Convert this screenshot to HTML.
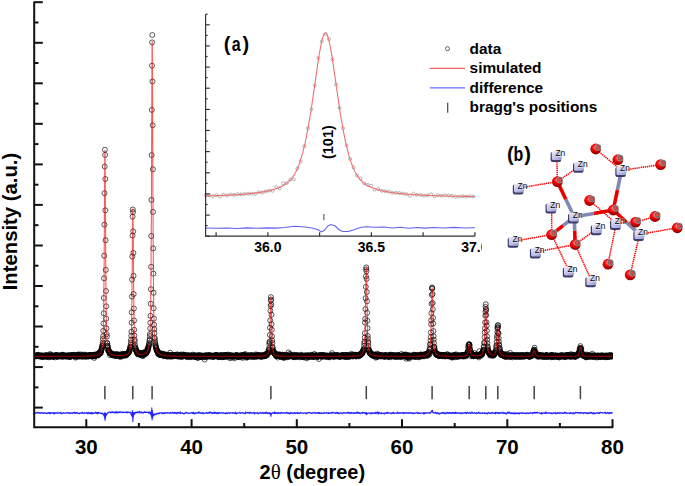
<!DOCTYPE html>
<html><head><meta charset="utf-8"><style>
html,body{margin:0;padding:0;background:#fff;width:685px;height:486px;overflow:hidden}
svg{display:block}
text{font-family:"Liberation Sans",sans-serif;font-weight:bold;fill:#000}
</style></head><body>
<svg width="685" height="486" viewBox="0 0 685 486">
<defs><clipPath id="pc"><rect x="34" y="0" width="578.6" height="430"/></clipPath></defs>
<g clip-path="url(#pc)"><g fill="none" stroke="#000" stroke-width="0.65"><circle cx="35.7" cy="356.2" r="2.5"/><circle cx="35.8" cy="356.1" r="2.5"/><circle cx="36" cy="355.6" r="2.5"/><circle cx="36.2" cy="356.1" r="2.5"/><circle cx="36.4" cy="356.4" r="2.5"/><circle cx="36.6" cy="355.4" r="2.5"/><circle cx="36.7" cy="355.9" r="2.5"/><circle cx="36.9" cy="355.2" r="2.5"/><circle cx="37.1" cy="355.5" r="2.5"/><circle cx="37.3" cy="355.2" r="2.5"/><circle cx="37.5" cy="356" r="2.5"/><circle cx="37.6" cy="355.5" r="2.5"/><circle cx="37.8" cy="356.2" r="2.5"/><circle cx="38" cy="356.1" r="2.5"/><circle cx="38.2" cy="356" r="2.5"/><circle cx="38.4" cy="354.9" r="2.5"/><circle cx="38.5" cy="355.8" r="2.5"/><circle cx="38.7" cy="356" r="2.5"/><circle cx="38.9" cy="356.1" r="2.5"/><circle cx="39.1" cy="355.4" r="2.5"/><circle cx="39.2" cy="355.8" r="2.5"/><circle cx="39.4" cy="355.6" r="2.5"/><circle cx="39.6" cy="355.7" r="2.5"/><circle cx="39.8" cy="356.6" r="2.5"/><circle cx="40" cy="355.7" r="2.5"/><circle cx="40.1" cy="356" r="2.5"/><circle cx="40.3" cy="356.5" r="2.5"/><circle cx="40.5" cy="355.8" r="2.5"/><circle cx="40.7" cy="356" r="2.5"/><circle cx="40.9" cy="356.1" r="2.5"/><circle cx="41" cy="356.1" r="2.5"/><circle cx="41.2" cy="355.5" r="2.5"/><circle cx="41.4" cy="356.1" r="2.5"/><circle cx="41.6" cy="356.7" r="2.5"/><circle cx="41.8" cy="355.3" r="2.5"/><circle cx="41.9" cy="356.5" r="2.5"/><circle cx="42.1" cy="356.5" r="2.5"/><circle cx="42.3" cy="355.8" r="2.5"/><circle cx="42.5" cy="357" r="2.5"/><circle cx="42.6" cy="356.4" r="2.5"/><circle cx="42.8" cy="355.5" r="2.5"/><circle cx="43" cy="356.1" r="2.5"/><circle cx="43.2" cy="356.3" r="2.5"/><circle cx="43.4" cy="356" r="2.5"/><circle cx="43.5" cy="356.4" r="2.5"/><circle cx="43.7" cy="356" r="2.5"/><circle cx="43.9" cy="356.4" r="2.5"/><circle cx="44.1" cy="356.7" r="2.5"/><circle cx="44.3" cy="355.7" r="2.5"/><circle cx="44.4" cy="356.2" r="2.5"/><circle cx="44.6" cy="355.8" r="2.5"/><circle cx="44.8" cy="356.1" r="2.5"/><circle cx="45" cy="355.5" r="2.5"/><circle cx="45.2" cy="355.8" r="2.5"/><circle cx="45.3" cy="356" r="2.5"/><circle cx="45.5" cy="356.5" r="2.5"/><circle cx="45.7" cy="356.6" r="2.5"/><circle cx="45.9" cy="355.4" r="2.5"/><circle cx="46" cy="355.7" r="2.5"/><circle cx="46.2" cy="356.4" r="2.5"/><circle cx="46.4" cy="355.1" r="2.5"/><circle cx="46.6" cy="355.8" r="2.5"/><circle cx="46.8" cy="356" r="2.5"/><circle cx="46.9" cy="356.6" r="2.5"/><circle cx="47.1" cy="356.4" r="2.5"/><circle cx="47.3" cy="355.9" r="2.5"/><circle cx="47.5" cy="355.9" r="2.5"/><circle cx="47.7" cy="355.9" r="2.5"/><circle cx="47.8" cy="356.8" r="2.5"/><circle cx="48" cy="355.9" r="2.5"/><circle cx="48.2" cy="355.9" r="2.5"/><circle cx="48.4" cy="356.2" r="2.5"/><circle cx="48.5" cy="357.3" r="2.5"/><circle cx="48.7" cy="354.9" r="2.5"/><circle cx="48.9" cy="355.5" r="2.5"/><circle cx="49.1" cy="356" r="2.5"/><circle cx="49.3" cy="355.8" r="2.5"/><circle cx="49.4" cy="356.6" r="2.5"/><circle cx="49.6" cy="356.4" r="2.5"/><circle cx="49.8" cy="356" r="2.5"/><circle cx="50" cy="356.4" r="2.5"/><circle cx="50.2" cy="354" r="2.5"/><circle cx="50.3" cy="356.5" r="2.5"/><circle cx="50.5" cy="356.1" r="2.5"/><circle cx="50.7" cy="356.3" r="2.5"/><circle cx="50.9" cy="355.5" r="2.5"/><circle cx="51.1" cy="356.2" r="2.5"/><circle cx="51.2" cy="355.3" r="2.5"/><circle cx="51.4" cy="355.1" r="2.5"/><circle cx="51.6" cy="355.9" r="2.5"/><circle cx="51.8" cy="355.6" r="2.5"/><circle cx="51.9" cy="356.1" r="2.5"/><circle cx="52.1" cy="357.1" r="2.5"/><circle cx="52.3" cy="355.7" r="2.5"/><circle cx="52.5" cy="356.4" r="2.5"/><circle cx="52.7" cy="356.1" r="2.5"/><circle cx="52.8" cy="356.3" r="2.5"/><circle cx="53" cy="356" r="2.5"/><circle cx="53.2" cy="356" r="2.5"/><circle cx="53.4" cy="356.4" r="2.5"/><circle cx="53.6" cy="356.3" r="2.5"/><circle cx="53.7" cy="355.6" r="2.5"/><circle cx="53.9" cy="356.4" r="2.5"/><circle cx="54.1" cy="356.1" r="2.5"/><circle cx="54.3" cy="355.6" r="2.5"/><circle cx="54.5" cy="356.2" r="2.5"/><circle cx="54.6" cy="355.6" r="2.5"/><circle cx="54.8" cy="356.5" r="2.5"/><circle cx="55" cy="357.4" r="2.5"/><circle cx="55.2" cy="356.1" r="2.5"/><circle cx="55.3" cy="355.8" r="2.5"/><circle cx="55.5" cy="356" r="2.5"/><circle cx="55.7" cy="355.1" r="2.5"/><circle cx="55.9" cy="355.5" r="2.5"/><circle cx="56.1" cy="356.2" r="2.5"/><circle cx="56.2" cy="355.1" r="2.5"/><circle cx="56.4" cy="356.4" r="2.5"/><circle cx="56.6" cy="355.2" r="2.5"/><circle cx="56.8" cy="356.4" r="2.5"/><circle cx="57" cy="355.6" r="2.5"/><circle cx="57.1" cy="356.4" r="2.5"/><circle cx="57.3" cy="356.1" r="2.5"/><circle cx="57.5" cy="355.3" r="2.5"/><circle cx="57.7" cy="356.6" r="2.5"/><circle cx="57.9" cy="356.7" r="2.5"/><circle cx="58" cy="356" r="2.5"/><circle cx="58.2" cy="355.9" r="2.5"/><circle cx="58.4" cy="356" r="2.5"/><circle cx="58.6" cy="355.6" r="2.5"/><circle cx="58.7" cy="356.6" r="2.5"/><circle cx="58.9" cy="355.8" r="2.5"/><circle cx="59.1" cy="356" r="2.5"/><circle cx="59.3" cy="355.7" r="2.5"/><circle cx="59.5" cy="355.7" r="2.5"/><circle cx="59.6" cy="355.4" r="2.5"/><circle cx="59.8" cy="355.7" r="2.5"/><circle cx="60" cy="356" r="2.5"/><circle cx="60.2" cy="356.5" r="2.5"/><circle cx="60.4" cy="356" r="2.5"/><circle cx="60.5" cy="355.7" r="2.5"/><circle cx="60.7" cy="355.9" r="2.5"/><circle cx="60.9" cy="355.8" r="2.5"/><circle cx="61.1" cy="356" r="2.5"/><circle cx="61.3" cy="355.9" r="2.5"/><circle cx="61.4" cy="355.9" r="2.5"/><circle cx="61.6" cy="355.4" r="2.5"/><circle cx="61.8" cy="355.7" r="2.5"/><circle cx="62" cy="356.8" r="2.5"/><circle cx="62.1" cy="355.7" r="2.5"/><circle cx="62.3" cy="354.9" r="2.5"/><circle cx="62.5" cy="354.7" r="2.5"/><circle cx="62.7" cy="356.7" r="2.5"/><circle cx="62.9" cy="355.3" r="2.5"/><circle cx="63" cy="355.9" r="2.5"/><circle cx="63.2" cy="355.7" r="2.5"/><circle cx="63.4" cy="355.2" r="2.5"/><circle cx="63.6" cy="356.4" r="2.5"/><circle cx="63.8" cy="356" r="2.5"/><circle cx="63.9" cy="356.1" r="2.5"/><circle cx="64.1" cy="355.7" r="2.5"/><circle cx="64.3" cy="356.2" r="2.5"/><circle cx="64.5" cy="355.8" r="2.5"/><circle cx="64.7" cy="356" r="2.5"/><circle cx="64.8" cy="355.5" r="2.5"/><circle cx="65" cy="355.5" r="2.5"/><circle cx="65.2" cy="356.6" r="2.5"/><circle cx="65.4" cy="355.8" r="2.5"/><circle cx="65.5" cy="356.2" r="2.5"/><circle cx="65.7" cy="356" r="2.5"/><circle cx="65.9" cy="355.8" r="2.5"/><circle cx="66.1" cy="355.8" r="2.5"/><circle cx="66.3" cy="356.3" r="2.5"/><circle cx="66.4" cy="355.9" r="2.5"/><circle cx="66.6" cy="355.9" r="2.5"/><circle cx="66.8" cy="356" r="2.5"/><circle cx="67" cy="356.6" r="2.5"/><circle cx="67.2" cy="356.3" r="2.5"/><circle cx="67.3" cy="356.2" r="2.5"/><circle cx="67.5" cy="355.7" r="2.5"/><circle cx="67.7" cy="355.4" r="2.5"/><circle cx="67.9" cy="356.5" r="2.5"/><circle cx="68.1" cy="355.1" r="2.5"/><circle cx="68.2" cy="355.9" r="2.5"/><circle cx="68.4" cy="356.3" r="2.5"/><circle cx="68.6" cy="356.4" r="2.5"/><circle cx="68.8" cy="356.4" r="2.5"/><circle cx="68.9" cy="356.4" r="2.5"/><circle cx="69.1" cy="355.8" r="2.5"/><circle cx="69.3" cy="356.7" r="2.5"/><circle cx="69.5" cy="355.4" r="2.5"/><circle cx="69.7" cy="356.4" r="2.5"/><circle cx="69.8" cy="356.2" r="2.5"/><circle cx="70" cy="356.4" r="2.5"/><circle cx="70.2" cy="356.9" r="2.5"/><circle cx="70.4" cy="356.7" r="2.5"/><circle cx="70.6" cy="355.5" r="2.5"/><circle cx="70.7" cy="355.2" r="2.5"/><circle cx="70.9" cy="356.4" r="2.5"/><circle cx="71.1" cy="355.5" r="2.5"/><circle cx="71.3" cy="356" r="2.5"/><circle cx="71.4" cy="356.4" r="2.5"/><circle cx="71.6" cy="355.2" r="2.5"/><circle cx="71.8" cy="355" r="2.5"/><circle cx="72" cy="356.1" r="2.5"/><circle cx="72.2" cy="356" r="2.5"/><circle cx="72.3" cy="355.9" r="2.5"/><circle cx="72.5" cy="356" r="2.5"/><circle cx="72.7" cy="355.6" r="2.5"/><circle cx="72.9" cy="355.3" r="2.5"/><circle cx="73.1" cy="355.9" r="2.5"/><circle cx="73.2" cy="355.5" r="2.5"/><circle cx="73.4" cy="355.2" r="2.5"/><circle cx="73.6" cy="356.2" r="2.5"/><circle cx="73.8" cy="356" r="2.5"/><circle cx="74" cy="355.3" r="2.5"/><circle cx="74.1" cy="355.5" r="2.5"/><circle cx="74.3" cy="355.7" r="2.5"/><circle cx="74.5" cy="355.5" r="2.5"/><circle cx="74.7" cy="354.8" r="2.5"/><circle cx="74.8" cy="356.1" r="2.5"/><circle cx="75" cy="355.6" r="2.5"/><circle cx="75.2" cy="356.1" r="2.5"/><circle cx="75.4" cy="357.6" r="2.5"/><circle cx="75.6" cy="356.9" r="2.5"/><circle cx="75.7" cy="355.3" r="2.5"/><circle cx="75.9" cy="356.4" r="2.5"/><circle cx="76.1" cy="355.9" r="2.5"/><circle cx="76.3" cy="356" r="2.5"/><circle cx="76.5" cy="355.3" r="2.5"/><circle cx="76.6" cy="355.7" r="2.5"/><circle cx="76.8" cy="356.3" r="2.5"/><circle cx="77" cy="355.9" r="2.5"/><circle cx="77.2" cy="356" r="2.5"/><circle cx="77.4" cy="355.8" r="2.5"/><circle cx="77.5" cy="356.5" r="2.5"/><circle cx="77.7" cy="355.9" r="2.5"/><circle cx="77.9" cy="354.9" r="2.5"/><circle cx="78.1" cy="355.6" r="2.5"/><circle cx="78.2" cy="355" r="2.5"/><circle cx="78.4" cy="354.4" r="2.5"/><circle cx="78.6" cy="355.7" r="2.5"/><circle cx="78.8" cy="356.6" r="2.5"/><circle cx="79" cy="356" r="2.5"/><circle cx="79.1" cy="355.4" r="2.5"/><circle cx="79.3" cy="355.5" r="2.5"/><circle cx="79.5" cy="356.5" r="2.5"/><circle cx="79.7" cy="356" r="2.5"/><circle cx="79.9" cy="356" r="2.5"/><circle cx="80" cy="355.9" r="2.5"/><circle cx="80.2" cy="356" r="2.5"/><circle cx="80.4" cy="356.3" r="2.5"/><circle cx="80.6" cy="354.4" r="2.5"/><circle cx="80.8" cy="356" r="2.5"/><circle cx="80.9" cy="355.4" r="2.5"/><circle cx="81.1" cy="356.2" r="2.5"/><circle cx="81.3" cy="355.6" r="2.5"/><circle cx="81.5" cy="356.4" r="2.5"/><circle cx="81.6" cy="355.3" r="2.5"/><circle cx="81.8" cy="355.8" r="2.5"/><circle cx="82" cy="355.9" r="2.5"/><circle cx="82.2" cy="355.3" r="2.5"/><circle cx="82.4" cy="356.7" r="2.5"/><circle cx="82.5" cy="356.6" r="2.5"/><circle cx="82.7" cy="355.7" r="2.5"/><circle cx="82.9" cy="356.3" r="2.5"/><circle cx="83.1" cy="355.9" r="2.5"/><circle cx="83.3" cy="354.6" r="2.5"/><circle cx="83.4" cy="356" r="2.5"/><circle cx="83.6" cy="355.9" r="2.5"/><circle cx="83.8" cy="355.9" r="2.5"/><circle cx="84" cy="355.4" r="2.5"/><circle cx="84.2" cy="355.7" r="2.5"/><circle cx="84.3" cy="355.8" r="2.5"/><circle cx="84.5" cy="356.4" r="2.5"/><circle cx="84.7" cy="356" r="2.5"/><circle cx="84.9" cy="355.9" r="2.5"/><circle cx="85" cy="356.6" r="2.5"/><circle cx="85.2" cy="354.7" r="2.5"/><circle cx="85.4" cy="355.7" r="2.5"/><circle cx="85.6" cy="355" r="2.5"/><circle cx="85.8" cy="356.6" r="2.5"/><circle cx="85.9" cy="356.3" r="2.5"/><circle cx="86.1" cy="356.3" r="2.5"/><circle cx="86.3" cy="356.2" r="2.5"/><circle cx="86.5" cy="355.9" r="2.5"/><circle cx="86.7" cy="355.9" r="2.5"/><circle cx="86.8" cy="355.7" r="2.5"/><circle cx="87" cy="355.7" r="2.5"/><circle cx="87.2" cy="355.8" r="2.5"/><circle cx="87.4" cy="356.5" r="2.5"/><circle cx="87.6" cy="356.1" r="2.5"/><circle cx="87.7" cy="355.8" r="2.5"/><circle cx="87.9" cy="355.5" r="2.5"/><circle cx="88.1" cy="355.5" r="2.5"/><circle cx="88.3" cy="356.6" r="2.5"/><circle cx="88.4" cy="356" r="2.5"/><circle cx="88.6" cy="355.8" r="2.5"/><circle cx="88.8" cy="355.6" r="2.5"/><circle cx="89" cy="355.2" r="2.5"/><circle cx="89.2" cy="355.7" r="2.5"/><circle cx="89.3" cy="356.2" r="2.5"/><circle cx="89.5" cy="355.5" r="2.5"/><circle cx="89.7" cy="355.6" r="2.5"/><circle cx="89.9" cy="355.6" r="2.5"/><circle cx="90.1" cy="355.8" r="2.5"/><circle cx="90.2" cy="354.9" r="2.5"/><circle cx="90.4" cy="355.6" r="2.5"/><circle cx="90.6" cy="355.3" r="2.5"/><circle cx="90.8" cy="356.1" r="2.5"/><circle cx="91" cy="355.3" r="2.5"/><circle cx="91.1" cy="355.9" r="2.5"/><circle cx="91.3" cy="356.4" r="2.5"/><circle cx="91.5" cy="355.5" r="2.5"/><circle cx="91.7" cy="355.3" r="2.5"/><circle cx="91.8" cy="355.7" r="2.5"/><circle cx="92" cy="355.6" r="2.5"/><circle cx="92.2" cy="355.1" r="2.5"/><circle cx="92.4" cy="355.8" r="2.5"/><circle cx="92.6" cy="356.6" r="2.5"/><circle cx="92.7" cy="355.4" r="2.5"/><circle cx="92.9" cy="355.4" r="2.5"/><circle cx="93.1" cy="355" r="2.5"/><circle cx="93.3" cy="355.6" r="2.5"/><circle cx="93.5" cy="354.8" r="2.5"/><circle cx="93.6" cy="354.9" r="2.5"/><circle cx="93.8" cy="356.1" r="2.5"/><circle cx="94" cy="354.9" r="2.5"/><circle cx="94.2" cy="357.9" r="2.5"/><circle cx="94.3" cy="356.1" r="2.5"/><circle cx="94.5" cy="355.5" r="2.5"/><circle cx="94.7" cy="355.6" r="2.5"/><circle cx="94.9" cy="356.3" r="2.5"/><circle cx="95.1" cy="355.2" r="2.5"/><circle cx="95.2" cy="354.9" r="2.5"/><circle cx="95.4" cy="354.5" r="2.5"/><circle cx="95.6" cy="355.2" r="2.5"/><circle cx="95.8" cy="355.9" r="2.5"/><circle cx="96" cy="355.6" r="2.5"/><circle cx="96.1" cy="354.6" r="2.5"/><circle cx="96.3" cy="354.6" r="2.5"/><circle cx="96.5" cy="354.7" r="2.5"/><circle cx="96.7" cy="355.1" r="2.5"/><circle cx="96.9" cy="354.8" r="2.5"/><circle cx="97" cy="354.9" r="2.5"/><circle cx="97.2" cy="354.9" r="2.5"/><circle cx="97.4" cy="354.9" r="2.5"/><circle cx="97.6" cy="354.6" r="2.5"/><circle cx="97.7" cy="354.7" r="2.5"/><circle cx="97.9" cy="354.5" r="2.5"/><circle cx="98.1" cy="354.7" r="2.5"/><circle cx="98.3" cy="355.4" r="2.5"/><circle cx="98.5" cy="354.6" r="2.5"/><circle cx="98.6" cy="354.2" r="2.5"/><circle cx="98.8" cy="353.1" r="2.5"/><circle cx="99" cy="354.1" r="2.5"/><circle cx="99.2" cy="352.7" r="2.5"/><circle cx="99.4" cy="352.9" r="2.5"/><circle cx="99.5" cy="354" r="2.5"/><circle cx="99.7" cy="353.7" r="2.5"/><circle cx="99.9" cy="353.1" r="2.5"/><circle cx="100.1" cy="352" r="2.5"/><circle cx="100.3" cy="352.5" r="2.5"/><circle cx="100.4" cy="352" r="2.5"/><circle cx="100.6" cy="352.5" r="2.5"/><circle cx="100.8" cy="353.2" r="2.5"/><circle cx="101" cy="351.6" r="2.5"/><circle cx="101.1" cy="350.6" r="2.5"/><circle cx="101.3" cy="349.8" r="2.5"/><circle cx="101.5" cy="349.9" r="2.5"/><circle cx="101.7" cy="349.2" r="2.5"/><circle cx="101.9" cy="347.8" r="2.5"/><circle cx="102" cy="347.8" r="2.5"/><circle cx="102.2" cy="345.9" r="2.5"/><circle cx="102.4" cy="346.1" r="2.5"/><circle cx="102.6" cy="344.6" r="2.5"/><circle cx="102.8" cy="342.6" r="2.5"/><circle cx="102.9" cy="339" r="2.5"/><circle cx="103.1" cy="336.2" r="2.5"/><circle cx="103.3" cy="330.8" r="2.5"/><circle cx="103.5" cy="323.5" r="2.5"/><circle cx="103.7" cy="313.3" r="2.5"/><circle cx="103.8" cy="298" r="2.5"/><circle cx="104" cy="278.3" r="2.5"/><circle cx="104.2" cy="255.7" r="2.5"/><circle cx="104.4" cy="224.7" r="2.5"/><circle cx="104.5" cy="193.2" r="2.5"/><circle cx="104.7" cy="166.5" r="2.5"/><circle cx="104.9" cy="149.7" r="2.5"/><circle cx="105.1" cy="154.9" r="2.5"/><circle cx="105.3" cy="179" r="2.5"/><circle cx="105.4" cy="210.3" r="2.5"/><circle cx="105.6" cy="240.2" r="2.5"/><circle cx="105.8" cy="269.9" r="2.5"/><circle cx="106" cy="291" r="2.5"/><circle cx="106.2" cy="306.3" r="2.5"/><circle cx="106.3" cy="318.7" r="2.5"/><circle cx="106.5" cy="328.5" r="2.5"/><circle cx="106.7" cy="334.1" r="2.5"/><circle cx="106.9" cy="336.4" r="2.5"/><circle cx="107.1" cy="342.8" r="2.5"/><circle cx="107.2" cy="343.4" r="2.5"/><circle cx="107.4" cy="345.6" r="2.5"/><circle cx="107.6" cy="345.8" r="2.5"/><circle cx="107.8" cy="347" r="2.5"/><circle cx="107.9" cy="347.4" r="2.5"/><circle cx="108.1" cy="350.6" r="2.5"/><circle cx="108.3" cy="349.5" r="2.5"/><circle cx="108.5" cy="351.2" r="2.5"/><circle cx="108.7" cy="350.4" r="2.5"/><circle cx="108.8" cy="351.3" r="2.5"/><circle cx="109" cy="350.6" r="2.5"/><circle cx="109.2" cy="351.7" r="2.5"/><circle cx="109.4" cy="352.8" r="2.5"/><circle cx="109.6" cy="351.8" r="2.5"/><circle cx="109.7" cy="352.6" r="2.5"/><circle cx="109.9" cy="355.2" r="2.5"/><circle cx="110.1" cy="352.6" r="2.5"/><circle cx="110.3" cy="353.1" r="2.5"/><circle cx="110.5" cy="353.2" r="2.5"/><circle cx="110.6" cy="353.6" r="2.5"/><circle cx="110.8" cy="353.5" r="2.5"/><circle cx="111" cy="353.4" r="2.5"/><circle cx="111.2" cy="353.8" r="2.5"/><circle cx="111.3" cy="353.5" r="2.5"/><circle cx="111.5" cy="353.5" r="2.5"/><circle cx="111.7" cy="354.3" r="2.5"/><circle cx="111.9" cy="354.8" r="2.5"/><circle cx="112.1" cy="353.6" r="2.5"/><circle cx="112.2" cy="354.5" r="2.5"/><circle cx="112.4" cy="354.2" r="2.5"/><circle cx="112.6" cy="354.1" r="2.5"/><circle cx="112.8" cy="355.1" r="2.5"/><circle cx="113" cy="354.5" r="2.5"/><circle cx="113.1" cy="355.6" r="2.5"/><circle cx="113.3" cy="354.4" r="2.5"/><circle cx="113.5" cy="355.1" r="2.5"/><circle cx="113.7" cy="354.8" r="2.5"/><circle cx="113.9" cy="354.5" r="2.5"/><circle cx="114" cy="355.3" r="2.5"/><circle cx="114.2" cy="354.9" r="2.5"/><circle cx="114.4" cy="355.3" r="2.5"/><circle cx="114.6" cy="355" r="2.5"/><circle cx="114.7" cy="354.5" r="2.5"/><circle cx="114.9" cy="355" r="2.5"/><circle cx="115.1" cy="356.1" r="2.5"/><circle cx="115.3" cy="355.6" r="2.5"/><circle cx="115.5" cy="354.7" r="2.5"/><circle cx="115.6" cy="355.1" r="2.5"/><circle cx="115.8" cy="354.3" r="2.5"/><circle cx="116" cy="355.5" r="2.5"/><circle cx="116.2" cy="354.7" r="2.5"/><circle cx="116.4" cy="354.3" r="2.5"/><circle cx="116.5" cy="355.2" r="2.5"/><circle cx="116.7" cy="355.8" r="2.5"/><circle cx="116.9" cy="354.5" r="2.5"/><circle cx="117.1" cy="354.7" r="2.5"/><circle cx="117.3" cy="354.9" r="2.5"/><circle cx="117.4" cy="354.7" r="2.5"/><circle cx="117.6" cy="355.5" r="2.5"/><circle cx="117.8" cy="354.9" r="2.5"/><circle cx="118" cy="354.9" r="2.5"/><circle cx="118.1" cy="355.6" r="2.5"/><circle cx="118.3" cy="354.9" r="2.5"/><circle cx="118.5" cy="355.5" r="2.5"/><circle cx="118.7" cy="354.8" r="2.5"/><circle cx="118.9" cy="354.7" r="2.5"/><circle cx="119" cy="354.4" r="2.5"/><circle cx="119.2" cy="356.3" r="2.5"/><circle cx="119.4" cy="355.2" r="2.5"/><circle cx="119.6" cy="355.4" r="2.5"/><circle cx="119.8" cy="355.3" r="2.5"/><circle cx="119.9" cy="355.4" r="2.5"/><circle cx="120.1" cy="355.3" r="2.5"/><circle cx="120.3" cy="356.3" r="2.5"/><circle cx="120.5" cy="357.1" r="2.5"/><circle cx="120.6" cy="356" r="2.5"/><circle cx="120.8" cy="354.8" r="2.5"/><circle cx="121" cy="354.6" r="2.5"/><circle cx="121.2" cy="355.7" r="2.5"/><circle cx="121.4" cy="355.7" r="2.5"/><circle cx="121.5" cy="354.8" r="2.5"/><circle cx="121.7" cy="354.5" r="2.5"/><circle cx="121.9" cy="355.1" r="2.5"/><circle cx="122.1" cy="355.9" r="2.5"/><circle cx="122.3" cy="353.8" r="2.5"/><circle cx="122.4" cy="355.5" r="2.5"/><circle cx="122.6" cy="354.6" r="2.5"/><circle cx="122.8" cy="355.7" r="2.5"/><circle cx="123" cy="354.6" r="2.5"/><circle cx="123.2" cy="355" r="2.5"/><circle cx="123.3" cy="354.3" r="2.5"/><circle cx="123.5" cy="354.6" r="2.5"/><circle cx="123.7" cy="355.8" r="2.5"/><circle cx="123.9" cy="355.5" r="2.5"/><circle cx="124" cy="354.8" r="2.5"/><circle cx="124.2" cy="354.5" r="2.5"/><circle cx="124.4" cy="354" r="2.5"/><circle cx="124.6" cy="354.7" r="2.5"/><circle cx="124.8" cy="354.9" r="2.5"/><circle cx="124.9" cy="354.8" r="2.5"/><circle cx="125.1" cy="354.8" r="2.5"/><circle cx="125.3" cy="354.2" r="2.5"/><circle cx="125.5" cy="354.7" r="2.5"/><circle cx="125.7" cy="354.7" r="2.5"/><circle cx="125.8" cy="355.3" r="2.5"/><circle cx="126" cy="355.6" r="2.5"/><circle cx="126.2" cy="354.4" r="2.5"/><circle cx="126.4" cy="354" r="2.5"/><circle cx="126.6" cy="354.3" r="2.5"/><circle cx="126.7" cy="354" r="2.5"/><circle cx="126.9" cy="353.8" r="2.5"/><circle cx="127.1" cy="354.1" r="2.5"/><circle cx="127.3" cy="353.4" r="2.5"/><circle cx="127.4" cy="354.2" r="2.5"/><circle cx="127.6" cy="353.7" r="2.5"/><circle cx="127.8" cy="353.7" r="2.5"/><circle cx="128" cy="353.3" r="2.5"/><circle cx="128.2" cy="352.9" r="2.5"/><circle cx="128.3" cy="352.5" r="2.5"/><circle cx="128.5" cy="352.7" r="2.5"/><circle cx="128.7" cy="352.3" r="2.5"/><circle cx="128.9" cy="352.5" r="2.5"/><circle cx="129.1" cy="352" r="2.5"/><circle cx="129.2" cy="350.8" r="2.5"/><circle cx="129.4" cy="351.3" r="2.5"/><circle cx="129.6" cy="349.9" r="2.5"/><circle cx="129.8" cy="349.8" r="2.5"/><circle cx="130" cy="349.3" r="2.5"/><circle cx="130.1" cy="347.4" r="2.5"/><circle cx="130.3" cy="347.8" r="2.5"/><circle cx="130.5" cy="346.6" r="2.5"/><circle cx="130.7" cy="344.9" r="2.5"/><circle cx="130.8" cy="342.7" r="2.5"/><circle cx="131" cy="340" r="2.5"/><circle cx="131.2" cy="335.7" r="2.5"/><circle cx="131.4" cy="331.7" r="2.5"/><circle cx="131.6" cy="322.6" r="2.5"/><circle cx="131.7" cy="312.3" r="2.5"/><circle cx="131.9" cy="296.6" r="2.5"/><circle cx="132.1" cy="279.6" r="2.5"/><circle cx="132.3" cy="256.6" r="2.5"/><circle cx="132.5" cy="235.6" r="2.5"/><circle cx="132.6" cy="216.7" r="2.5"/><circle cx="132.8" cy="209.5" r="2.5"/><circle cx="133" cy="212" r="2.5"/><circle cx="133.2" cy="231.4" r="2.5"/><circle cx="133.4" cy="252.9" r="2.5"/><circle cx="133.5" cy="275.8" r="2.5"/><circle cx="133.7" cy="294" r="2.5"/><circle cx="133.9" cy="308.5" r="2.5"/><circle cx="134.1" cy="320.5" r="2.5"/><circle cx="134.2" cy="329.8" r="2.5"/><circle cx="134.4" cy="335.6" r="2.5"/><circle cx="134.6" cy="339.6" r="2.5"/><circle cx="134.8" cy="341.3" r="2.5"/><circle cx="135" cy="344.9" r="2.5"/><circle cx="135.1" cy="346.9" r="2.5"/><circle cx="135.3" cy="348" r="2.5"/><circle cx="135.5" cy="348.5" r="2.5"/><circle cx="135.7" cy="348.2" r="2.5"/><circle cx="135.9" cy="350.5" r="2.5"/><circle cx="136" cy="350.3" r="2.5"/><circle cx="136.2" cy="350.2" r="2.5"/><circle cx="136.4" cy="351.6" r="2.5"/><circle cx="136.6" cy="350.7" r="2.5"/><circle cx="136.8" cy="351.3" r="2.5"/><circle cx="136.9" cy="351.9" r="2.5"/><circle cx="137.1" cy="353.3" r="2.5"/><circle cx="137.3" cy="352.5" r="2.5"/><circle cx="137.5" cy="353.1" r="2.5"/><circle cx="137.6" cy="354.1" r="2.5"/><circle cx="137.8" cy="354.2" r="2.5"/><circle cx="138" cy="353.3" r="2.5"/><circle cx="138.2" cy="353.4" r="2.5"/><circle cx="138.4" cy="352.9" r="2.5"/><circle cx="138.5" cy="353.3" r="2.5"/><circle cx="138.7" cy="353" r="2.5"/><circle cx="138.9" cy="354.1" r="2.5"/><circle cx="139.1" cy="352.5" r="2.5"/><circle cx="139.3" cy="354.5" r="2.5"/><circle cx="139.4" cy="353.6" r="2.5"/><circle cx="139.6" cy="354" r="2.5"/><circle cx="139.8" cy="354.5" r="2.5"/><circle cx="140" cy="354.5" r="2.5"/><circle cx="140.2" cy="354.8" r="2.5"/><circle cx="140.3" cy="354.4" r="2.5"/><circle cx="140.5" cy="354" r="2.5"/><circle cx="140.7" cy="354.4" r="2.5"/><circle cx="140.9" cy="353.7" r="2.5"/><circle cx="141" cy="353.4" r="2.5"/><circle cx="141.2" cy="354.6" r="2.5"/><circle cx="141.4" cy="354.2" r="2.5"/><circle cx="141.6" cy="354.4" r="2.5"/><circle cx="141.8" cy="353.3" r="2.5"/><circle cx="141.9" cy="354.9" r="2.5"/><circle cx="142.1" cy="355.6" r="2.5"/><circle cx="142.3" cy="353.7" r="2.5"/><circle cx="142.5" cy="352.9" r="2.5"/><circle cx="142.7" cy="353.5" r="2.5"/><circle cx="142.8" cy="355.2" r="2.5"/><circle cx="143" cy="356.1" r="2.5"/><circle cx="143.2" cy="353.7" r="2.5"/><circle cx="143.4" cy="354" r="2.5"/><circle cx="143.5" cy="354.4" r="2.5"/><circle cx="143.7" cy="352.4" r="2.5"/><circle cx="143.9" cy="352.5" r="2.5"/><circle cx="144.1" cy="354.1" r="2.5"/><circle cx="144.3" cy="354.1" r="2.5"/><circle cx="144.4" cy="354.6" r="2.5"/><circle cx="144.6" cy="354.2" r="2.5"/><circle cx="144.8" cy="353.6" r="2.5"/><circle cx="145" cy="353.5" r="2.5"/><circle cx="145.2" cy="353.2" r="2.5"/><circle cx="145.3" cy="352.8" r="2.5"/><circle cx="145.5" cy="353" r="2.5"/><circle cx="145.7" cy="353.4" r="2.5"/><circle cx="145.9" cy="353.8" r="2.5"/><circle cx="146.1" cy="352.5" r="2.5"/><circle cx="146.2" cy="352.3" r="2.5"/><circle cx="146.4" cy="352.3" r="2.5"/><circle cx="146.6" cy="352.7" r="2.5"/><circle cx="146.8" cy="351.7" r="2.5"/><circle cx="146.9" cy="352.3" r="2.5"/><circle cx="147.1" cy="350.6" r="2.5"/><circle cx="147.3" cy="349.1" r="2.5"/><circle cx="147.5" cy="350.3" r="2.5"/><circle cx="147.7" cy="350.5" r="2.5"/><circle cx="147.8" cy="350.2" r="2.5"/><circle cx="148" cy="348.1" r="2.5"/><circle cx="148.2" cy="347.9" r="2.5"/><circle cx="148.4" cy="348" r="2.5"/><circle cx="148.6" cy="346.6" r="2.5"/><circle cx="148.7" cy="345.1" r="2.5"/><circle cx="148.9" cy="345.8" r="2.5"/><circle cx="149.1" cy="344.2" r="2.5"/><circle cx="149.3" cy="342.8" r="2.5"/><circle cx="149.5" cy="340.5" r="2.5"/><circle cx="149.6" cy="339.6" r="2.5"/><circle cx="149.8" cy="336.1" r="2.5"/><circle cx="150" cy="334" r="2.5"/><circle cx="150.2" cy="328.3" r="2.5"/><circle cx="150.3" cy="322.7" r="2.5"/><circle cx="150.5" cy="315.8" r="2.5"/><circle cx="150.7" cy="303.7" r="2.5"/><circle cx="150.9" cy="289.2" r="2.5"/><circle cx="151.1" cy="266.8" r="2.5"/><circle cx="151.2" cy="236" r="2.5"/><circle cx="151.4" cy="199.9" r="2.5"/><circle cx="151.6" cy="155.1" r="2.5"/><circle cx="151.8" cy="109.9" r="2.5"/><circle cx="152" cy="65.7" r="2.5"/><circle cx="152.1" cy="42.4" r="2.5"/><circle cx="152.3" cy="35" r="2.5"/><circle cx="152.5" cy="81.4" r="2.5"/><circle cx="152.7" cy="125.3" r="2.5"/><circle cx="152.9" cy="169.3" r="2.5"/><circle cx="153" cy="211.9" r="2.5"/><circle cx="153.2" cy="248.4" r="2.5"/><circle cx="153.4" cy="273.6" r="2.5"/><circle cx="153.6" cy="292.8" r="2.5"/><circle cx="153.7" cy="308.3" r="2.5"/><circle cx="153.9" cy="318.6" r="2.5"/><circle cx="154.1" cy="324.7" r="2.5"/><circle cx="154.3" cy="329.1" r="2.5"/><circle cx="154.5" cy="333.1" r="2.5"/><circle cx="154.6" cy="337.7" r="2.5"/><circle cx="154.8" cy="339" r="2.5"/><circle cx="155" cy="341.3" r="2.5"/><circle cx="155.2" cy="343.2" r="2.5"/><circle cx="155.4" cy="344.8" r="2.5"/><circle cx="155.5" cy="345.3" r="2.5"/><circle cx="155.7" cy="346.8" r="2.5"/><circle cx="155.9" cy="346.8" r="2.5"/><circle cx="156.1" cy="347.9" r="2.5"/><circle cx="156.3" cy="348.1" r="2.5"/><circle cx="156.4" cy="350.1" r="2.5"/><circle cx="156.6" cy="349.8" r="2.5"/><circle cx="156.8" cy="349.9" r="2.5"/><circle cx="157" cy="350.5" r="2.5"/><circle cx="157.1" cy="351" r="2.5"/><circle cx="157.3" cy="351.8" r="2.5"/><circle cx="157.5" cy="350.8" r="2.5"/><circle cx="157.7" cy="351.4" r="2.5"/><circle cx="157.9" cy="352" r="2.5"/><circle cx="158" cy="353.9" r="2.5"/><circle cx="158.2" cy="353.2" r="2.5"/><circle cx="158.4" cy="352.8" r="2.5"/><circle cx="158.6" cy="353.4" r="2.5"/><circle cx="158.8" cy="354.4" r="2.5"/><circle cx="158.9" cy="353.2" r="2.5"/><circle cx="159.1" cy="353.3" r="2.5"/><circle cx="159.3" cy="354.3" r="2.5"/><circle cx="159.5" cy="354" r="2.5"/><circle cx="159.7" cy="354.2" r="2.5"/><circle cx="159.8" cy="353.6" r="2.5"/><circle cx="160" cy="355.1" r="2.5"/><circle cx="160.2" cy="355" r="2.5"/><circle cx="160.4" cy="354.5" r="2.5"/><circle cx="160.5" cy="354.6" r="2.5"/><circle cx="160.7" cy="353.2" r="2.5"/><circle cx="160.9" cy="354.7" r="2.5"/><circle cx="161.1" cy="354.4" r="2.5"/><circle cx="161.3" cy="354.8" r="2.5"/><circle cx="161.4" cy="354.9" r="2.5"/><circle cx="161.6" cy="354.5" r="2.5"/><circle cx="161.8" cy="353.8" r="2.5"/><circle cx="162" cy="354.9" r="2.5"/><circle cx="162.2" cy="354.4" r="2.5"/><circle cx="162.3" cy="354.6" r="2.5"/><circle cx="162.5" cy="354.5" r="2.5"/><circle cx="162.7" cy="354.7" r="2.5"/><circle cx="162.9" cy="353.7" r="2.5"/><circle cx="163.1" cy="355.6" r="2.5"/><circle cx="163.2" cy="355.1" r="2.5"/><circle cx="163.4" cy="355.6" r="2.5"/><circle cx="163.6" cy="356.1" r="2.5"/><circle cx="163.8" cy="355.1" r="2.5"/><circle cx="163.9" cy="354.2" r="2.5"/><circle cx="164.1" cy="354.7" r="2.5"/><circle cx="164.3" cy="354.6" r="2.5"/><circle cx="164.5" cy="355" r="2.5"/><circle cx="164.7" cy="355.3" r="2.5"/><circle cx="164.8" cy="355.8" r="2.5"/><circle cx="165" cy="355.5" r="2.5"/><circle cx="165.2" cy="354.5" r="2.5"/><circle cx="165.4" cy="355.5" r="2.5"/><circle cx="165.6" cy="355.3" r="2.5"/><circle cx="165.7" cy="355.2" r="2.5"/><circle cx="165.9" cy="355.3" r="2.5"/><circle cx="166.1" cy="355.1" r="2.5"/><circle cx="166.3" cy="355.1" r="2.5"/><circle cx="166.4" cy="354.6" r="2.5"/><circle cx="166.6" cy="355.4" r="2.5"/><circle cx="166.8" cy="356.4" r="2.5"/><circle cx="167" cy="356.5" r="2.5"/><circle cx="167.2" cy="356.2" r="2.5"/><circle cx="167.3" cy="356.2" r="2.5"/><circle cx="167.5" cy="355.2" r="2.5"/><circle cx="167.7" cy="355.5" r="2.5"/><circle cx="167.9" cy="355.5" r="2.5"/><circle cx="168.1" cy="355.5" r="2.5"/><circle cx="168.2" cy="355.4" r="2.5"/><circle cx="168.4" cy="355.6" r="2.5"/><circle cx="168.6" cy="355.4" r="2.5"/><circle cx="168.8" cy="355.5" r="2.5"/><circle cx="169" cy="355.1" r="2.5"/><circle cx="169.1" cy="355.4" r="2.5"/><circle cx="169.3" cy="356.8" r="2.5"/><circle cx="169.5" cy="355.6" r="2.5"/><circle cx="169.7" cy="355.5" r="2.5"/><circle cx="169.8" cy="355.9" r="2.5"/><circle cx="170" cy="356" r="2.5"/><circle cx="170.2" cy="352.7" r="2.5"/><circle cx="170.4" cy="355.6" r="2.5"/><circle cx="170.6" cy="356.1" r="2.5"/><circle cx="170.7" cy="355.8" r="2.5"/><circle cx="170.9" cy="355.8" r="2.5"/><circle cx="171.1" cy="356.5" r="2.5"/><circle cx="171.3" cy="355.4" r="2.5"/><circle cx="171.5" cy="355.8" r="2.5"/><circle cx="171.6" cy="355.5" r="2.5"/><circle cx="171.8" cy="356.5" r="2.5"/><circle cx="172" cy="354.8" r="2.5"/><circle cx="172.2" cy="355.4" r="2.5"/><circle cx="172.4" cy="355.2" r="2.5"/><circle cx="172.5" cy="356.1" r="2.5"/><circle cx="172.7" cy="356.1" r="2.5"/><circle cx="172.9" cy="356.4" r="2.5"/><circle cx="173.1" cy="355" r="2.5"/><circle cx="173.2" cy="356.1" r="2.5"/><circle cx="173.4" cy="355.6" r="2.5"/><circle cx="173.6" cy="355.5" r="2.5"/><circle cx="173.8" cy="356" r="2.5"/><circle cx="174" cy="355.3" r="2.5"/><circle cx="174.1" cy="356.1" r="2.5"/><circle cx="174.3" cy="355.6" r="2.5"/><circle cx="174.5" cy="355.1" r="2.5"/><circle cx="174.7" cy="355.5" r="2.5"/><circle cx="174.9" cy="356" r="2.5"/><circle cx="175" cy="355.5" r="2.5"/><circle cx="175.2" cy="355.9" r="2.5"/><circle cx="175.4" cy="355.7" r="2.5"/><circle cx="175.6" cy="355.1" r="2.5"/><circle cx="175.8" cy="355.5" r="2.5"/><circle cx="175.9" cy="356.2" r="2.5"/><circle cx="176.1" cy="355.2" r="2.5"/><circle cx="176.3" cy="356.1" r="2.5"/><circle cx="176.5" cy="355.5" r="2.5"/><circle cx="176.6" cy="354.9" r="2.5"/><circle cx="176.8" cy="356.2" r="2.5"/><circle cx="177" cy="355.8" r="2.5"/><circle cx="177.2" cy="354.3" r="2.5"/><circle cx="177.4" cy="355.9" r="2.5"/><circle cx="177.5" cy="356.2" r="2.5"/><circle cx="177.7" cy="355.9" r="2.5"/><circle cx="177.9" cy="356.5" r="2.5"/><circle cx="178.1" cy="356.1" r="2.5"/><circle cx="178.3" cy="356.1" r="2.5"/><circle cx="178.4" cy="356.1" r="2.5"/><circle cx="178.6" cy="355.2" r="2.5"/><circle cx="178.8" cy="355.8" r="2.5"/><circle cx="179" cy="355.8" r="2.5"/><circle cx="179.2" cy="356" r="2.5"/><circle cx="179.3" cy="355.2" r="2.5"/><circle cx="179.5" cy="356.7" r="2.5"/><circle cx="179.7" cy="355.9" r="2.5"/><circle cx="179.9" cy="355.3" r="2.5"/><circle cx="180" cy="355.1" r="2.5"/><circle cx="180.2" cy="355.8" r="2.5"/><circle cx="180.4" cy="355.9" r="2.5"/><circle cx="180.6" cy="355.6" r="2.5"/><circle cx="180.8" cy="356.7" r="2.5"/><circle cx="180.9" cy="355.6" r="2.5"/><circle cx="181.1" cy="356.2" r="2.5"/><circle cx="181.3" cy="354.4" r="2.5"/><circle cx="181.5" cy="355.9" r="2.5"/><circle cx="181.7" cy="356.4" r="2.5"/><circle cx="181.8" cy="357.2" r="2.5"/><circle cx="182" cy="355.4" r="2.5"/><circle cx="182.2" cy="355.7" r="2.5"/><circle cx="182.4" cy="355.5" r="2.5"/><circle cx="182.6" cy="356.3" r="2.5"/><circle cx="182.7" cy="355.4" r="2.5"/><circle cx="182.9" cy="355.7" r="2.5"/><circle cx="183.1" cy="355.9" r="2.5"/><circle cx="183.3" cy="355.5" r="2.5"/><circle cx="183.4" cy="355.5" r="2.5"/><circle cx="183.6" cy="354.5" r="2.5"/><circle cx="183.8" cy="354.9" r="2.5"/><circle cx="184" cy="355.2" r="2.5"/><circle cx="184.2" cy="355.7" r="2.5"/><circle cx="184.3" cy="356" r="2.5"/><circle cx="184.5" cy="355.9" r="2.5"/><circle cx="184.7" cy="355.1" r="2.5"/><circle cx="184.9" cy="355.7" r="2.5"/><circle cx="185.1" cy="356.3" r="2.5"/><circle cx="185.2" cy="356.2" r="2.5"/><circle cx="185.4" cy="356.2" r="2.5"/><circle cx="185.6" cy="355.5" r="2.5"/><circle cx="185.8" cy="356.3" r="2.5"/><circle cx="186" cy="355.7" r="2.5"/><circle cx="186.1" cy="355.4" r="2.5"/><circle cx="186.3" cy="355.6" r="2.5"/><circle cx="186.5" cy="356.6" r="2.5"/><circle cx="186.7" cy="355.9" r="2.5"/><circle cx="186.8" cy="356.5" r="2.5"/><circle cx="187" cy="355.7" r="2.5"/><circle cx="187.2" cy="356.4" r="2.5"/><circle cx="187.4" cy="355.3" r="2.5"/><circle cx="187.6" cy="355.9" r="2.5"/><circle cx="187.7" cy="357.1" r="2.5"/><circle cx="187.9" cy="356.3" r="2.5"/><circle cx="188.1" cy="355.7" r="2.5"/><circle cx="188.3" cy="355.9" r="2.5"/><circle cx="188.5" cy="356.1" r="2.5"/><circle cx="188.6" cy="356.5" r="2.5"/><circle cx="188.8" cy="355.7" r="2.5"/><circle cx="189" cy="355.1" r="2.5"/><circle cx="189.2" cy="355.8" r="2.5"/><circle cx="189.3" cy="356" r="2.5"/><circle cx="189.5" cy="356" r="2.5"/><circle cx="189.7" cy="356.6" r="2.5"/><circle cx="189.9" cy="356.1" r="2.5"/><circle cx="190.1" cy="356.4" r="2.5"/><circle cx="190.2" cy="355.5" r="2.5"/><circle cx="190.4" cy="356.4" r="2.5"/><circle cx="190.6" cy="357.2" r="2.5"/><circle cx="190.8" cy="356.4" r="2.5"/><circle cx="191" cy="356.1" r="2.5"/><circle cx="191.1" cy="356.1" r="2.5"/><circle cx="191.3" cy="356.8" r="2.5"/><circle cx="191.5" cy="355.5" r="2.5"/><circle cx="191.7" cy="355.9" r="2.5"/><circle cx="191.9" cy="356.2" r="2.5"/><circle cx="192" cy="356.3" r="2.5"/><circle cx="192.2" cy="355.8" r="2.5"/><circle cx="192.4" cy="356.1" r="2.5"/><circle cx="192.6" cy="355.9" r="2.5"/><circle cx="192.7" cy="356.3" r="2.5"/><circle cx="192.9" cy="354.6" r="2.5"/><circle cx="193.1" cy="355.5" r="2.5"/><circle cx="193.3" cy="356" r="2.5"/><circle cx="193.5" cy="356.4" r="2.5"/><circle cx="193.6" cy="355.5" r="2.5"/><circle cx="193.8" cy="355.9" r="2.5"/><circle cx="194" cy="356.3" r="2.5"/><circle cx="194.2" cy="355.5" r="2.5"/><circle cx="194.4" cy="356.1" r="2.5"/><circle cx="194.5" cy="355.5" r="2.5"/><circle cx="194.7" cy="355.6" r="2.5"/><circle cx="194.9" cy="357.1" r="2.5"/><circle cx="195.1" cy="357" r="2.5"/><circle cx="195.3" cy="355.9" r="2.5"/><circle cx="195.4" cy="356.4" r="2.5"/><circle cx="195.6" cy="356.1" r="2.5"/><circle cx="195.8" cy="356.1" r="2.5"/><circle cx="196" cy="356.7" r="2.5"/><circle cx="196.1" cy="355.4" r="2.5"/><circle cx="196.3" cy="356.5" r="2.5"/><circle cx="196.5" cy="356" r="2.5"/><circle cx="196.7" cy="356.7" r="2.5"/><circle cx="196.9" cy="356.1" r="2.5"/><circle cx="197" cy="355.7" r="2.5"/><circle cx="197.2" cy="356.7" r="2.5"/><circle cx="197.4" cy="356.4" r="2.5"/><circle cx="197.6" cy="357.5" r="2.5"/><circle cx="197.8" cy="358.1" r="2.5"/><circle cx="197.9" cy="355.8" r="2.5"/><circle cx="198.1" cy="355" r="2.5"/><circle cx="198.3" cy="356.4" r="2.5"/><circle cx="198.5" cy="356.3" r="2.5"/><circle cx="198.7" cy="356.1" r="2.5"/><circle cx="198.8" cy="356" r="2.5"/><circle cx="199" cy="355.3" r="2.5"/><circle cx="199.2" cy="355.8" r="2.5"/><circle cx="199.4" cy="355.7" r="2.5"/><circle cx="199.5" cy="355.9" r="2.5"/><circle cx="199.7" cy="356.6" r="2.5"/><circle cx="199.9" cy="356.8" r="2.5"/><circle cx="200.1" cy="356.6" r="2.5"/><circle cx="200.3" cy="355.7" r="2.5"/><circle cx="200.4" cy="355.5" r="2.5"/><circle cx="200.6" cy="356.6" r="2.5"/><circle cx="200.8" cy="357" r="2.5"/><circle cx="201" cy="355.4" r="2.5"/><circle cx="201.2" cy="355.9" r="2.5"/><circle cx="201.3" cy="356.5" r="2.5"/><circle cx="201.5" cy="356.5" r="2.5"/><circle cx="201.7" cy="355.8" r="2.5"/><circle cx="201.9" cy="356.2" r="2.5"/><circle cx="202.1" cy="357" r="2.5"/><circle cx="202.2" cy="355.7" r="2.5"/><circle cx="202.4" cy="356.2" r="2.5"/><circle cx="202.6" cy="357.1" r="2.5"/><circle cx="202.8" cy="355.8" r="2.5"/><circle cx="202.9" cy="355.8" r="2.5"/><circle cx="203.1" cy="356.1" r="2.5"/><circle cx="203.3" cy="356" r="2.5"/><circle cx="203.5" cy="355.8" r="2.5"/><circle cx="203.7" cy="355.8" r="2.5"/><circle cx="203.8" cy="356.5" r="2.5"/><circle cx="204" cy="356.1" r="2.5"/><circle cx="204.2" cy="356.4" r="2.5"/><circle cx="204.4" cy="356.6" r="2.5"/><circle cx="204.6" cy="356.3" r="2.5"/><circle cx="204.7" cy="359.5" r="2.5"/><circle cx="204.9" cy="355.6" r="2.5"/><circle cx="205.1" cy="356.4" r="2.5"/><circle cx="205.3" cy="355.9" r="2.5"/><circle cx="205.5" cy="356.9" r="2.5"/><circle cx="205.6" cy="356.8" r="2.5"/><circle cx="205.8" cy="355.1" r="2.5"/><circle cx="206" cy="355.6" r="2.5"/><circle cx="206.2" cy="356.3" r="2.5"/><circle cx="206.3" cy="356.4" r="2.5"/><circle cx="206.5" cy="356.4" r="2.5"/><circle cx="206.7" cy="356" r="2.5"/><circle cx="206.9" cy="356.2" r="2.5"/><circle cx="207.1" cy="356.3" r="2.5"/><circle cx="207.2" cy="356" r="2.5"/><circle cx="207.4" cy="356.5" r="2.5"/><circle cx="207.6" cy="355" r="2.5"/><circle cx="207.8" cy="356.3" r="2.5"/><circle cx="208" cy="355.5" r="2.5"/><circle cx="208.1" cy="356.5" r="2.5"/><circle cx="208.3" cy="355.9" r="2.5"/><circle cx="208.5" cy="355.6" r="2.5"/><circle cx="208.7" cy="356.2" r="2.5"/><circle cx="208.9" cy="355.6" r="2.5"/><circle cx="209" cy="355.6" r="2.5"/><circle cx="209.2" cy="355.3" r="2.5"/><circle cx="209.4" cy="356" r="2.5"/><circle cx="209.6" cy="356.3" r="2.5"/><circle cx="209.7" cy="356.5" r="2.5"/><circle cx="209.9" cy="356" r="2.5"/><circle cx="210.1" cy="355" r="2.5"/><circle cx="210.3" cy="356" r="2.5"/><circle cx="210.5" cy="356" r="2.5"/><circle cx="210.6" cy="356.3" r="2.5"/><circle cx="210.8" cy="356.5" r="2.5"/><circle cx="211" cy="355.9" r="2.5"/><circle cx="211.2" cy="355.9" r="2.5"/><circle cx="211.4" cy="356" r="2.5"/><circle cx="211.5" cy="356.1" r="2.5"/><circle cx="211.7" cy="355.6" r="2.5"/><circle cx="211.9" cy="356.5" r="2.5"/><circle cx="212.1" cy="355.9" r="2.5"/><circle cx="212.3" cy="356.3" r="2.5"/><circle cx="212.4" cy="355.7" r="2.5"/><circle cx="212.6" cy="356.2" r="2.5"/><circle cx="212.8" cy="356.2" r="2.5"/><circle cx="213" cy="355.8" r="2.5"/><circle cx="213.1" cy="357" r="2.5"/><circle cx="213.3" cy="356.2" r="2.5"/><circle cx="213.5" cy="356.9" r="2.5"/><circle cx="213.7" cy="356.5" r="2.5"/><circle cx="213.9" cy="355.7" r="2.5"/><circle cx="214" cy="355.9" r="2.5"/><circle cx="214.2" cy="356.2" r="2.5"/><circle cx="214.4" cy="356.1" r="2.5"/><circle cx="214.6" cy="356.1" r="2.5"/><circle cx="214.8" cy="355.9" r="2.5"/><circle cx="214.9" cy="355.2" r="2.5"/><circle cx="215.1" cy="355.9" r="2.5"/><circle cx="215.3" cy="355" r="2.5"/><circle cx="215.5" cy="356.2" r="2.5"/><circle cx="215.6" cy="355.7" r="2.5"/><circle cx="215.8" cy="355.7" r="2.5"/><circle cx="216" cy="355.9" r="2.5"/><circle cx="216.2" cy="356.2" r="2.5"/><circle cx="216.4" cy="355.4" r="2.5"/><circle cx="216.5" cy="355.2" r="2.5"/><circle cx="216.7" cy="355.5" r="2.5"/><circle cx="216.9" cy="355.1" r="2.5"/><circle cx="217.1" cy="355.6" r="2.5"/><circle cx="217.3" cy="356.8" r="2.5"/><circle cx="217.4" cy="355.6" r="2.5"/><circle cx="217.6" cy="356.3" r="2.5"/><circle cx="217.8" cy="355.4" r="2.5"/><circle cx="218" cy="356.2" r="2.5"/><circle cx="218.2" cy="355.9" r="2.5"/><circle cx="218.3" cy="356" r="2.5"/><circle cx="218.5" cy="357.1" r="2.5"/><circle cx="218.7" cy="356.9" r="2.5"/><circle cx="218.9" cy="356.1" r="2.5"/><circle cx="219" cy="356.1" r="2.5"/><circle cx="219.2" cy="355.6" r="2.5"/><circle cx="219.4" cy="356.3" r="2.5"/><circle cx="219.6" cy="355.9" r="2.5"/><circle cx="219.8" cy="356.4" r="2.5"/><circle cx="219.9" cy="356" r="2.5"/><circle cx="220.1" cy="356.9" r="2.5"/><circle cx="220.3" cy="355.1" r="2.5"/><circle cx="220.5" cy="355.9" r="2.5"/><circle cx="220.7" cy="356.5" r="2.5"/><circle cx="220.8" cy="355.9" r="2.5"/><circle cx="221" cy="355.4" r="2.5"/><circle cx="221.2" cy="355.9" r="2.5"/><circle cx="221.4" cy="355.1" r="2.5"/><circle cx="221.6" cy="356.1" r="2.5"/><circle cx="221.7" cy="357.2" r="2.5"/><circle cx="221.9" cy="356.6" r="2.5"/><circle cx="222.1" cy="355.5" r="2.5"/><circle cx="222.3" cy="357.2" r="2.5"/><circle cx="222.4" cy="355.9" r="2.5"/><circle cx="222.6" cy="356.5" r="2.5"/><circle cx="222.8" cy="355.7" r="2.5"/><circle cx="223" cy="356.8" r="2.5"/><circle cx="223.2" cy="356.5" r="2.5"/><circle cx="223.3" cy="356.5" r="2.5"/><circle cx="223.5" cy="355.9" r="2.5"/><circle cx="223.7" cy="355.5" r="2.5"/><circle cx="223.9" cy="355.3" r="2.5"/><circle cx="224.1" cy="355.7" r="2.5"/><circle cx="224.2" cy="355" r="2.5"/><circle cx="224.4" cy="356.4" r="2.5"/><circle cx="224.6" cy="355.8" r="2.5"/><circle cx="224.8" cy="356.3" r="2.5"/><circle cx="225" cy="356.9" r="2.5"/><circle cx="225.1" cy="355.1" r="2.5"/><circle cx="225.3" cy="355.5" r="2.5"/><circle cx="225.5" cy="356.5" r="2.5"/><circle cx="225.7" cy="356.6" r="2.5"/><circle cx="225.8" cy="355.7" r="2.5"/><circle cx="226" cy="355.6" r="2.5"/><circle cx="226.2" cy="356" r="2.5"/><circle cx="226.4" cy="355.3" r="2.5"/><circle cx="226.6" cy="356.7" r="2.5"/><circle cx="226.7" cy="354.9" r="2.5"/><circle cx="226.9" cy="355.5" r="2.5"/><circle cx="227.1" cy="355.9" r="2.5"/><circle cx="227.3" cy="355.9" r="2.5"/><circle cx="227.5" cy="356.1" r="2.5"/><circle cx="227.6" cy="356.2" r="2.5"/><circle cx="227.8" cy="355.9" r="2.5"/><circle cx="228" cy="356.6" r="2.5"/><circle cx="228.2" cy="354.6" r="2.5"/><circle cx="228.4" cy="356" r="2.5"/><circle cx="228.5" cy="355.7" r="2.5"/><circle cx="228.7" cy="356.1" r="2.5"/><circle cx="228.9" cy="356.2" r="2.5"/><circle cx="229.1" cy="355.6" r="2.5"/><circle cx="229.2" cy="356" r="2.5"/><circle cx="229.4" cy="356.4" r="2.5"/><circle cx="229.6" cy="356.2" r="2.5"/><circle cx="229.8" cy="355.7" r="2.5"/><circle cx="230" cy="355" r="2.5"/><circle cx="230.1" cy="358.3" r="2.5"/><circle cx="230.3" cy="355.4" r="2.5"/><circle cx="230.5" cy="356.2" r="2.5"/><circle cx="230.7" cy="357.2" r="2.5"/><circle cx="230.9" cy="356.4" r="2.5"/><circle cx="231" cy="356.2" r="2.5"/><circle cx="231.2" cy="356" r="2.5"/><circle cx="231.4" cy="355.6" r="2.5"/><circle cx="231.6" cy="355.9" r="2.5"/><circle cx="231.8" cy="355.8" r="2.5"/><circle cx="231.9" cy="356.4" r="2.5"/><circle cx="232.1" cy="355.9" r="2.5"/><circle cx="232.3" cy="355.8" r="2.5"/><circle cx="232.5" cy="355.5" r="2.5"/><circle cx="232.6" cy="356" r="2.5"/><circle cx="232.8" cy="355.6" r="2.5"/><circle cx="233" cy="356" r="2.5"/><circle cx="233.2" cy="356.7" r="2.5"/><circle cx="233.4" cy="356.2" r="2.5"/><circle cx="233.5" cy="356.3" r="2.5"/><circle cx="233.7" cy="356.2" r="2.5"/><circle cx="233.9" cy="356.5" r="2.5"/><circle cx="234.1" cy="356" r="2.5"/><circle cx="234.3" cy="358.4" r="2.5"/><circle cx="234.4" cy="356.4" r="2.5"/><circle cx="234.6" cy="355.5" r="2.5"/><circle cx="234.8" cy="356.7" r="2.5"/><circle cx="235" cy="356.1" r="2.5"/><circle cx="235.2" cy="355.7" r="2.5"/><circle cx="235.3" cy="355.8" r="2.5"/><circle cx="235.5" cy="355.7" r="2.5"/><circle cx="235.7" cy="356.1" r="2.5"/><circle cx="235.9" cy="355.7" r="2.5"/><circle cx="236" cy="356.6" r="2.5"/><circle cx="236.2" cy="355.7" r="2.5"/><circle cx="236.4" cy="355" r="2.5"/><circle cx="236.6" cy="355.7" r="2.5"/><circle cx="236.8" cy="355.1" r="2.5"/><circle cx="236.9" cy="356" r="2.5"/><circle cx="237.1" cy="356.5" r="2.5"/><circle cx="237.3" cy="356.3" r="2.5"/><circle cx="237.5" cy="355.4" r="2.5"/><circle cx="237.7" cy="355.7" r="2.5"/><circle cx="237.8" cy="356.9" r="2.5"/><circle cx="238" cy="356.2" r="2.5"/><circle cx="238.2" cy="356" r="2.5"/><circle cx="238.4" cy="356.5" r="2.5"/><circle cx="238.5" cy="357.2" r="2.5"/><circle cx="238.7" cy="356.6" r="2.5"/><circle cx="238.9" cy="356.1" r="2.5"/><circle cx="239.1" cy="356.2" r="2.5"/><circle cx="239.3" cy="356.3" r="2.5"/><circle cx="239.4" cy="355.8" r="2.5"/><circle cx="239.6" cy="355.5" r="2.5"/><circle cx="239.8" cy="356.1" r="2.5"/><circle cx="240" cy="355.6" r="2.5"/><circle cx="240.2" cy="356" r="2.5"/><circle cx="240.3" cy="356.1" r="2.5"/><circle cx="240.5" cy="357.1" r="2.5"/><circle cx="240.7" cy="355.6" r="2.5"/><circle cx="240.9" cy="356" r="2.5"/><circle cx="241.1" cy="356" r="2.5"/><circle cx="241.2" cy="356.2" r="2.5"/><circle cx="241.4" cy="356.5" r="2.5"/><circle cx="241.6" cy="355.8" r="2.5"/><circle cx="241.8" cy="355.7" r="2.5"/><circle cx="241.9" cy="355.3" r="2.5"/><circle cx="242.1" cy="355.1" r="2.5"/><circle cx="242.3" cy="356.3" r="2.5"/><circle cx="242.5" cy="356.1" r="2.5"/><circle cx="242.7" cy="357.9" r="2.5"/><circle cx="242.8" cy="355.1" r="2.5"/><circle cx="243" cy="356.1" r="2.5"/><circle cx="243.2" cy="356.3" r="2.5"/><circle cx="243.4" cy="355.8" r="2.5"/><circle cx="243.6" cy="355.9" r="2.5"/><circle cx="243.7" cy="355.2" r="2.5"/><circle cx="243.9" cy="355.5" r="2.5"/><circle cx="244.1" cy="356.8" r="2.5"/><circle cx="244.3" cy="355" r="2.5"/><circle cx="244.5" cy="355.9" r="2.5"/><circle cx="244.6" cy="355.4" r="2.5"/><circle cx="244.8" cy="355.9" r="2.5"/><circle cx="245" cy="355.7" r="2.5"/><circle cx="245.2" cy="354" r="2.5"/><circle cx="245.3" cy="356" r="2.5"/><circle cx="245.5" cy="356" r="2.5"/><circle cx="245.7" cy="355.1" r="2.5"/><circle cx="245.9" cy="356" r="2.5"/><circle cx="246.1" cy="355.6" r="2.5"/><circle cx="246.2" cy="355.8" r="2.5"/><circle cx="246.4" cy="356.1" r="2.5"/><circle cx="246.6" cy="357.8" r="2.5"/><circle cx="246.8" cy="356.8" r="2.5"/><circle cx="247" cy="355.8" r="2.5"/><circle cx="247.1" cy="357.1" r="2.5"/><circle cx="247.3" cy="356.6" r="2.5"/><circle cx="247.5" cy="356.6" r="2.5"/><circle cx="247.7" cy="356.7" r="2.5"/><circle cx="247.9" cy="356" r="2.5"/><circle cx="248" cy="355.9" r="2.5"/><circle cx="248.2" cy="356.4" r="2.5"/><circle cx="248.4" cy="355.4" r="2.5"/><circle cx="248.6" cy="356.1" r="2.5"/><circle cx="248.7" cy="355.8" r="2.5"/><circle cx="248.9" cy="355.8" r="2.5"/><circle cx="249.1" cy="355.2" r="2.5"/><circle cx="249.3" cy="355.6" r="2.5"/><circle cx="249.5" cy="356" r="2.5"/><circle cx="249.6" cy="356.4" r="2.5"/><circle cx="249.8" cy="356.5" r="2.5"/><circle cx="250" cy="356" r="2.5"/><circle cx="250.2" cy="356.1" r="2.5"/><circle cx="250.4" cy="355.6" r="2.5"/><circle cx="250.5" cy="356.2" r="2.5"/><circle cx="250.7" cy="355.7" r="2.5"/><circle cx="250.9" cy="356.3" r="2.5"/><circle cx="251.1" cy="356.8" r="2.5"/><circle cx="251.3" cy="356" r="2.5"/><circle cx="251.4" cy="355.3" r="2.5"/><circle cx="251.6" cy="355.6" r="2.5"/><circle cx="251.8" cy="355.3" r="2.5"/><circle cx="252" cy="355.4" r="2.5"/><circle cx="252.1" cy="356.6" r="2.5"/><circle cx="252.3" cy="356.1" r="2.5"/><circle cx="252.5" cy="355.3" r="2.5"/><circle cx="252.7" cy="356.3" r="2.5"/><circle cx="252.9" cy="356.6" r="2.5"/><circle cx="253" cy="355.8" r="2.5"/><circle cx="253.2" cy="355.7" r="2.5"/><circle cx="253.4" cy="355.8" r="2.5"/><circle cx="253.6" cy="356.1" r="2.5"/><circle cx="253.8" cy="356.3" r="2.5"/><circle cx="253.9" cy="356.5" r="2.5"/><circle cx="254.1" cy="356.6" r="2.5"/><circle cx="254.3" cy="356.5" r="2.5"/><circle cx="254.5" cy="356.6" r="2.5"/><circle cx="254.7" cy="356.3" r="2.5"/><circle cx="254.8" cy="355.2" r="2.5"/><circle cx="255" cy="355.9" r="2.5"/><circle cx="255.2" cy="356.1" r="2.5"/><circle cx="255.4" cy="355.8" r="2.5"/><circle cx="255.5" cy="356.4" r="2.5"/><circle cx="255.7" cy="355.8" r="2.5"/><circle cx="255.9" cy="354.4" r="2.5"/><circle cx="256.1" cy="356.6" r="2.5"/><circle cx="256.3" cy="356.3" r="2.5"/><circle cx="256.4" cy="356" r="2.5"/><circle cx="256.6" cy="356.4" r="2.5"/><circle cx="256.8" cy="356.4" r="2.5"/><circle cx="257" cy="356.1" r="2.5"/><circle cx="257.2" cy="354.8" r="2.5"/><circle cx="257.3" cy="355.6" r="2.5"/><circle cx="257.5" cy="355.7" r="2.5"/><circle cx="257.7" cy="355.4" r="2.5"/><circle cx="257.9" cy="356" r="2.5"/><circle cx="258.1" cy="356.5" r="2.5"/><circle cx="258.2" cy="355.7" r="2.5"/><circle cx="258.4" cy="355.4" r="2.5"/><circle cx="258.6" cy="355.7" r="2.5"/><circle cx="258.8" cy="355.7" r="2.5"/><circle cx="258.9" cy="355.3" r="2.5"/><circle cx="259.1" cy="356" r="2.5"/><circle cx="259.3" cy="356.1" r="2.5"/><circle cx="259.5" cy="355.5" r="2.5"/><circle cx="259.7" cy="356.2" r="2.5"/><circle cx="259.8" cy="355.6" r="2.5"/><circle cx="260" cy="355.4" r="2.5"/><circle cx="260.2" cy="355.9" r="2.5"/><circle cx="260.4" cy="356.2" r="2.5"/><circle cx="260.6" cy="355.5" r="2.5"/><circle cx="260.7" cy="356" r="2.5"/><circle cx="260.9" cy="355.8" r="2.5"/><circle cx="261.1" cy="357.2" r="2.5"/><circle cx="261.3" cy="355.4" r="2.5"/><circle cx="261.4" cy="356.4" r="2.5"/><circle cx="261.6" cy="355.7" r="2.5"/><circle cx="261.8" cy="355.7" r="2.5"/><circle cx="262" cy="356.1" r="2.5"/><circle cx="262.2" cy="356.2" r="2.5"/><circle cx="262.3" cy="356.3" r="2.5"/><circle cx="262.5" cy="355.8" r="2.5"/><circle cx="262.7" cy="355.4" r="2.5"/><circle cx="262.9" cy="355.9" r="2.5"/><circle cx="263.1" cy="356" r="2.5"/><circle cx="263.2" cy="355.9" r="2.5"/><circle cx="263.4" cy="356.3" r="2.5"/><circle cx="263.6" cy="355.8" r="2.5"/><circle cx="263.8" cy="356.1" r="2.5"/><circle cx="264" cy="356.3" r="2.5"/><circle cx="264.1" cy="355.6" r="2.5"/><circle cx="264.3" cy="354.7" r="2.5"/><circle cx="264.5" cy="354.8" r="2.5"/><circle cx="264.7" cy="354.6" r="2.5"/><circle cx="264.8" cy="356.2" r="2.5"/><circle cx="265" cy="354.9" r="2.5"/><circle cx="265.2" cy="355.9" r="2.5"/><circle cx="265.4" cy="355.5" r="2.5"/><circle cx="265.6" cy="356" r="2.5"/><circle cx="265.7" cy="355.6" r="2.5"/><circle cx="265.9" cy="354.9" r="2.5"/><circle cx="266.1" cy="354.8" r="2.5"/><circle cx="266.3" cy="354.9" r="2.5"/><circle cx="266.5" cy="354.8" r="2.5"/><circle cx="266.6" cy="354.3" r="2.5"/><circle cx="266.8" cy="354.5" r="2.5"/><circle cx="267" cy="355.2" r="2.5"/><circle cx="267.2" cy="353.3" r="2.5"/><circle cx="267.4" cy="354.1" r="2.5"/><circle cx="267.5" cy="353.3" r="2.5"/><circle cx="267.7" cy="353.7" r="2.5"/><circle cx="267.9" cy="353.7" r="2.5"/><circle cx="268.1" cy="352.9" r="2.5"/><circle cx="268.2" cy="353" r="2.5"/><circle cx="268.4" cy="351.1" r="2.5"/><circle cx="268.6" cy="352" r="2.5"/><circle cx="268.8" cy="350.1" r="2.5"/><circle cx="269" cy="349.8" r="2.5"/><circle cx="269.1" cy="348" r="2.5"/><circle cx="269.3" cy="344" r="2.5"/><circle cx="269.5" cy="342.3" r="2.5"/><circle cx="269.7" cy="341.3" r="2.5"/><circle cx="269.9" cy="335" r="2.5"/><circle cx="270" cy="327.7" r="2.5"/><circle cx="270.2" cy="320.3" r="2.5"/><circle cx="270.4" cy="310.7" r="2.5"/><circle cx="270.6" cy="305.8" r="2.5"/><circle cx="270.8" cy="300.6" r="2.5"/><circle cx="270.9" cy="297.1" r="2.5"/><circle cx="271.1" cy="299.6" r="2.5"/><circle cx="271.3" cy="304.6" r="2.5"/><circle cx="271.5" cy="314.7" r="2.5"/><circle cx="271.6" cy="324.2" r="2.5"/><circle cx="271.8" cy="329.7" r="2.5"/><circle cx="272" cy="336.1" r="2.5"/><circle cx="272.2" cy="340.3" r="2.5"/><circle cx="272.4" cy="342.9" r="2.5"/><circle cx="272.5" cy="347.2" r="2.5"/><circle cx="272.7" cy="347.5" r="2.5"/><circle cx="272.9" cy="349.6" r="2.5"/><circle cx="273.1" cy="350.9" r="2.5"/><circle cx="273.3" cy="352.1" r="2.5"/><circle cx="273.4" cy="351.3" r="2.5"/><circle cx="273.6" cy="352.1" r="2.5"/><circle cx="273.8" cy="352.6" r="2.5"/><circle cx="274" cy="352.6" r="2.5"/><circle cx="274.2" cy="353.6" r="2.5"/><circle cx="274.3" cy="352" r="2.5"/><circle cx="274.5" cy="353.3" r="2.5"/><circle cx="274.7" cy="353.5" r="2.5"/><circle cx="274.9" cy="354.1" r="2.5"/><circle cx="275" cy="353.5" r="2.5"/><circle cx="275.2" cy="353.9" r="2.5"/><circle cx="275.4" cy="353.9" r="2.5"/><circle cx="275.6" cy="354.9" r="2.5"/><circle cx="275.8" cy="355.1" r="2.5"/><circle cx="275.9" cy="356.1" r="2.5"/><circle cx="276.1" cy="354.3" r="2.5"/><circle cx="276.3" cy="354.8" r="2.5"/><circle cx="276.5" cy="355.7" r="2.5"/><circle cx="276.7" cy="355.1" r="2.5"/><circle cx="276.8" cy="355.1" r="2.5"/><circle cx="277" cy="356.2" r="2.5"/><circle cx="277.2" cy="355.2" r="2.5"/><circle cx="277.4" cy="354.8" r="2.5"/><circle cx="277.6" cy="354.8" r="2.5"/><circle cx="277.7" cy="357.5" r="2.5"/><circle cx="277.9" cy="355.7" r="2.5"/><circle cx="278.1" cy="354.9" r="2.5"/><circle cx="278.3" cy="355.1" r="2.5"/><circle cx="278.4" cy="354.1" r="2.5"/><circle cx="278.6" cy="355.9" r="2.5"/><circle cx="278.8" cy="355.3" r="2.5"/><circle cx="279" cy="356" r="2.5"/><circle cx="279.2" cy="356" r="2.5"/><circle cx="279.3" cy="354.8" r="2.5"/><circle cx="279.5" cy="355.6" r="2.5"/><circle cx="279.7" cy="355.9" r="2.5"/><circle cx="279.9" cy="355.5" r="2.5"/><circle cx="280.1" cy="354.7" r="2.5"/><circle cx="280.2" cy="355.6" r="2.5"/><circle cx="280.4" cy="356.1" r="2.5"/><circle cx="280.6" cy="356.6" r="2.5"/><circle cx="280.8" cy="354.7" r="2.5"/><circle cx="281" cy="357.1" r="2.5"/><circle cx="281.1" cy="355.3" r="2.5"/><circle cx="281.3" cy="356.3" r="2.5"/><circle cx="281.5" cy="356.4" r="2.5"/><circle cx="281.7" cy="356.3" r="2.5"/><circle cx="281.8" cy="355.9" r="2.5"/><circle cx="282" cy="355.3" r="2.5"/><circle cx="282.2" cy="356.2" r="2.5"/><circle cx="282.4" cy="355.5" r="2.5"/><circle cx="282.6" cy="354.7" r="2.5"/><circle cx="282.7" cy="357.2" r="2.5"/><circle cx="282.9" cy="356.2" r="2.5"/><circle cx="283.1" cy="356.8" r="2.5"/><circle cx="283.3" cy="355.5" r="2.5"/><circle cx="283.5" cy="357.6" r="2.5"/><circle cx="283.6" cy="356.7" r="2.5"/><circle cx="283.8" cy="356.7" r="2.5"/><circle cx="284" cy="357.9" r="2.5"/><circle cx="284.2" cy="355.3" r="2.5"/><circle cx="284.4" cy="355.8" r="2.5"/><circle cx="284.5" cy="354.9" r="2.5"/><circle cx="284.7" cy="355.1" r="2.5"/><circle cx="284.9" cy="356" r="2.5"/><circle cx="285.1" cy="355.5" r="2.5"/><circle cx="285.2" cy="355.9" r="2.5"/><circle cx="285.4" cy="355.9" r="2.5"/><circle cx="285.6" cy="356.9" r="2.5"/><circle cx="285.8" cy="356.6" r="2.5"/><circle cx="286" cy="355.9" r="2.5"/><circle cx="286.1" cy="356.5" r="2.5"/><circle cx="286.3" cy="355.6" r="2.5"/><circle cx="286.5" cy="355.6" r="2.5"/><circle cx="286.7" cy="357.4" r="2.5"/><circle cx="286.9" cy="355.4" r="2.5"/><circle cx="287" cy="355.8" r="2.5"/><circle cx="287.2" cy="355.3" r="2.5"/><circle cx="287.4" cy="356" r="2.5"/><circle cx="287.6" cy="356.8" r="2.5"/><circle cx="287.7" cy="355.6" r="2.5"/><circle cx="287.9" cy="356.1" r="2.5"/><circle cx="288.1" cy="355.6" r="2.5"/><circle cx="288.3" cy="355.4" r="2.5"/><circle cx="288.5" cy="352.4" r="2.5"/><circle cx="288.6" cy="356.7" r="2.5"/><circle cx="288.8" cy="356.5" r="2.5"/><circle cx="289" cy="356.2" r="2.5"/><circle cx="289.2" cy="355.7" r="2.5"/><circle cx="289.4" cy="356.3" r="2.5"/><circle cx="289.5" cy="355.8" r="2.5"/><circle cx="289.7" cy="356.4" r="2.5"/><circle cx="289.9" cy="353.8" r="2.5"/><circle cx="290.1" cy="356.1" r="2.5"/><circle cx="290.3" cy="356.3" r="2.5"/><circle cx="290.4" cy="355.7" r="2.5"/><circle cx="290.6" cy="355.8" r="2.5"/><circle cx="290.8" cy="355.2" r="2.5"/><circle cx="291" cy="355.8" r="2.5"/><circle cx="291.1" cy="355.3" r="2.5"/><circle cx="291.3" cy="355.9" r="2.5"/><circle cx="291.5" cy="355.6" r="2.5"/><circle cx="291.7" cy="356.1" r="2.5"/><circle cx="291.9" cy="356.2" r="2.5"/><circle cx="292" cy="355.3" r="2.5"/><circle cx="292.2" cy="355.6" r="2.5"/><circle cx="292.4" cy="355.6" r="2.5"/><circle cx="292.6" cy="356.4" r="2.5"/><circle cx="292.8" cy="356.8" r="2.5"/><circle cx="292.9" cy="356.4" r="2.5"/><circle cx="293.1" cy="355.9" r="2.5"/><circle cx="293.3" cy="356.7" r="2.5"/><circle cx="293.5" cy="355.5" r="2.5"/><circle cx="293.7" cy="356.7" r="2.5"/><circle cx="293.8" cy="355.7" r="2.5"/><circle cx="294" cy="354.7" r="2.5"/><circle cx="294.2" cy="357.3" r="2.5"/><circle cx="294.4" cy="356.8" r="2.5"/><circle cx="294.5" cy="355.5" r="2.5"/><circle cx="294.7" cy="356.1" r="2.5"/><circle cx="294.9" cy="355.9" r="2.5"/><circle cx="295.1" cy="356.1" r="2.5"/><circle cx="295.3" cy="355.3" r="2.5"/><circle cx="295.4" cy="355.7" r="2.5"/><circle cx="295.6" cy="356.2" r="2.5"/><circle cx="295.8" cy="356.1" r="2.5"/><circle cx="296" cy="356.6" r="2.5"/><circle cx="296.2" cy="356.1" r="2.5"/><circle cx="296.3" cy="357.1" r="2.5"/><circle cx="296.5" cy="355.7" r="2.5"/><circle cx="296.7" cy="356.2" r="2.5"/><circle cx="296.9" cy="355.1" r="2.5"/><circle cx="297.1" cy="355.4" r="2.5"/><circle cx="297.2" cy="356.7" r="2.5"/><circle cx="297.4" cy="355.6" r="2.5"/><circle cx="297.6" cy="356.3" r="2.5"/><circle cx="297.8" cy="356" r="2.5"/><circle cx="297.9" cy="355.5" r="2.5"/><circle cx="298.1" cy="355.9" r="2.5"/><circle cx="298.3" cy="355.8" r="2.5"/><circle cx="298.5" cy="355.8" r="2.5"/><circle cx="298.7" cy="356.4" r="2.5"/><circle cx="298.8" cy="356.3" r="2.5"/><circle cx="299" cy="355.8" r="2.5"/><circle cx="299.2" cy="355.6" r="2.5"/><circle cx="299.4" cy="356.2" r="2.5"/><circle cx="299.6" cy="356" r="2.5"/><circle cx="299.7" cy="356.5" r="2.5"/><circle cx="299.9" cy="357.3" r="2.5"/><circle cx="300.1" cy="356.4" r="2.5"/><circle cx="300.3" cy="356" r="2.5"/><circle cx="300.5" cy="356" r="2.5"/><circle cx="300.6" cy="355.6" r="2.5"/><circle cx="300.8" cy="355.6" r="2.5"/><circle cx="301" cy="355.6" r="2.5"/><circle cx="301.2" cy="355.9" r="2.5"/><circle cx="301.3" cy="354.7" r="2.5"/><circle cx="301.5" cy="356.4" r="2.5"/><circle cx="301.7" cy="355.9" r="2.5"/><circle cx="301.9" cy="356" r="2.5"/><circle cx="302.1" cy="355.5" r="2.5"/><circle cx="302.2" cy="356.8" r="2.5"/><circle cx="302.4" cy="356.3" r="2.5"/><circle cx="302.6" cy="356.9" r="2.5"/><circle cx="302.8" cy="356.4" r="2.5"/><circle cx="303" cy="356.7" r="2.5"/><circle cx="303.1" cy="355.9" r="2.5"/><circle cx="303.3" cy="356.4" r="2.5"/><circle cx="303.5" cy="357.3" r="2.5"/><circle cx="303.7" cy="355.5" r="2.5"/><circle cx="303.9" cy="356.6" r="2.5"/><circle cx="304" cy="356.8" r="2.5"/><circle cx="304.2" cy="356.2" r="2.5"/><circle cx="304.4" cy="356.4" r="2.5"/><circle cx="304.6" cy="356.6" r="2.5"/><circle cx="304.7" cy="355.7" r="2.5"/><circle cx="304.9" cy="356.2" r="2.5"/><circle cx="305.1" cy="355.6" r="2.5"/><circle cx="305.3" cy="355.7" r="2.5"/><circle cx="305.5" cy="355.8" r="2.5"/><circle cx="305.6" cy="356" r="2.5"/><circle cx="305.8" cy="356.1" r="2.5"/><circle cx="306" cy="356.3" r="2.5"/><circle cx="306.2" cy="355.4" r="2.5"/><circle cx="306.4" cy="358.3" r="2.5"/><circle cx="306.5" cy="356.6" r="2.5"/><circle cx="306.7" cy="356.4" r="2.5"/><circle cx="306.9" cy="355.9" r="2.5"/><circle cx="307.1" cy="356" r="2.5"/><circle cx="307.3" cy="356.8" r="2.5"/><circle cx="307.4" cy="356.2" r="2.5"/><circle cx="307.6" cy="355.3" r="2.5"/><circle cx="307.8" cy="356.4" r="2.5"/><circle cx="308" cy="357.4" r="2.5"/><circle cx="308.1" cy="355.2" r="2.5"/><circle cx="308.3" cy="356.5" r="2.5"/><circle cx="308.5" cy="356.2" r="2.5"/><circle cx="308.7" cy="356" r="2.5"/><circle cx="308.9" cy="356.7" r="2.5"/><circle cx="309" cy="355.5" r="2.5"/><circle cx="309.2" cy="356.1" r="2.5"/><circle cx="309.4" cy="356.8" r="2.5"/><circle cx="309.6" cy="356" r="2.5"/><circle cx="309.8" cy="355.9" r="2.5"/><circle cx="309.9" cy="356.1" r="2.5"/><circle cx="310.1" cy="355.8" r="2.5"/><circle cx="310.3" cy="356.8" r="2.5"/><circle cx="310.5" cy="355.6" r="2.5"/><circle cx="310.6" cy="356.5" r="2.5"/><circle cx="310.8" cy="355.5" r="2.5"/><circle cx="311" cy="355.6" r="2.5"/><circle cx="311.2" cy="356" r="2.5"/><circle cx="311.4" cy="354.8" r="2.5"/><circle cx="311.5" cy="356.1" r="2.5"/><circle cx="311.7" cy="355.5" r="2.5"/><circle cx="311.9" cy="355.8" r="2.5"/><circle cx="312.1" cy="356.8" r="2.5"/><circle cx="312.3" cy="355.5" r="2.5"/><circle cx="312.4" cy="355.5" r="2.5"/><circle cx="312.6" cy="356.7" r="2.5"/><circle cx="312.8" cy="356.1" r="2.5"/><circle cx="313" cy="356.8" r="2.5"/><circle cx="313.2" cy="356.2" r="2.5"/><circle cx="313.3" cy="355.6" r="2.5"/><circle cx="313.5" cy="355.3" r="2.5"/><circle cx="313.7" cy="356.6" r="2.5"/><circle cx="313.9" cy="356.5" r="2.5"/><circle cx="314" cy="356.1" r="2.5"/><circle cx="314.2" cy="356.1" r="2.5"/><circle cx="314.4" cy="353.9" r="2.5"/><circle cx="314.6" cy="355.8" r="2.5"/><circle cx="314.8" cy="357" r="2.5"/><circle cx="314.9" cy="356.1" r="2.5"/><circle cx="315.1" cy="355.5" r="2.5"/><circle cx="315.3" cy="355.5" r="2.5"/><circle cx="315.5" cy="356.4" r="2.5"/><circle cx="315.7" cy="356.4" r="2.5"/><circle cx="315.8" cy="356" r="2.5"/><circle cx="316" cy="355.7" r="2.5"/><circle cx="316.2" cy="356.1" r="2.5"/><circle cx="316.4" cy="355.3" r="2.5"/><circle cx="316.6" cy="355.4" r="2.5"/><circle cx="316.7" cy="356.4" r="2.5"/><circle cx="316.9" cy="355.8" r="2.5"/><circle cx="317.1" cy="356.2" r="2.5"/><circle cx="317.3" cy="356.6" r="2.5"/><circle cx="317.4" cy="356.4" r="2.5"/><circle cx="317.6" cy="356.1" r="2.5"/><circle cx="317.8" cy="357.1" r="2.5"/><circle cx="318" cy="356.4" r="2.5"/><circle cx="318.2" cy="355.9" r="2.5"/><circle cx="318.3" cy="356.4" r="2.5"/><circle cx="318.5" cy="356.2" r="2.5"/><circle cx="318.7" cy="355.6" r="2.5"/><circle cx="318.9" cy="359" r="2.5"/><circle cx="319.1" cy="356" r="2.5"/><circle cx="319.2" cy="355.1" r="2.5"/><circle cx="319.4" cy="356" r="2.5"/><circle cx="319.6" cy="355.9" r="2.5"/><circle cx="319.8" cy="355.8" r="2.5"/><circle cx="320" cy="355.3" r="2.5"/><circle cx="320.1" cy="355.9" r="2.5"/><circle cx="320.3" cy="356" r="2.5"/><circle cx="320.5" cy="356.1" r="2.5"/><circle cx="320.7" cy="355.5" r="2.5"/><circle cx="320.8" cy="356.4" r="2.5"/><circle cx="321" cy="355.5" r="2.5"/><circle cx="321.2" cy="354.9" r="2.5"/><circle cx="321.4" cy="356.7" r="2.5"/><circle cx="321.6" cy="355.7" r="2.5"/><circle cx="321.7" cy="355.8" r="2.5"/><circle cx="321.9" cy="356.6" r="2.5"/><circle cx="322.1" cy="356.4" r="2.5"/><circle cx="322.3" cy="355.9" r="2.5"/><circle cx="322.5" cy="356.2" r="2.5"/><circle cx="322.6" cy="356.6" r="2.5"/><circle cx="322.8" cy="355" r="2.5"/><circle cx="323" cy="355.7" r="2.5"/><circle cx="323.2" cy="355.6" r="2.5"/><circle cx="323.4" cy="355.5" r="2.5"/><circle cx="323.5" cy="355.6" r="2.5"/><circle cx="323.7" cy="354.9" r="2.5"/><circle cx="323.9" cy="356.2" r="2.5"/><circle cx="324.1" cy="355.6" r="2.5"/><circle cx="324.2" cy="356.1" r="2.5"/><circle cx="324.4" cy="356.2" r="2.5"/><circle cx="324.6" cy="355.7" r="2.5"/><circle cx="324.8" cy="356.1" r="2.5"/><circle cx="325" cy="356.8" r="2.5"/><circle cx="325.1" cy="356.2" r="2.5"/><circle cx="325.3" cy="355.7" r="2.5"/><circle cx="325.5" cy="356" r="2.5"/><circle cx="325.7" cy="355.6" r="2.5"/><circle cx="325.9" cy="356.2" r="2.5"/><circle cx="326" cy="356.5" r="2.5"/><circle cx="326.2" cy="355.7" r="2.5"/><circle cx="326.4" cy="355.9" r="2.5"/><circle cx="326.6" cy="356.6" r="2.5"/><circle cx="326.8" cy="355.8" r="2.5"/><circle cx="326.9" cy="356.1" r="2.5"/><circle cx="327.1" cy="355.6" r="2.5"/><circle cx="327.3" cy="355.7" r="2.5"/><circle cx="327.5" cy="355.8" r="2.5"/><circle cx="327.6" cy="357.1" r="2.5"/><circle cx="327.8" cy="355.9" r="2.5"/><circle cx="328" cy="355.8" r="2.5"/><circle cx="328.2" cy="355.8" r="2.5"/><circle cx="328.4" cy="356" r="2.5"/><circle cx="328.5" cy="356.3" r="2.5"/><circle cx="328.7" cy="356.1" r="2.5"/><circle cx="328.9" cy="357" r="2.5"/><circle cx="329.1" cy="356.1" r="2.5"/><circle cx="329.3" cy="356.7" r="2.5"/><circle cx="329.4" cy="356.2" r="2.5"/><circle cx="329.6" cy="357.4" r="2.5"/><circle cx="329.8" cy="355.9" r="2.5"/><circle cx="330" cy="356" r="2.5"/><circle cx="330.2" cy="356" r="2.5"/><circle cx="330.3" cy="355.9" r="2.5"/><circle cx="330.5" cy="355" r="2.5"/><circle cx="330.7" cy="356.5" r="2.5"/><circle cx="330.9" cy="355.9" r="2.5"/><circle cx="331" cy="355.8" r="2.5"/><circle cx="331.2" cy="355.9" r="2.5"/><circle cx="331.4" cy="355.6" r="2.5"/><circle cx="331.6" cy="356.2" r="2.5"/><circle cx="331.8" cy="355.4" r="2.5"/><circle cx="331.9" cy="353.1" r="2.5"/><circle cx="332.1" cy="356.2" r="2.5"/><circle cx="332.3" cy="356.1" r="2.5"/><circle cx="332.5" cy="355.9" r="2.5"/><circle cx="332.7" cy="355.8" r="2.5"/><circle cx="332.8" cy="355.6" r="2.5"/><circle cx="333" cy="356" r="2.5"/><circle cx="333.2" cy="356.6" r="2.5"/><circle cx="333.4" cy="355.5" r="2.5"/><circle cx="333.5" cy="356.7" r="2.5"/><circle cx="333.7" cy="356.4" r="2.5"/><circle cx="333.9" cy="355.8" r="2.5"/><circle cx="334.1" cy="356.4" r="2.5"/><circle cx="334.3" cy="355.3" r="2.5"/><circle cx="334.4" cy="355.2" r="2.5"/><circle cx="334.6" cy="355.4" r="2.5"/><circle cx="334.8" cy="355.8" r="2.5"/><circle cx="335" cy="355.9" r="2.5"/><circle cx="335.2" cy="355.8" r="2.5"/><circle cx="335.3" cy="355.3" r="2.5"/><circle cx="335.5" cy="356.7" r="2.5"/><circle cx="335.7" cy="356.3" r="2.5"/><circle cx="335.9" cy="355.4" r="2.5"/><circle cx="336.1" cy="355.7" r="2.5"/><circle cx="336.2" cy="355.8" r="2.5"/><circle cx="336.4" cy="355.5" r="2.5"/><circle cx="336.6" cy="355.4" r="2.5"/><circle cx="336.8" cy="355.6" r="2.5"/><circle cx="336.9" cy="356" r="2.5"/><circle cx="337.1" cy="356.3" r="2.5"/><circle cx="337.3" cy="356.3" r="2.5"/><circle cx="337.5" cy="355.6" r="2.5"/><circle cx="337.7" cy="355.6" r="2.5"/><circle cx="337.8" cy="355.6" r="2.5"/><circle cx="338" cy="356.2" r="2.5"/><circle cx="338.2" cy="355.1" r="2.5"/><circle cx="338.4" cy="356.6" r="2.5"/><circle cx="338.6" cy="355.8" r="2.5"/><circle cx="338.7" cy="355.6" r="2.5"/><circle cx="338.9" cy="356.2" r="2.5"/><circle cx="339.1" cy="356.5" r="2.5"/><circle cx="339.3" cy="356.2" r="2.5"/><circle cx="339.5" cy="356.5" r="2.5"/><circle cx="339.6" cy="356.1" r="2.5"/><circle cx="339.8" cy="356.6" r="2.5"/><circle cx="340" cy="356.6" r="2.5"/><circle cx="340.2" cy="356" r="2.5"/><circle cx="340.3" cy="356.7" r="2.5"/><circle cx="340.5" cy="356.1" r="2.5"/><circle cx="340.7" cy="356" r="2.5"/><circle cx="340.9" cy="355.6" r="2.5"/><circle cx="341.1" cy="355.9" r="2.5"/><circle cx="341.2" cy="356.4" r="2.5"/><circle cx="341.4" cy="355.4" r="2.5"/><circle cx="341.6" cy="356.3" r="2.5"/><circle cx="341.8" cy="356.2" r="2.5"/><circle cx="342" cy="356.1" r="2.5"/><circle cx="342.1" cy="355" r="2.5"/><circle cx="342.3" cy="355.9" r="2.5"/><circle cx="342.5" cy="356.3" r="2.5"/><circle cx="342.7" cy="355.6" r="2.5"/><circle cx="342.9" cy="356" r="2.5"/><circle cx="343" cy="354.9" r="2.5"/><circle cx="343.2" cy="356.3" r="2.5"/><circle cx="343.4" cy="355.7" r="2.5"/><circle cx="343.6" cy="356.4" r="2.5"/><circle cx="343.7" cy="355.1" r="2.5"/><circle cx="343.9" cy="356.3" r="2.5"/><circle cx="344.1" cy="355.9" r="2.5"/><circle cx="344.3" cy="356" r="2.5"/><circle cx="344.5" cy="355.5" r="2.5"/><circle cx="344.6" cy="355.7" r="2.5"/><circle cx="344.8" cy="357" r="2.5"/><circle cx="345" cy="355.6" r="2.5"/><circle cx="345.2" cy="356.5" r="2.5"/><circle cx="345.4" cy="355.8" r="2.5"/><circle cx="345.5" cy="355.5" r="2.5"/><circle cx="345.7" cy="356.5" r="2.5"/><circle cx="345.9" cy="356.8" r="2.5"/><circle cx="346.1" cy="354.9" r="2.5"/><circle cx="346.3" cy="355.1" r="2.5"/><circle cx="346.4" cy="356.5" r="2.5"/><circle cx="346.6" cy="356.5" r="2.5"/><circle cx="346.8" cy="356.3" r="2.5"/><circle cx="347" cy="356.5" r="2.5"/><circle cx="347.1" cy="355.5" r="2.5"/><circle cx="347.3" cy="355.9" r="2.5"/><circle cx="347.5" cy="355.3" r="2.5"/><circle cx="347.7" cy="355.3" r="2.5"/><circle cx="347.9" cy="356.4" r="2.5"/><circle cx="348" cy="355.6" r="2.5"/><circle cx="348.2" cy="357" r="2.5"/><circle cx="348.4" cy="356" r="2.5"/><circle cx="348.6" cy="355.6" r="2.5"/><circle cx="348.8" cy="356.3" r="2.5"/><circle cx="348.9" cy="356.8" r="2.5"/><circle cx="349.1" cy="356.1" r="2.5"/><circle cx="349.3" cy="355.3" r="2.5"/><circle cx="349.5" cy="356.1" r="2.5"/><circle cx="349.7" cy="356.6" r="2.5"/><circle cx="349.8" cy="355.7" r="2.5"/><circle cx="350" cy="355.5" r="2.5"/><circle cx="350.2" cy="356.4" r="2.5"/><circle cx="350.4" cy="356" r="2.5"/><circle cx="350.5" cy="355.3" r="2.5"/><circle cx="350.7" cy="355.7" r="2.5"/><circle cx="350.9" cy="355.5" r="2.5"/><circle cx="351.1" cy="356" r="2.5"/><circle cx="351.3" cy="355.9" r="2.5"/><circle cx="351.4" cy="353.8" r="2.5"/><circle cx="351.6" cy="356.2" r="2.5"/><circle cx="351.8" cy="355.1" r="2.5"/><circle cx="352" cy="356" r="2.5"/><circle cx="352.2" cy="356.3" r="2.5"/><circle cx="352.3" cy="356" r="2.5"/><circle cx="352.5" cy="356.3" r="2.5"/><circle cx="352.7" cy="355.5" r="2.5"/><circle cx="352.9" cy="355.3" r="2.5"/><circle cx="353.1" cy="356.3" r="2.5"/><circle cx="353.2" cy="355.8" r="2.5"/><circle cx="353.4" cy="354.7" r="2.5"/><circle cx="353.6" cy="356.3" r="2.5"/><circle cx="353.8" cy="355.4" r="2.5"/><circle cx="353.9" cy="355.6" r="2.5"/><circle cx="354.1" cy="355.1" r="2.5"/><circle cx="354.3" cy="355.1" r="2.5"/><circle cx="354.5" cy="355.2" r="2.5"/><circle cx="354.7" cy="355.5" r="2.5"/><circle cx="354.8" cy="355.9" r="2.5"/><circle cx="355" cy="354.6" r="2.5"/><circle cx="355.2" cy="356.1" r="2.5"/><circle cx="355.4" cy="355.1" r="2.5"/><circle cx="355.6" cy="355.1" r="2.5"/><circle cx="355.7" cy="356.4" r="2.5"/><circle cx="355.9" cy="355.6" r="2.5"/><circle cx="356.1" cy="354.8" r="2.5"/><circle cx="356.3" cy="356.5" r="2.5"/><circle cx="356.5" cy="355.1" r="2.5"/><circle cx="356.6" cy="355.7" r="2.5"/><circle cx="356.8" cy="355.6" r="2.5"/><circle cx="357" cy="356.2" r="2.5"/><circle cx="357.2" cy="355.3" r="2.5"/><circle cx="357.3" cy="356" r="2.5"/><circle cx="357.5" cy="355.1" r="2.5"/><circle cx="357.7" cy="356" r="2.5"/><circle cx="357.9" cy="355" r="2.5"/><circle cx="358.1" cy="355.2" r="2.5"/><circle cx="358.2" cy="355.5" r="2.5"/><circle cx="358.4" cy="355.5" r="2.5"/><circle cx="358.6" cy="355.3" r="2.5"/><circle cx="358.8" cy="356.4" r="2.5"/><circle cx="359" cy="355.4" r="2.5"/><circle cx="359.1" cy="354.7" r="2.5"/><circle cx="359.3" cy="354.9" r="2.5"/><circle cx="359.5" cy="354.4" r="2.5"/><circle cx="359.7" cy="355.6" r="2.5"/><circle cx="359.8" cy="355.5" r="2.5"/><circle cx="360" cy="354.5" r="2.5"/><circle cx="360.2" cy="354.4" r="2.5"/><circle cx="360.4" cy="355.1" r="2.5"/><circle cx="360.6" cy="354.6" r="2.5"/><circle cx="360.7" cy="354" r="2.5"/><circle cx="360.9" cy="354.7" r="2.5"/><circle cx="361.1" cy="353.2" r="2.5"/><circle cx="361.3" cy="353.9" r="2.5"/><circle cx="361.5" cy="353.8" r="2.5"/><circle cx="361.6" cy="353.7" r="2.5"/><circle cx="361.8" cy="353.9" r="2.5"/><circle cx="362" cy="352.8" r="2.5"/><circle cx="362.2" cy="353.6" r="2.5"/><circle cx="362.4" cy="352.9" r="2.5"/><circle cx="362.5" cy="352.4" r="2.5"/><circle cx="362.7" cy="351.6" r="2.5"/><circle cx="362.9" cy="351.3" r="2.5"/><circle cx="363.1" cy="351.8" r="2.5"/><circle cx="363.2" cy="350.5" r="2.5"/><circle cx="363.4" cy="349.7" r="2.5"/><circle cx="363.6" cy="350.4" r="2.5"/><circle cx="363.8" cy="349.9" r="2.5"/><circle cx="364" cy="348.6" r="2.5"/><circle cx="364.1" cy="345.8" r="2.5"/><circle cx="364.3" cy="343.2" r="2.5"/><circle cx="364.5" cy="341.5" r="2.5"/><circle cx="364.7" cy="337.5" r="2.5"/><circle cx="364.9" cy="333.2" r="2.5"/><circle cx="365" cy="322.6" r="2.5"/><circle cx="365.2" cy="318.9" r="2.5"/><circle cx="365.4" cy="309.1" r="2.5"/><circle cx="365.6" cy="298.2" r="2.5"/><circle cx="365.8" cy="286.8" r="2.5"/><circle cx="365.9" cy="276.3" r="2.5"/><circle cx="366.1" cy="269.3" r="2.5"/><circle cx="366.3" cy="267.4" r="2.5"/><circle cx="366.5" cy="271.3" r="2.5"/><circle cx="366.6" cy="278.9" r="2.5"/><circle cx="366.8" cy="292" r="2.5"/><circle cx="367" cy="301.3" r="2.5"/><circle cx="367.2" cy="312.7" r="2.5"/><circle cx="367.4" cy="320.8" r="2.5"/><circle cx="367.5" cy="328.1" r="2.5"/><circle cx="367.7" cy="335.8" r="2.5"/><circle cx="367.9" cy="338.5" r="2.5"/><circle cx="368.1" cy="341.3" r="2.5"/><circle cx="368.3" cy="343.1" r="2.5"/><circle cx="368.4" cy="346.4" r="2.5"/><circle cx="368.6" cy="349.5" r="2.5"/><circle cx="368.8" cy="349.3" r="2.5"/><circle cx="369" cy="350.6" r="2.5"/><circle cx="369.2" cy="350.1" r="2.5"/><circle cx="369.3" cy="351.5" r="2.5"/><circle cx="369.5" cy="352.2" r="2.5"/><circle cx="369.7" cy="353.2" r="2.5"/><circle cx="369.9" cy="352.7" r="2.5"/><circle cx="370" cy="353.2" r="2.5"/><circle cx="370.2" cy="353.3" r="2.5"/><circle cx="370.4" cy="352.8" r="2.5"/><circle cx="370.6" cy="353.6" r="2.5"/><circle cx="370.8" cy="353.6" r="2.5"/><circle cx="370.9" cy="352.6" r="2.5"/><circle cx="371.1" cy="354.4" r="2.5"/><circle cx="371.3" cy="354.5" r="2.5"/><circle cx="371.5" cy="354.1" r="2.5"/><circle cx="371.7" cy="353.7" r="2.5"/><circle cx="371.8" cy="355.3" r="2.5"/><circle cx="372" cy="354.8" r="2.5"/><circle cx="372.2" cy="355.3" r="2.5"/><circle cx="372.4" cy="355.5" r="2.5"/><circle cx="372.6" cy="354.6" r="2.5"/><circle cx="372.7" cy="355.4" r="2.5"/><circle cx="372.9" cy="354.9" r="2.5"/><circle cx="373.1" cy="355" r="2.5"/><circle cx="373.3" cy="355" r="2.5"/><circle cx="373.4" cy="355.1" r="2.5"/><circle cx="373.6" cy="355.8" r="2.5"/><circle cx="373.8" cy="355.3" r="2.5"/><circle cx="374" cy="354.5" r="2.5"/><circle cx="374.2" cy="355.2" r="2.5"/><circle cx="374.3" cy="355.5" r="2.5"/><circle cx="374.5" cy="354.9" r="2.5"/><circle cx="374.7" cy="355.1" r="2.5"/><circle cx="374.9" cy="355.4" r="2.5"/><circle cx="375.1" cy="355.2" r="2.5"/><circle cx="375.2" cy="355.4" r="2.5"/><circle cx="375.4" cy="355.9" r="2.5"/><circle cx="375.6" cy="356.5" r="2.5"/><circle cx="375.8" cy="357.7" r="2.5"/><circle cx="376" cy="355.8" r="2.5"/><circle cx="376.1" cy="355.5" r="2.5"/><circle cx="376.3" cy="356.9" r="2.5"/><circle cx="376.5" cy="355.8" r="2.5"/><circle cx="376.7" cy="355.6" r="2.5"/><circle cx="376.8" cy="355.8" r="2.5"/><circle cx="377" cy="353.6" r="2.5"/><circle cx="377.2" cy="356.4" r="2.5"/><circle cx="377.4" cy="354.6" r="2.5"/><circle cx="377.6" cy="356.7" r="2.5"/><circle cx="377.7" cy="355.3" r="2.5"/><circle cx="377.9" cy="356.1" r="2.5"/><circle cx="378.1" cy="356.5" r="2.5"/><circle cx="378.3" cy="356.2" r="2.5"/><circle cx="378.5" cy="354.4" r="2.5"/><circle cx="378.6" cy="355.7" r="2.5"/><circle cx="378.8" cy="356.2" r="2.5"/><circle cx="379" cy="356.4" r="2.5"/><circle cx="379.2" cy="355.2" r="2.5"/><circle cx="379.4" cy="355.6" r="2.5"/><circle cx="379.5" cy="355.1" r="2.5"/><circle cx="379.7" cy="355.9" r="2.5"/><circle cx="379.9" cy="355.8" r="2.5"/><circle cx="380.1" cy="355.6" r="2.5"/><circle cx="380.2" cy="355.5" r="2.5"/><circle cx="380.4" cy="355.6" r="2.5"/><circle cx="380.6" cy="355.5" r="2.5"/><circle cx="380.8" cy="356.1" r="2.5"/><circle cx="381" cy="356.6" r="2.5"/><circle cx="381.1" cy="354.9" r="2.5"/><circle cx="381.3" cy="355.8" r="2.5"/><circle cx="381.5" cy="355.7" r="2.5"/><circle cx="381.7" cy="356.1" r="2.5"/><circle cx="381.9" cy="355.3" r="2.5"/><circle cx="382" cy="355.8" r="2.5"/><circle cx="382.2" cy="356" r="2.5"/><circle cx="382.4" cy="356.2" r="2.5"/><circle cx="382.6" cy="355.9" r="2.5"/><circle cx="382.7" cy="355.8" r="2.5"/><circle cx="382.9" cy="356.1" r="2.5"/><circle cx="383.1" cy="355.8" r="2.5"/><circle cx="383.3" cy="355.2" r="2.5"/><circle cx="383.5" cy="356.2" r="2.5"/><circle cx="383.6" cy="356" r="2.5"/><circle cx="383.8" cy="355.8" r="2.5"/><circle cx="384" cy="356.7" r="2.5"/><circle cx="384.2" cy="356.5" r="2.5"/><circle cx="384.4" cy="355.4" r="2.5"/><circle cx="384.5" cy="355.5" r="2.5"/><circle cx="384.7" cy="356.7" r="2.5"/><circle cx="384.9" cy="356.6" r="2.5"/><circle cx="385.1" cy="355.6" r="2.5"/><circle cx="385.3" cy="356.2" r="2.5"/><circle cx="385.4" cy="355.6" r="2.5"/><circle cx="385.6" cy="355.7" r="2.5"/><circle cx="385.8" cy="355.2" r="2.5"/><circle cx="386" cy="356" r="2.5"/><circle cx="386.1" cy="355.3" r="2.5"/><circle cx="386.3" cy="355.4" r="2.5"/><circle cx="386.5" cy="356.4" r="2.5"/><circle cx="386.7" cy="355.6" r="2.5"/><circle cx="386.9" cy="355.9" r="2.5"/><circle cx="387" cy="356.3" r="2.5"/><circle cx="387.2" cy="356.3" r="2.5"/><circle cx="387.4" cy="355.8" r="2.5"/><circle cx="387.6" cy="356" r="2.5"/><circle cx="387.8" cy="355.6" r="2.5"/><circle cx="387.9" cy="356.8" r="2.5"/><circle cx="388.1" cy="356.3" r="2.5"/><circle cx="388.3" cy="355.4" r="2.5"/><circle cx="388.5" cy="356" r="2.5"/><circle cx="388.7" cy="356.3" r="2.5"/><circle cx="388.8" cy="356.2" r="2.5"/><circle cx="389" cy="356.8" r="2.5"/><circle cx="389.2" cy="356.6" r="2.5"/><circle cx="389.4" cy="355.7" r="2.5"/><circle cx="389.5" cy="355.9" r="2.5"/><circle cx="389.7" cy="355.4" r="2.5"/><circle cx="389.9" cy="354.9" r="2.5"/><circle cx="390.1" cy="356" r="2.5"/><circle cx="390.3" cy="357.3" r="2.5"/><circle cx="390.4" cy="356" r="2.5"/><circle cx="390.6" cy="354.6" r="2.5"/><circle cx="390.8" cy="355.7" r="2.5"/><circle cx="391" cy="356" r="2.5"/><circle cx="391.2" cy="355.4" r="2.5"/><circle cx="391.3" cy="355.6" r="2.5"/><circle cx="391.5" cy="355.8" r="2.5"/><circle cx="391.7" cy="356.1" r="2.5"/><circle cx="391.9" cy="355.9" r="2.5"/><circle cx="392.1" cy="355.6" r="2.5"/><circle cx="392.2" cy="356.4" r="2.5"/><circle cx="392.4" cy="355.7" r="2.5"/><circle cx="392.6" cy="355.8" r="2.5"/><circle cx="392.8" cy="355.3" r="2.5"/><circle cx="392.9" cy="355.6" r="2.5"/><circle cx="393.1" cy="356.3" r="2.5"/><circle cx="393.3" cy="355.2" r="2.5"/><circle cx="393.5" cy="356" r="2.5"/><circle cx="393.7" cy="356.3" r="2.5"/><circle cx="393.8" cy="355.8" r="2.5"/><circle cx="394" cy="356.1" r="2.5"/><circle cx="394.2" cy="355.5" r="2.5"/><circle cx="394.4" cy="356.6" r="2.5"/><circle cx="394.6" cy="356.5" r="2.5"/><circle cx="394.7" cy="356.1" r="2.5"/><circle cx="394.9" cy="355.2" r="2.5"/><circle cx="395.1" cy="355.5" r="2.5"/><circle cx="395.3" cy="356.5" r="2.5"/><circle cx="395.5" cy="356.8" r="2.5"/><circle cx="395.6" cy="356.1" r="2.5"/><circle cx="395.8" cy="356.6" r="2.5"/><circle cx="396" cy="355.7" r="2.5"/><circle cx="396.2" cy="355.9" r="2.5"/><circle cx="396.3" cy="356" r="2.5"/><circle cx="396.5" cy="356.2" r="2.5"/><circle cx="396.7" cy="355.3" r="2.5"/><circle cx="396.9" cy="356.4" r="2.5"/><circle cx="397.1" cy="356.6" r="2.5"/><circle cx="397.2" cy="355.5" r="2.5"/><circle cx="397.4" cy="355.4" r="2.5"/><circle cx="397.6" cy="356.2" r="2.5"/><circle cx="397.8" cy="355.7" r="2.5"/><circle cx="398" cy="354.9" r="2.5"/><circle cx="398.1" cy="356.4" r="2.5"/><circle cx="398.3" cy="356.1" r="2.5"/><circle cx="398.5" cy="355.8" r="2.5"/><circle cx="398.7" cy="357" r="2.5"/><circle cx="398.9" cy="356.1" r="2.5"/><circle cx="399" cy="355.6" r="2.5"/><circle cx="399.2" cy="355.7" r="2.5"/><circle cx="399.4" cy="355.5" r="2.5"/><circle cx="399.6" cy="355.6" r="2.5"/><circle cx="399.7" cy="356.2" r="2.5"/><circle cx="399.9" cy="355.7" r="2.5"/><circle cx="400.1" cy="355.8" r="2.5"/><circle cx="400.3" cy="356.8" r="2.5"/><circle cx="400.5" cy="356.4" r="2.5"/><circle cx="400.6" cy="356.4" r="2.5"/><circle cx="400.8" cy="356.3" r="2.5"/><circle cx="401" cy="356.2" r="2.5"/><circle cx="401.2" cy="356.7" r="2.5"/><circle cx="401.4" cy="356" r="2.5"/><circle cx="401.5" cy="353.9" r="2.5"/><circle cx="401.7" cy="355.6" r="2.5"/><circle cx="401.9" cy="355.9" r="2.5"/><circle cx="402.1" cy="355.3" r="2.5"/><circle cx="402.3" cy="355.8" r="2.5"/><circle cx="402.4" cy="356.2" r="2.5"/><circle cx="402.6" cy="356.7" r="2.5"/><circle cx="402.8" cy="355.7" r="2.5"/><circle cx="403" cy="356" r="2.5"/><circle cx="403.1" cy="355.8" r="2.5"/><circle cx="403.3" cy="355.6" r="2.5"/><circle cx="403.5" cy="355.4" r="2.5"/><circle cx="403.7" cy="356" r="2.5"/><circle cx="403.9" cy="355.2" r="2.5"/><circle cx="404" cy="356" r="2.5"/><circle cx="404.2" cy="356" r="2.5"/><circle cx="404.4" cy="355.7" r="2.5"/><circle cx="404.6" cy="355.5" r="2.5"/><circle cx="404.8" cy="355.3" r="2.5"/><circle cx="404.9" cy="356.5" r="2.5"/><circle cx="405.1" cy="355.4" r="2.5"/><circle cx="405.3" cy="356.7" r="2.5"/><circle cx="405.5" cy="354.4" r="2.5"/><circle cx="405.6" cy="355.8" r="2.5"/><circle cx="405.8" cy="355.4" r="2.5"/><circle cx="406" cy="356.5" r="2.5"/><circle cx="406.2" cy="358.7" r="2.5"/><circle cx="406.4" cy="355.5" r="2.5"/><circle cx="406.5" cy="355.8" r="2.5"/><circle cx="406.7" cy="356.5" r="2.5"/><circle cx="406.9" cy="356.1" r="2.5"/><circle cx="407.1" cy="356.9" r="2.5"/><circle cx="407.3" cy="355.7" r="2.5"/><circle cx="407.4" cy="356.2" r="2.5"/><circle cx="407.6" cy="355.4" r="2.5"/><circle cx="407.8" cy="357" r="2.5"/><circle cx="408" cy="355.6" r="2.5"/><circle cx="408.2" cy="354.9" r="2.5"/><circle cx="408.3" cy="358" r="2.5"/><circle cx="408.5" cy="355.9" r="2.5"/><circle cx="408.7" cy="356.9" r="2.5"/><circle cx="408.9" cy="355.8" r="2.5"/><circle cx="409" cy="356" r="2.5"/><circle cx="409.2" cy="358.6" r="2.5"/><circle cx="409.4" cy="356.7" r="2.5"/><circle cx="409.6" cy="355.9" r="2.5"/><circle cx="409.8" cy="356.5" r="2.5"/><circle cx="409.9" cy="356.2" r="2.5"/><circle cx="410.1" cy="355.8" r="2.5"/><circle cx="410.3" cy="356" r="2.5"/><circle cx="410.5" cy="356" r="2.5"/><circle cx="410.7" cy="355.5" r="2.5"/><circle cx="410.8" cy="356.5" r="2.5"/><circle cx="411" cy="356.4" r="2.5"/><circle cx="411.2" cy="356.5" r="2.5"/><circle cx="411.4" cy="356.4" r="2.5"/><circle cx="411.6" cy="355.9" r="2.5"/><circle cx="411.7" cy="355.6" r="2.5"/><circle cx="411.9" cy="355.8" r="2.5"/><circle cx="412.1" cy="356.2" r="2.5"/><circle cx="412.3" cy="356.3" r="2.5"/><circle cx="412.4" cy="356.1" r="2.5"/><circle cx="412.6" cy="356.4" r="2.5"/><circle cx="412.8" cy="355.7" r="2.5"/><circle cx="413" cy="356.1" r="2.5"/><circle cx="413.2" cy="355.2" r="2.5"/><circle cx="413.3" cy="356.3" r="2.5"/><circle cx="413.5" cy="356" r="2.5"/><circle cx="413.7" cy="355.7" r="2.5"/><circle cx="413.9" cy="356.5" r="2.5"/><circle cx="414.1" cy="356.3" r="2.5"/><circle cx="414.2" cy="354.6" r="2.5"/><circle cx="414.4" cy="355.9" r="2.5"/><circle cx="414.6" cy="355.2" r="2.5"/><circle cx="414.8" cy="356.4" r="2.5"/><circle cx="415" cy="357.1" r="2.5"/><circle cx="415.1" cy="355.7" r="2.5"/><circle cx="415.3" cy="355.9" r="2.5"/><circle cx="415.5" cy="355.1" r="2.5"/><circle cx="415.7" cy="356.1" r="2.5"/><circle cx="415.8" cy="356.2" r="2.5"/><circle cx="416" cy="356.5" r="2.5"/><circle cx="416.2" cy="355.4" r="2.5"/><circle cx="416.4" cy="356.6" r="2.5"/><circle cx="416.6" cy="355.4" r="2.5"/><circle cx="416.7" cy="356" r="2.5"/><circle cx="416.9" cy="356.4" r="2.5"/><circle cx="417.1" cy="356.2" r="2.5"/><circle cx="417.3" cy="355.4" r="2.5"/><circle cx="417.5" cy="355.5" r="2.5"/><circle cx="417.6" cy="355.6" r="2.5"/><circle cx="417.8" cy="355.8" r="2.5"/><circle cx="418" cy="356.4" r="2.5"/><circle cx="418.2" cy="355.2" r="2.5"/><circle cx="418.4" cy="356.1" r="2.5"/><circle cx="418.5" cy="356.1" r="2.5"/><circle cx="418.7" cy="356.1" r="2.5"/><circle cx="418.9" cy="357.3" r="2.5"/><circle cx="419.1" cy="356.6" r="2.5"/><circle cx="419.2" cy="356" r="2.5"/><circle cx="419.4" cy="356.2" r="2.5"/><circle cx="419.6" cy="356.1" r="2.5"/><circle cx="419.8" cy="356.7" r="2.5"/><circle cx="420" cy="354.8" r="2.5"/><circle cx="420.1" cy="356.4" r="2.5"/><circle cx="420.3" cy="355.3" r="2.5"/><circle cx="420.5" cy="355.6" r="2.5"/><circle cx="420.7" cy="356.1" r="2.5"/><circle cx="420.9" cy="354.8" r="2.5"/><circle cx="421" cy="354.3" r="2.5"/><circle cx="421.2" cy="355.4" r="2.5"/><circle cx="421.4" cy="355.9" r="2.5"/><circle cx="421.6" cy="355" r="2.5"/><circle cx="421.8" cy="356.4" r="2.5"/><circle cx="421.9" cy="355.8" r="2.5"/><circle cx="422.1" cy="355.5" r="2.5"/><circle cx="422.3" cy="355.3" r="2.5"/><circle cx="422.5" cy="355.2" r="2.5"/><circle cx="422.6" cy="355" r="2.5"/><circle cx="422.8" cy="355.3" r="2.5"/><circle cx="423" cy="355.6" r="2.5"/><circle cx="423.2" cy="355.5" r="2.5"/><circle cx="423.4" cy="354.8" r="2.5"/><circle cx="423.5" cy="355.4" r="2.5"/><circle cx="423.7" cy="355" r="2.5"/><circle cx="423.9" cy="355.5" r="2.5"/><circle cx="424.1" cy="356.4" r="2.5"/><circle cx="424.3" cy="355.7" r="2.5"/><circle cx="424.4" cy="354.4" r="2.5"/><circle cx="424.6" cy="354.5" r="2.5"/><circle cx="424.8" cy="355.2" r="2.5"/><circle cx="425" cy="354.4" r="2.5"/><circle cx="425.2" cy="355.6" r="2.5"/><circle cx="425.3" cy="354.8" r="2.5"/><circle cx="425.5" cy="355.1" r="2.5"/><circle cx="425.7" cy="354.7" r="2.5"/><circle cx="425.9" cy="355.1" r="2.5"/><circle cx="426" cy="355.7" r="2.5"/><circle cx="426.2" cy="354.5" r="2.5"/><circle cx="426.4" cy="354.6" r="2.5"/><circle cx="426.6" cy="354.3" r="2.5"/><circle cx="426.8" cy="355.1" r="2.5"/><circle cx="426.9" cy="354" r="2.5"/><circle cx="427.1" cy="353.8" r="2.5"/><circle cx="427.3" cy="353.6" r="2.5"/><circle cx="427.5" cy="355.8" r="2.5"/><circle cx="427.7" cy="354.3" r="2.5"/><circle cx="427.8" cy="355.3" r="2.5"/><circle cx="428" cy="353.1" r="2.5"/><circle cx="428.2" cy="354" r="2.5"/><circle cx="428.4" cy="353.4" r="2.5"/><circle cx="428.5" cy="352.4" r="2.5"/><circle cx="428.7" cy="352.5" r="2.5"/><circle cx="428.9" cy="352.1" r="2.5"/><circle cx="429.1" cy="354.6" r="2.5"/><circle cx="429.3" cy="352.6" r="2.5"/><circle cx="429.4" cy="349.6" r="2.5"/><circle cx="429.6" cy="354" r="2.5"/><circle cx="429.8" cy="349.2" r="2.5"/><circle cx="430" cy="347.3" r="2.5"/><circle cx="430.2" cy="344.2" r="2.5"/><circle cx="430.3" cy="344.3" r="2.5"/><circle cx="430.5" cy="340.7" r="2.5"/><circle cx="430.7" cy="337.1" r="2.5"/><circle cx="430.9" cy="332.4" r="2.5"/><circle cx="431.1" cy="324.2" r="2.5"/><circle cx="431.2" cy="320.2" r="2.5"/><circle cx="431.4" cy="313.1" r="2.5"/><circle cx="431.6" cy="303.8" r="2.5"/><circle cx="431.8" cy="295" r="2.5"/><circle cx="431.9" cy="288.4" r="2.5"/><circle cx="432.1" cy="287.4" r="2.5"/><circle cx="432.3" cy="288.5" r="2.5"/><circle cx="432.5" cy="294" r="2.5"/><circle cx="432.7" cy="302.9" r="2.5"/><circle cx="432.8" cy="309.3" r="2.5"/><circle cx="433" cy="317.9" r="2.5"/><circle cx="433.2" cy="323.5" r="2.5"/><circle cx="433.4" cy="331.1" r="2.5"/><circle cx="433.6" cy="336.3" r="2.5"/><circle cx="433.7" cy="339.7" r="2.5"/><circle cx="433.9" cy="342.8" r="2.5"/><circle cx="434.1" cy="347" r="2.5"/><circle cx="434.3" cy="346.7" r="2.5"/><circle cx="434.5" cy="348.2" r="2.5"/><circle cx="434.6" cy="349.4" r="2.5"/><circle cx="434.8" cy="351.4" r="2.5"/><circle cx="435" cy="352.6" r="2.5"/><circle cx="435.2" cy="352" r="2.5"/><circle cx="435.3" cy="351.9" r="2.5"/><circle cx="435.5" cy="352.4" r="2.5"/><circle cx="435.7" cy="353.6" r="2.5"/><circle cx="435.9" cy="352.7" r="2.5"/><circle cx="436.1" cy="354.3" r="2.5"/><circle cx="436.2" cy="354.5" r="2.5"/><circle cx="436.4" cy="353.9" r="2.5"/><circle cx="436.6" cy="354.4" r="2.5"/><circle cx="436.8" cy="354.6" r="2.5"/><circle cx="437" cy="355.1" r="2.5"/><circle cx="437.1" cy="353.9" r="2.5"/><circle cx="437.3" cy="355.2" r="2.5"/><circle cx="437.5" cy="354.4" r="2.5"/><circle cx="437.7" cy="354.3" r="2.5"/><circle cx="437.9" cy="354.8" r="2.5"/><circle cx="438" cy="354.8" r="2.5"/><circle cx="438.2" cy="354.4" r="2.5"/><circle cx="438.4" cy="354.2" r="2.5"/><circle cx="438.6" cy="354.6" r="2.5"/><circle cx="438.7" cy="355.9" r="2.5"/><circle cx="438.9" cy="356.2" r="2.5"/><circle cx="439.1" cy="355.5" r="2.5"/><circle cx="439.3" cy="355.8" r="2.5"/><circle cx="439.5" cy="355" r="2.5"/><circle cx="439.6" cy="355.3" r="2.5"/><circle cx="439.8" cy="355.5" r="2.5"/><circle cx="440" cy="354.8" r="2.5"/><circle cx="440.2" cy="354.9" r="2.5"/><circle cx="440.4" cy="355.5" r="2.5"/><circle cx="440.5" cy="355.3" r="2.5"/><circle cx="440.7" cy="354.9" r="2.5"/><circle cx="440.9" cy="355.7" r="2.5"/><circle cx="441.1" cy="355.4" r="2.5"/><circle cx="441.3" cy="356.1" r="2.5"/><circle cx="441.4" cy="355.3" r="2.5"/><circle cx="441.6" cy="355.4" r="2.5"/><circle cx="441.8" cy="355.7" r="2.5"/><circle cx="442" cy="355.5" r="2.5"/><circle cx="442.1" cy="355.3" r="2.5"/><circle cx="442.3" cy="355.4" r="2.5"/><circle cx="442.5" cy="356" r="2.5"/><circle cx="442.7" cy="356" r="2.5"/><circle cx="442.9" cy="356.3" r="2.5"/><circle cx="443" cy="354.9" r="2.5"/><circle cx="443.2" cy="355.5" r="2.5"/><circle cx="443.4" cy="355.5" r="2.5"/><circle cx="443.6" cy="355.8" r="2.5"/><circle cx="443.8" cy="355.5" r="2.5"/><circle cx="443.9" cy="355.5" r="2.5"/><circle cx="444.1" cy="356.1" r="2.5"/><circle cx="444.3" cy="355.8" r="2.5"/><circle cx="444.5" cy="355.2" r="2.5"/><circle cx="444.7" cy="356.4" r="2.5"/><circle cx="444.8" cy="355.5" r="2.5"/><circle cx="445" cy="355.5" r="2.5"/><circle cx="445.2" cy="356.2" r="2.5"/><circle cx="445.4" cy="355.4" r="2.5"/><circle cx="445.5" cy="356.4" r="2.5"/><circle cx="445.7" cy="355.7" r="2.5"/><circle cx="445.9" cy="355.4" r="2.5"/><circle cx="446.1" cy="355.6" r="2.5"/><circle cx="446.3" cy="355.5" r="2.5"/><circle cx="446.4" cy="355.9" r="2.5"/><circle cx="446.6" cy="355.9" r="2.5"/><circle cx="446.8" cy="355.9" r="2.5"/><circle cx="447" cy="355.6" r="2.5"/><circle cx="447.2" cy="354.1" r="2.5"/><circle cx="447.3" cy="355.9" r="2.5"/><circle cx="447.5" cy="354.9" r="2.5"/><circle cx="447.7" cy="356" r="2.5"/><circle cx="447.9" cy="356.4" r="2.5"/><circle cx="448.1" cy="356" r="2.5"/><circle cx="448.2" cy="355.7" r="2.5"/><circle cx="448.4" cy="355.8" r="2.5"/><circle cx="448.6" cy="355.8" r="2.5"/><circle cx="448.8" cy="355.6" r="2.5"/><circle cx="448.9" cy="355.5" r="2.5"/><circle cx="449.1" cy="355.4" r="2.5"/><circle cx="449.3" cy="356.5" r="2.5"/><circle cx="449.5" cy="355.9" r="2.5"/><circle cx="449.7" cy="356.4" r="2.5"/><circle cx="449.8" cy="355.8" r="2.5"/><circle cx="450" cy="355.9" r="2.5"/><circle cx="450.2" cy="355.8" r="2.5"/><circle cx="450.4" cy="356.1" r="2.5"/><circle cx="450.6" cy="356.3" r="2.5"/><circle cx="450.7" cy="356" r="2.5"/><circle cx="450.9" cy="355.6" r="2.5"/><circle cx="451.1" cy="355.5" r="2.5"/><circle cx="451.3" cy="356.7" r="2.5"/><circle cx="451.5" cy="355.8" r="2.5"/><circle cx="451.6" cy="355.8" r="2.5"/><circle cx="451.8" cy="356.6" r="2.5"/><circle cx="452" cy="357.7" r="2.5"/><circle cx="452.2" cy="356.2" r="2.5"/><circle cx="452.3" cy="357" r="2.5"/><circle cx="452.5" cy="357" r="2.5"/><circle cx="452.7" cy="356.1" r="2.5"/><circle cx="452.9" cy="356.2" r="2.5"/><circle cx="453.1" cy="355.8" r="2.5"/><circle cx="453.2" cy="355.2" r="2.5"/><circle cx="453.4" cy="355.6" r="2.5"/><circle cx="453.6" cy="356.1" r="2.5"/><circle cx="453.8" cy="356.1" r="2.5"/><circle cx="454" cy="355.8" r="2.5"/><circle cx="454.1" cy="355.3" r="2.5"/><circle cx="454.3" cy="355.2" r="2.5"/><circle cx="454.5" cy="355.8" r="2.5"/><circle cx="454.7" cy="355.2" r="2.5"/><circle cx="454.8" cy="356.4" r="2.5"/><circle cx="455" cy="356.5" r="2.5"/><circle cx="455.2" cy="357.3" r="2.5"/><circle cx="455.4" cy="356.3" r="2.5"/><circle cx="455.6" cy="355.6" r="2.5"/><circle cx="455.7" cy="355.5" r="2.5"/><circle cx="455.9" cy="354.3" r="2.5"/><circle cx="456.1" cy="355.6" r="2.5"/><circle cx="456.3" cy="355.8" r="2.5"/><circle cx="456.5" cy="356.4" r="2.5"/><circle cx="456.6" cy="356.2" r="2.5"/><circle cx="456.8" cy="356.2" r="2.5"/><circle cx="457" cy="356" r="2.5"/><circle cx="457.2" cy="356.2" r="2.5"/><circle cx="457.4" cy="356.6" r="2.5"/><circle cx="457.5" cy="355.5" r="2.5"/><circle cx="457.7" cy="355.7" r="2.5"/><circle cx="457.9" cy="355.2" r="2.5"/><circle cx="458.1" cy="356.7" r="2.5"/><circle cx="458.2" cy="356.5" r="2.5"/><circle cx="458.4" cy="356.3" r="2.5"/><circle cx="458.6" cy="355.3" r="2.5"/><circle cx="458.8" cy="356" r="2.5"/><circle cx="459" cy="355.8" r="2.5"/><circle cx="459.1" cy="355.9" r="2.5"/><circle cx="459.3" cy="355.8" r="2.5"/><circle cx="459.5" cy="356.1" r="2.5"/><circle cx="459.7" cy="355.7" r="2.5"/><circle cx="459.9" cy="356.4" r="2.5"/><circle cx="460" cy="356" r="2.5"/><circle cx="460.2" cy="355.7" r="2.5"/><circle cx="460.4" cy="355.8" r="2.5"/><circle cx="460.6" cy="355.6" r="2.5"/><circle cx="460.8" cy="356.2" r="2.5"/><circle cx="460.9" cy="355.7" r="2.5"/><circle cx="461.1" cy="356" r="2.5"/><circle cx="461.3" cy="355.6" r="2.5"/><circle cx="461.5" cy="355.1" r="2.5"/><circle cx="461.6" cy="356.3" r="2.5"/><circle cx="461.8" cy="355.3" r="2.5"/><circle cx="462" cy="356.1" r="2.5"/><circle cx="462.2" cy="356" r="2.5"/><circle cx="462.4" cy="355" r="2.5"/><circle cx="462.5" cy="355.3" r="2.5"/><circle cx="462.7" cy="355.5" r="2.5"/><circle cx="462.9" cy="355.4" r="2.5"/><circle cx="463.1" cy="355.2" r="2.5"/><circle cx="463.3" cy="356.1" r="2.5"/><circle cx="463.4" cy="355.6" r="2.5"/><circle cx="463.6" cy="356.7" r="2.5"/><circle cx="463.8" cy="355.5" r="2.5"/><circle cx="464" cy="355.8" r="2.5"/><circle cx="464.2" cy="355.3" r="2.5"/><circle cx="464.3" cy="355.6" r="2.5"/><circle cx="464.5" cy="355.9" r="2.5"/><circle cx="464.7" cy="355.6" r="2.5"/><circle cx="464.9" cy="355.3" r="2.5"/><circle cx="465" cy="354.9" r="2.5"/><circle cx="465.2" cy="355.5" r="2.5"/><circle cx="465.4" cy="355.6" r="2.5"/><circle cx="465.6" cy="355.2" r="2.5"/><circle cx="465.8" cy="354.9" r="2.5"/><circle cx="465.9" cy="355.5" r="2.5"/><circle cx="466.1" cy="356.4" r="2.5"/><circle cx="466.3" cy="354.9" r="2.5"/><circle cx="466.5" cy="355.1" r="2.5"/><circle cx="466.7" cy="355" r="2.5"/><circle cx="466.8" cy="353.2" r="2.5"/><circle cx="467" cy="354.4" r="2.5"/><circle cx="467.2" cy="353.6" r="2.5"/><circle cx="467.4" cy="354.3" r="2.5"/><circle cx="467.6" cy="352.8" r="2.5"/><circle cx="467.7" cy="351.8" r="2.5"/><circle cx="467.9" cy="351.9" r="2.5"/><circle cx="468.1" cy="350.3" r="2.5"/><circle cx="468.3" cy="346.8" r="2.5"/><circle cx="468.4" cy="347.6" r="2.5"/><circle cx="468.6" cy="345.2" r="2.5"/><circle cx="468.8" cy="344.7" r="2.5"/><circle cx="469" cy="344.4" r="2.5"/><circle cx="469.2" cy="344.8" r="2.5"/><circle cx="469.3" cy="344.2" r="2.5"/><circle cx="469.5" cy="344.7" r="2.5"/><circle cx="469.7" cy="346.6" r="2.5"/><circle cx="469.9" cy="349" r="2.5"/><circle cx="470.1" cy="349.7" r="2.5"/><circle cx="470.2" cy="350.6" r="2.5"/><circle cx="470.4" cy="351" r="2.5"/><circle cx="470.6" cy="352.1" r="2.5"/><circle cx="470.8" cy="352.9" r="2.5"/><circle cx="471" cy="353.5" r="2.5"/><circle cx="471.1" cy="356.3" r="2.5"/><circle cx="471.3" cy="353.7" r="2.5"/><circle cx="471.5" cy="353.3" r="2.5"/><circle cx="471.7" cy="354.3" r="2.5"/><circle cx="471.8" cy="353.7" r="2.5"/><circle cx="472" cy="355" r="2.5"/><circle cx="472.2" cy="355" r="2.5"/><circle cx="472.4" cy="354.2" r="2.5"/><circle cx="472.6" cy="355.5" r="2.5"/><circle cx="472.7" cy="355.7" r="2.5"/><circle cx="472.9" cy="355.3" r="2.5"/><circle cx="473.1" cy="356.2" r="2.5"/><circle cx="473.3" cy="356.3" r="2.5"/><circle cx="473.5" cy="354.8" r="2.5"/><circle cx="473.6" cy="356.2" r="2.5"/><circle cx="473.8" cy="355.6" r="2.5"/><circle cx="474" cy="355.7" r="2.5"/><circle cx="474.2" cy="355.9" r="2.5"/><circle cx="474.4" cy="355.1" r="2.5"/><circle cx="474.5" cy="355.2" r="2.5"/><circle cx="474.7" cy="353.1" r="2.5"/><circle cx="474.9" cy="355.1" r="2.5"/><circle cx="475.1" cy="355.5" r="2.5"/><circle cx="475.2" cy="354.8" r="2.5"/><circle cx="475.4" cy="355" r="2.5"/><circle cx="475.6" cy="355.8" r="2.5"/><circle cx="475.8" cy="355.5" r="2.5"/><circle cx="476" cy="355.7" r="2.5"/><circle cx="476.1" cy="354.5" r="2.5"/><circle cx="476.3" cy="355.1" r="2.5"/><circle cx="476.5" cy="355.2" r="2.5"/><circle cx="476.7" cy="355.5" r="2.5"/><circle cx="476.9" cy="355.2" r="2.5"/><circle cx="477" cy="355.9" r="2.5"/><circle cx="477.2" cy="355.4" r="2.5"/><circle cx="477.4" cy="355.4" r="2.5"/><circle cx="477.6" cy="355.4" r="2.5"/><circle cx="477.7" cy="355.7" r="2.5"/><circle cx="477.9" cy="355.1" r="2.5"/><circle cx="478.1" cy="355.9" r="2.5"/><circle cx="478.3" cy="355.6" r="2.5"/><circle cx="478.5" cy="355.4" r="2.5"/><circle cx="478.6" cy="355.3" r="2.5"/><circle cx="478.8" cy="357.4" r="2.5"/><circle cx="479" cy="355.3" r="2.5"/><circle cx="479.2" cy="355.7" r="2.5"/><circle cx="479.4" cy="351.2" r="2.5"/><circle cx="479.5" cy="355.5" r="2.5"/><circle cx="479.7" cy="355.1" r="2.5"/><circle cx="479.9" cy="355.6" r="2.5"/><circle cx="480.1" cy="354.9" r="2.5"/><circle cx="480.3" cy="353.8" r="2.5"/><circle cx="480.4" cy="355.5" r="2.5"/><circle cx="480.6" cy="354.8" r="2.5"/><circle cx="480.8" cy="354" r="2.5"/><circle cx="481" cy="354.4" r="2.5"/><circle cx="481.1" cy="354" r="2.5"/><circle cx="481.3" cy="355.5" r="2.5"/><circle cx="481.5" cy="354.5" r="2.5"/><circle cx="481.7" cy="353.2" r="2.5"/><circle cx="481.9" cy="354.2" r="2.5"/><circle cx="482" cy="353.5" r="2.5"/><circle cx="482.2" cy="354.6" r="2.5"/><circle cx="482.4" cy="352.6" r="2.5"/><circle cx="482.6" cy="351.7" r="2.5"/><circle cx="482.8" cy="352.6" r="2.5"/><circle cx="482.9" cy="352" r="2.5"/><circle cx="483.1" cy="351.1" r="2.5"/><circle cx="483.3" cy="349.7" r="2.5"/><circle cx="483.5" cy="350.5" r="2.5"/><circle cx="483.7" cy="350.2" r="2.5"/><circle cx="483.8" cy="346.5" r="2.5"/><circle cx="484" cy="346.7" r="2.5"/><circle cx="484.2" cy="343.1" r="2.5"/><circle cx="484.4" cy="342.2" r="2.5"/><circle cx="484.5" cy="337.2" r="2.5"/><circle cx="484.7" cy="332.3" r="2.5"/><circle cx="484.9" cy="328.3" r="2.5"/><circle cx="485.1" cy="322.3" r="2.5"/><circle cx="485.3" cy="315.7" r="2.5"/><circle cx="485.4" cy="311.8" r="2.5"/><circle cx="485.6" cy="306.9" r="2.5"/><circle cx="485.8" cy="304.2" r="2.5"/><circle cx="486" cy="309" r="2.5"/><circle cx="486.2" cy="310.2" r="2.5"/><circle cx="486.3" cy="315" r="2.5"/><circle cx="486.5" cy="322.3" r="2.5"/><circle cx="486.7" cy="325.5" r="2.5"/><circle cx="486.9" cy="330.8" r="2.5"/><circle cx="487.1" cy="336.5" r="2.5"/><circle cx="487.2" cy="339.7" r="2.5"/><circle cx="487.4" cy="343.2" r="2.5"/><circle cx="487.6" cy="346.3" r="2.5"/><circle cx="487.8" cy="347.1" r="2.5"/><circle cx="487.9" cy="349.2" r="2.5"/><circle cx="488.1" cy="350.4" r="2.5"/><circle cx="488.3" cy="350.2" r="2.5"/><circle cx="488.5" cy="351.6" r="2.5"/><circle cx="488.7" cy="351.4" r="2.5"/><circle cx="488.8" cy="353" r="2.5"/><circle cx="489" cy="353" r="2.5"/><circle cx="489.2" cy="353" r="2.5"/><circle cx="489.4" cy="352.5" r="2.5"/><circle cx="489.6" cy="353.5" r="2.5"/><circle cx="489.7" cy="353.2" r="2.5"/><circle cx="489.9" cy="354.2" r="2.5"/><circle cx="490.1" cy="355.6" r="2.5"/><circle cx="490.3" cy="353.6" r="2.5"/><circle cx="490.5" cy="354.7" r="2.5"/><circle cx="490.6" cy="354.6" r="2.5"/><circle cx="490.8" cy="354" r="2.5"/><circle cx="491" cy="355" r="2.5"/><circle cx="491.2" cy="354.3" r="2.5"/><circle cx="491.3" cy="354.3" r="2.5"/><circle cx="491.5" cy="354.6" r="2.5"/><circle cx="491.7" cy="354.2" r="2.5"/><circle cx="491.9" cy="354.3" r="2.5"/><circle cx="492.1" cy="354.5" r="2.5"/><circle cx="492.2" cy="355.4" r="2.5"/><circle cx="492.4" cy="355.4" r="2.5"/><circle cx="492.6" cy="355.3" r="2.5"/><circle cx="492.8" cy="355.4" r="2.5"/><circle cx="493" cy="354.5" r="2.5"/><circle cx="493.1" cy="354.7" r="2.5"/><circle cx="493.3" cy="355" r="2.5"/><circle cx="493.5" cy="354.6" r="2.5"/><circle cx="493.7" cy="355.7" r="2.5"/><circle cx="493.9" cy="354.4" r="2.5"/><circle cx="494" cy="353.5" r="2.5"/><circle cx="494.2" cy="354.8" r="2.5"/><circle cx="494.4" cy="353.7" r="2.5"/><circle cx="494.6" cy="353.6" r="2.5"/><circle cx="494.7" cy="351.9" r="2.5"/><circle cx="494.9" cy="353.9" r="2.5"/><circle cx="495.1" cy="353.5" r="2.5"/><circle cx="495.3" cy="353.2" r="2.5"/><circle cx="495.5" cy="352.8" r="2.5"/><circle cx="495.6" cy="352.6" r="2.5"/><circle cx="495.8" cy="350.7" r="2.5"/><circle cx="496" cy="350.2" r="2.5"/><circle cx="496.2" cy="347.8" r="2.5"/><circle cx="496.4" cy="346.2" r="2.5"/><circle cx="496.5" cy="345" r="2.5"/><circle cx="496.7" cy="342" r="2.5"/><circle cx="496.9" cy="337.9" r="2.5"/><circle cx="497.1" cy="335.7" r="2.5"/><circle cx="497.3" cy="331.9" r="2.5"/><circle cx="497.4" cy="328.4" r="2.5"/><circle cx="497.6" cy="327.2" r="2.5"/><circle cx="497.8" cy="325.5" r="2.5"/><circle cx="498" cy="325.1" r="2.5"/><circle cx="498.1" cy="327.5" r="2.5"/><circle cx="498.3" cy="332.8" r="2.5"/><circle cx="498.5" cy="333.5" r="2.5"/><circle cx="498.7" cy="338.2" r="2.5"/><circle cx="498.9" cy="341.5" r="2.5"/><circle cx="499" cy="344.3" r="2.5"/><circle cx="499.2" cy="345.3" r="2.5"/><circle cx="499.4" cy="347.8" r="2.5"/><circle cx="499.6" cy="349.6" r="2.5"/><circle cx="499.8" cy="351.2" r="2.5"/><circle cx="499.9" cy="348.4" r="2.5"/><circle cx="500.1" cy="351.6" r="2.5"/><circle cx="500.3" cy="353.4" r="2.5"/><circle cx="500.5" cy="353.9" r="2.5"/><circle cx="500.6" cy="352.2" r="2.5"/><circle cx="500.8" cy="353.7" r="2.5"/><circle cx="501" cy="354.3" r="2.5"/><circle cx="501.2" cy="355.2" r="2.5"/><circle cx="501.4" cy="354.9" r="2.5"/><circle cx="501.5" cy="353.9" r="2.5"/><circle cx="501.7" cy="353.3" r="2.5"/><circle cx="501.9" cy="354.7" r="2.5"/><circle cx="502.1" cy="354.3" r="2.5"/><circle cx="502.3" cy="355.1" r="2.5"/><circle cx="502.4" cy="355" r="2.5"/><circle cx="502.6" cy="354.9" r="2.5"/><circle cx="502.8" cy="355.4" r="2.5"/><circle cx="503" cy="354.5" r="2.5"/><circle cx="503.2" cy="355.2" r="2.5"/><circle cx="503.3" cy="355.5" r="2.5"/><circle cx="503.5" cy="355.5" r="2.5"/><circle cx="503.7" cy="355.9" r="2.5"/><circle cx="503.9" cy="354.8" r="2.5"/><circle cx="504" cy="353.8" r="2.5"/><circle cx="504.2" cy="355.6" r="2.5"/><circle cx="504.4" cy="355.7" r="2.5"/><circle cx="504.6" cy="356.6" r="2.5"/><circle cx="504.8" cy="355.9" r="2.5"/><circle cx="504.9" cy="355.1" r="2.5"/><circle cx="505.1" cy="356" r="2.5"/><circle cx="505.3" cy="355.2" r="2.5"/><circle cx="505.5" cy="354.9" r="2.5"/><circle cx="505.7" cy="356.9" r="2.5"/><circle cx="505.8" cy="355.8" r="2.5"/><circle cx="506" cy="356.7" r="2.5"/><circle cx="506.2" cy="356" r="2.5"/><circle cx="506.4" cy="356.6" r="2.5"/><circle cx="506.6" cy="355.9" r="2.5"/><circle cx="506.7" cy="356.3" r="2.5"/><circle cx="506.9" cy="355.2" r="2.5"/><circle cx="507.1" cy="355.1" r="2.5"/><circle cx="507.3" cy="353.8" r="2.5"/><circle cx="507.4" cy="356.5" r="2.5"/><circle cx="507.6" cy="356" r="2.5"/><circle cx="507.8" cy="355.9" r="2.5"/><circle cx="508" cy="355.9" r="2.5"/><circle cx="508.2" cy="355.5" r="2.5"/><circle cx="508.3" cy="356.6" r="2.5"/><circle cx="508.5" cy="356.1" r="2.5"/><circle cx="508.7" cy="356.1" r="2.5"/><circle cx="508.9" cy="356" r="2.5"/><circle cx="509.1" cy="356.4" r="2.5"/><circle cx="509.2" cy="356.1" r="2.5"/><circle cx="509.4" cy="356.2" r="2.5"/><circle cx="509.6" cy="355.3" r="2.5"/><circle cx="509.8" cy="356.1" r="2.5"/><circle cx="510" cy="356.9" r="2.5"/><circle cx="510.1" cy="352.9" r="2.5"/><circle cx="510.3" cy="355.5" r="2.5"/><circle cx="510.5" cy="356.6" r="2.5"/><circle cx="510.7" cy="356.4" r="2.5"/><circle cx="510.8" cy="356.2" r="2.5"/><circle cx="511" cy="355.1" r="2.5"/><circle cx="511.2" cy="356.1" r="2.5"/><circle cx="511.4" cy="355.3" r="2.5"/><circle cx="511.6" cy="355.5" r="2.5"/><circle cx="511.7" cy="356.2" r="2.5"/><circle cx="511.9" cy="355.8" r="2.5"/><circle cx="512.1" cy="356.3" r="2.5"/><circle cx="512.3" cy="357.4" r="2.5"/><circle cx="512.5" cy="356.3" r="2.5"/><circle cx="512.6" cy="356.3" r="2.5"/><circle cx="512.8" cy="355.5" r="2.5"/><circle cx="513" cy="355.6" r="2.5"/><circle cx="513.2" cy="355.4" r="2.5"/><circle cx="513.4" cy="355.7" r="2.5"/><circle cx="513.5" cy="355.4" r="2.5"/><circle cx="513.7" cy="355.6" r="2.5"/><circle cx="513.9" cy="355.8" r="2.5"/><circle cx="514.1" cy="355.5" r="2.5"/><circle cx="514.2" cy="355.3" r="2.5"/><circle cx="514.4" cy="355.3" r="2.5"/><circle cx="514.6" cy="356.2" r="2.5"/><circle cx="514.8" cy="356" r="2.5"/><circle cx="515" cy="356.4" r="2.5"/><circle cx="515.1" cy="356.5" r="2.5"/><circle cx="515.3" cy="355.8" r="2.5"/><circle cx="515.5" cy="356.3" r="2.5"/><circle cx="515.7" cy="355.3" r="2.5"/><circle cx="515.9" cy="357.1" r="2.5"/><circle cx="516" cy="356.5" r="2.5"/><circle cx="516.2" cy="355.9" r="2.5"/><circle cx="516.4" cy="355.4" r="2.5"/><circle cx="516.6" cy="356.2" r="2.5"/><circle cx="516.8" cy="355.1" r="2.5"/><circle cx="516.9" cy="355.6" r="2.5"/><circle cx="517.1" cy="356.3" r="2.5"/><circle cx="517.3" cy="356" r="2.5"/><circle cx="517.5" cy="355.7" r="2.5"/><circle cx="517.6" cy="356.4" r="2.5"/><circle cx="517.8" cy="355.5" r="2.5"/><circle cx="518" cy="356.1" r="2.5"/><circle cx="518.2" cy="355.7" r="2.5"/><circle cx="518.4" cy="355.6" r="2.5"/><circle cx="518.5" cy="356.2" r="2.5"/><circle cx="518.7" cy="355.5" r="2.5"/><circle cx="518.9" cy="356.9" r="2.5"/><circle cx="519.1" cy="355.7" r="2.5"/><circle cx="519.3" cy="356.9" r="2.5"/><circle cx="519.4" cy="355.5" r="2.5"/><circle cx="519.6" cy="356.3" r="2.5"/><circle cx="519.8" cy="355.4" r="2.5"/><circle cx="520" cy="355.4" r="2.5"/><circle cx="520.2" cy="356.1" r="2.5"/><circle cx="520.3" cy="356.3" r="2.5"/><circle cx="520.5" cy="355.4" r="2.5"/><circle cx="520.7" cy="356.6" r="2.5"/><circle cx="520.9" cy="355.6" r="2.5"/><circle cx="521" cy="356.1" r="2.5"/><circle cx="521.2" cy="356.2" r="2.5"/><circle cx="521.4" cy="356.3" r="2.5"/><circle cx="521.6" cy="355.1" r="2.5"/><circle cx="521.8" cy="356.8" r="2.5"/><circle cx="521.9" cy="356.3" r="2.5"/><circle cx="522.1" cy="355.8" r="2.5"/><circle cx="522.3" cy="355.5" r="2.5"/><circle cx="522.5" cy="355.2" r="2.5"/><circle cx="522.7" cy="355.3" r="2.5"/><circle cx="522.8" cy="356.3" r="2.5"/><circle cx="523" cy="355.8" r="2.5"/><circle cx="523.2" cy="355.5" r="2.5"/><circle cx="523.4" cy="355.7" r="2.5"/><circle cx="523.6" cy="356.7" r="2.5"/><circle cx="523.7" cy="355.8" r="2.5"/><circle cx="523.9" cy="355.7" r="2.5"/><circle cx="524.1" cy="356.6" r="2.5"/><circle cx="524.3" cy="356.2" r="2.5"/><circle cx="524.4" cy="356" r="2.5"/><circle cx="524.6" cy="355.7" r="2.5"/><circle cx="524.8" cy="355.2" r="2.5"/><circle cx="525" cy="355.4" r="2.5"/><circle cx="525.2" cy="355.8" r="2.5"/><circle cx="525.3" cy="355.9" r="2.5"/><circle cx="525.5" cy="356.1" r="2.5"/><circle cx="525.7" cy="356.2" r="2.5"/><circle cx="525.9" cy="356.1" r="2.5"/><circle cx="526.1" cy="356.1" r="2.5"/><circle cx="526.2" cy="355.5" r="2.5"/><circle cx="526.4" cy="354.9" r="2.5"/><circle cx="526.6" cy="355.7" r="2.5"/><circle cx="526.8" cy="355.5" r="2.5"/><circle cx="526.9" cy="355.6" r="2.5"/><circle cx="527.1" cy="355.8" r="2.5"/><circle cx="527.3" cy="354.7" r="2.5"/><circle cx="527.5" cy="355.4" r="2.5"/><circle cx="527.7" cy="355.9" r="2.5"/><circle cx="527.8" cy="356" r="2.5"/><circle cx="528" cy="355.6" r="2.5"/><circle cx="528.2" cy="356.2" r="2.5"/><circle cx="528.4" cy="355.8" r="2.5"/><circle cx="528.6" cy="355.4" r="2.5"/><circle cx="528.7" cy="355.9" r="2.5"/><circle cx="528.9" cy="356.8" r="2.5"/><circle cx="529.1" cy="355.6" r="2.5"/><circle cx="529.3" cy="356.4" r="2.5"/><circle cx="529.5" cy="356.5" r="2.5"/><circle cx="529.6" cy="356.6" r="2.5"/><circle cx="529.8" cy="355.4" r="2.5"/><circle cx="530" cy="356.8" r="2.5"/><circle cx="530.2" cy="355.8" r="2.5"/><circle cx="530.3" cy="355.6" r="2.5"/><circle cx="530.5" cy="355.6" r="2.5"/><circle cx="530.7" cy="356" r="2.5"/><circle cx="530.9" cy="355.7" r="2.5"/><circle cx="531.1" cy="355.6" r="2.5"/><circle cx="531.2" cy="356.2" r="2.5"/><circle cx="531.4" cy="355.2" r="2.5"/><circle cx="531.6" cy="354.9" r="2.5"/><circle cx="531.8" cy="355.8" r="2.5"/><circle cx="532" cy="355.6" r="2.5"/><circle cx="532.1" cy="355.6" r="2.5"/><circle cx="532.3" cy="354.3" r="2.5"/><circle cx="532.5" cy="355.2" r="2.5"/><circle cx="532.7" cy="354.5" r="2.5"/><circle cx="532.9" cy="354.9" r="2.5"/><circle cx="533" cy="352.7" r="2.5"/><circle cx="533.2" cy="353" r="2.5"/><circle cx="533.4" cy="352.1" r="2.5"/><circle cx="533.6" cy="350.6" r="2.5"/><circle cx="533.7" cy="350.5" r="2.5"/><circle cx="533.9" cy="351.1" r="2.5"/><circle cx="534.1" cy="349.8" r="2.5"/><circle cx="534.3" cy="349.6" r="2.5"/><circle cx="534.5" cy="347.7" r="2.5"/><circle cx="534.6" cy="351.4" r="2.5"/><circle cx="534.8" cy="352" r="2.5"/><circle cx="535" cy="351.6" r="2.5"/><circle cx="535.2" cy="352.6" r="2.5"/><circle cx="535.4" cy="353.8" r="2.5"/><circle cx="535.5" cy="353.4" r="2.5"/><circle cx="535.7" cy="351.9" r="2.5"/><circle cx="535.9" cy="355" r="2.5"/><circle cx="536.1" cy="355.6" r="2.5"/><circle cx="536.3" cy="354.4" r="2.5"/><circle cx="536.4" cy="353.9" r="2.5"/><circle cx="536.6" cy="354.6" r="2.5"/><circle cx="536.8" cy="354.9" r="2.5"/><circle cx="537" cy="355.5" r="2.5"/><circle cx="537.1" cy="355.9" r="2.5"/><circle cx="537.3" cy="355.6" r="2.5"/><circle cx="537.5" cy="356.2" r="2.5"/><circle cx="537.7" cy="355.8" r="2.5"/><circle cx="537.9" cy="355.3" r="2.5"/><circle cx="538" cy="355.8" r="2.5"/><circle cx="538.2" cy="355.5" r="2.5"/><circle cx="538.4" cy="357.1" r="2.5"/><circle cx="538.6" cy="356.2" r="2.5"/><circle cx="538.8" cy="355.5" r="2.5"/><circle cx="538.9" cy="355.4" r="2.5"/><circle cx="539.1" cy="355.5" r="2.5"/><circle cx="539.3" cy="355.1" r="2.5"/><circle cx="539.5" cy="355.6" r="2.5"/><circle cx="539.7" cy="355.6" r="2.5"/><circle cx="539.8" cy="356.3" r="2.5"/><circle cx="540" cy="355.7" r="2.5"/><circle cx="540.2" cy="355.6" r="2.5"/><circle cx="540.4" cy="355.3" r="2.5"/><circle cx="540.5" cy="355.4" r="2.5"/><circle cx="540.7" cy="355.9" r="2.5"/><circle cx="540.9" cy="355.9" r="2.5"/><circle cx="541.1" cy="356.5" r="2.5"/><circle cx="541.3" cy="355.7" r="2.5"/><circle cx="541.4" cy="356.5" r="2.5"/><circle cx="541.6" cy="356.1" r="2.5"/><circle cx="541.8" cy="356" r="2.5"/><circle cx="542" cy="355" r="2.5"/><circle cx="542.2" cy="355.4" r="2.5"/><circle cx="542.3" cy="356.3" r="2.5"/><circle cx="542.5" cy="356.7" r="2.5"/><circle cx="542.7" cy="356.4" r="2.5"/><circle cx="542.9" cy="356.4" r="2.5"/><circle cx="543.1" cy="355.8" r="2.5"/><circle cx="543.2" cy="355.8" r="2.5"/><circle cx="543.4" cy="355.7" r="2.5"/><circle cx="543.6" cy="356.5" r="2.5"/><circle cx="543.8" cy="356.2" r="2.5"/><circle cx="543.9" cy="355.9" r="2.5"/><circle cx="544.1" cy="356.7" r="2.5"/><circle cx="544.3" cy="356.3" r="2.5"/><circle cx="544.5" cy="356.2" r="2.5"/><circle cx="544.7" cy="355.6" r="2.5"/><circle cx="544.8" cy="356.8" r="2.5"/><circle cx="545" cy="356.1" r="2.5"/><circle cx="545.2" cy="356" r="2.5"/><circle cx="545.4" cy="356.7" r="2.5"/><circle cx="545.6" cy="356.5" r="2.5"/><circle cx="545.7" cy="356" r="2.5"/><circle cx="545.9" cy="356.3" r="2.5"/><circle cx="546.1" cy="355.5" r="2.5"/><circle cx="546.3" cy="355" r="2.5"/><circle cx="546.5" cy="355" r="2.5"/><circle cx="546.6" cy="356.6" r="2.5"/><circle cx="546.8" cy="355.2" r="2.5"/><circle cx="547" cy="356.4" r="2.5"/><circle cx="547.2" cy="356.8" r="2.5"/><circle cx="547.3" cy="355.6" r="2.5"/><circle cx="547.5" cy="356" r="2.5"/><circle cx="547.7" cy="356.2" r="2.5"/><circle cx="547.9" cy="356.3" r="2.5"/><circle cx="548.1" cy="356.9" r="2.5"/><circle cx="548.2" cy="356.2" r="2.5"/><circle cx="548.4" cy="356.5" r="2.5"/><circle cx="548.6" cy="355.8" r="2.5"/><circle cx="548.8" cy="356.4" r="2.5"/><circle cx="549" cy="356.1" r="2.5"/><circle cx="549.1" cy="355.8" r="2.5"/><circle cx="549.3" cy="356" r="2.5"/><circle cx="549.5" cy="356" r="2.5"/><circle cx="549.7" cy="356.1" r="2.5"/><circle cx="549.8" cy="356.2" r="2.5"/><circle cx="550" cy="355.8" r="2.5"/><circle cx="550.2" cy="355.7" r="2.5"/><circle cx="550.4" cy="356.4" r="2.5"/><circle cx="550.6" cy="355.3" r="2.5"/><circle cx="550.7" cy="355.8" r="2.5"/><circle cx="550.9" cy="356.8" r="2.5"/><circle cx="551.1" cy="354.8" r="2.5"/><circle cx="551.3" cy="355.7" r="2.5"/><circle cx="551.5" cy="356.4" r="2.5"/><circle cx="551.6" cy="355.3" r="2.5"/><circle cx="551.8" cy="357.3" r="2.5"/><circle cx="552" cy="354.9" r="2.5"/><circle cx="552.2" cy="356.7" r="2.5"/><circle cx="552.4" cy="356.8" r="2.5"/><circle cx="552.5" cy="356.5" r="2.5"/><circle cx="552.7" cy="356" r="2.5"/><circle cx="552.9" cy="356.2" r="2.5"/><circle cx="553.1" cy="355.6" r="2.5"/><circle cx="553.2" cy="356.4" r="2.5"/><circle cx="553.4" cy="355.5" r="2.5"/><circle cx="553.6" cy="355.9" r="2.5"/><circle cx="553.8" cy="356.5" r="2.5"/><circle cx="554" cy="355.5" r="2.5"/><circle cx="554.1" cy="355.9" r="2.5"/><circle cx="554.3" cy="356.1" r="2.5"/><circle cx="554.5" cy="357.1" r="2.5"/><circle cx="554.7" cy="356.6" r="2.5"/><circle cx="554.9" cy="356.2" r="2.5"/><circle cx="555" cy="355.4" r="2.5"/><circle cx="555.2" cy="356" r="2.5"/><circle cx="555.4" cy="355.7" r="2.5"/><circle cx="555.6" cy="355.8" r="2.5"/><circle cx="555.8" cy="356.1" r="2.5"/><circle cx="555.9" cy="355.7" r="2.5"/><circle cx="556.1" cy="356.5" r="2.5"/><circle cx="556.3" cy="355.7" r="2.5"/><circle cx="556.5" cy="356.5" r="2.5"/><circle cx="556.6" cy="356" r="2.5"/><circle cx="556.8" cy="356.5" r="2.5"/><circle cx="557" cy="355.8" r="2.5"/><circle cx="557.2" cy="355.8" r="2.5"/><circle cx="557.4" cy="355.5" r="2.5"/><circle cx="557.5" cy="356.3" r="2.5"/><circle cx="557.7" cy="357" r="2.5"/><circle cx="557.9" cy="357" r="2.5"/><circle cx="558.1" cy="356.7" r="2.5"/><circle cx="558.3" cy="356.2" r="2.5"/><circle cx="558.4" cy="356" r="2.5"/><circle cx="558.6" cy="356.2" r="2.5"/><circle cx="558.8" cy="356" r="2.5"/><circle cx="559" cy="356.7" r="2.5"/><circle cx="559.2" cy="356.5" r="2.5"/><circle cx="559.3" cy="357.5" r="2.5"/><circle cx="559.5" cy="355.7" r="2.5"/><circle cx="559.7" cy="356.7" r="2.5"/><circle cx="559.9" cy="356.2" r="2.5"/><circle cx="560" cy="356" r="2.5"/><circle cx="560.2" cy="356.6" r="2.5"/><circle cx="560.4" cy="355.9" r="2.5"/><circle cx="560.6" cy="355.9" r="2.5"/><circle cx="560.8" cy="355.8" r="2.5"/><circle cx="560.9" cy="355.1" r="2.5"/><circle cx="561.1" cy="356.5" r="2.5"/><circle cx="561.3" cy="355.5" r="2.5"/><circle cx="561.5" cy="355.8" r="2.5"/><circle cx="561.7" cy="355.7" r="2.5"/><circle cx="561.8" cy="356.4" r="2.5"/><circle cx="562" cy="356" r="2.5"/><circle cx="562.2" cy="356.1" r="2.5"/><circle cx="562.4" cy="355.3" r="2.5"/><circle cx="562.6" cy="356" r="2.5"/><circle cx="562.7" cy="355.4" r="2.5"/><circle cx="562.9" cy="356.2" r="2.5"/><circle cx="563.1" cy="356.2" r="2.5"/><circle cx="563.3" cy="356" r="2.5"/><circle cx="563.4" cy="357" r="2.5"/><circle cx="563.6" cy="356.3" r="2.5"/><circle cx="563.8" cy="356.3" r="2.5"/><circle cx="564" cy="356.1" r="2.5"/><circle cx="564.2" cy="356" r="2.5"/><circle cx="564.3" cy="356.5" r="2.5"/><circle cx="564.5" cy="356.6" r="2.5"/><circle cx="564.7" cy="355.4" r="2.5"/><circle cx="564.9" cy="356.5" r="2.5"/><circle cx="565.1" cy="356.3" r="2.5"/><circle cx="565.2" cy="355.6" r="2.5"/><circle cx="565.4" cy="356.3" r="2.5"/><circle cx="565.6" cy="355.5" r="2.5"/><circle cx="565.8" cy="356.8" r="2.5"/><circle cx="566" cy="356.9" r="2.5"/><circle cx="566.1" cy="356.2" r="2.5"/><circle cx="566.3" cy="355.4" r="2.5"/><circle cx="566.5" cy="356.2" r="2.5"/><circle cx="566.7" cy="355.9" r="2.5"/><circle cx="566.8" cy="355.2" r="2.5"/><circle cx="567" cy="355" r="2.5"/><circle cx="567.2" cy="355.3" r="2.5"/><circle cx="567.4" cy="356.2" r="2.5"/><circle cx="567.6" cy="356" r="2.5"/><circle cx="567.7" cy="355.9" r="2.5"/><circle cx="567.9" cy="356.2" r="2.5"/><circle cx="568.1" cy="356.3" r="2.5"/><circle cx="568.3" cy="355" r="2.5"/><circle cx="568.5" cy="355.9" r="2.5"/><circle cx="568.6" cy="355.6" r="2.5"/><circle cx="568.8" cy="355.5" r="2.5"/><circle cx="569" cy="355.8" r="2.5"/><circle cx="569.2" cy="356" r="2.5"/><circle cx="569.4" cy="355.9" r="2.5"/><circle cx="569.5" cy="355.3" r="2.5"/><circle cx="569.7" cy="355.8" r="2.5"/><circle cx="569.9" cy="357" r="2.5"/><circle cx="570.1" cy="355.5" r="2.5"/><circle cx="570.2" cy="355.2" r="2.5"/><circle cx="570.4" cy="356.1" r="2.5"/><circle cx="570.6" cy="356.6" r="2.5"/><circle cx="570.8" cy="356.2" r="2.5"/><circle cx="571" cy="354.1" r="2.5"/><circle cx="571.1" cy="356.5" r="2.5"/><circle cx="571.3" cy="355.5" r="2.5"/><circle cx="571.5" cy="355.5" r="2.5"/><circle cx="571.7" cy="355.7" r="2.5"/><circle cx="571.9" cy="355.2" r="2.5"/><circle cx="572" cy="356.3" r="2.5"/><circle cx="572.2" cy="356.3" r="2.5"/><circle cx="572.4" cy="356" r="2.5"/><circle cx="572.6" cy="356.4" r="2.5"/><circle cx="572.7" cy="356" r="2.5"/><circle cx="572.9" cy="356.4" r="2.5"/><circle cx="573.1" cy="355.3" r="2.5"/><circle cx="573.3" cy="355.2" r="2.5"/><circle cx="573.5" cy="356.3" r="2.5"/><circle cx="573.6" cy="355.3" r="2.5"/><circle cx="573.8" cy="355.8" r="2.5"/><circle cx="574" cy="355.9" r="2.5"/><circle cx="574.2" cy="355.7" r="2.5"/><circle cx="574.4" cy="355.7" r="2.5"/><circle cx="574.5" cy="356.6" r="2.5"/><circle cx="574.7" cy="354.7" r="2.5"/><circle cx="574.9" cy="356.3" r="2.5"/><circle cx="575.1" cy="357" r="2.5"/><circle cx="575.3" cy="355.8" r="2.5"/><circle cx="575.4" cy="355.8" r="2.5"/><circle cx="575.6" cy="356.2" r="2.5"/><circle cx="575.8" cy="356.7" r="2.5"/><circle cx="576" cy="355.2" r="2.5"/><circle cx="576.1" cy="355.8" r="2.5"/><circle cx="576.3" cy="355.6" r="2.5"/><circle cx="576.5" cy="355.9" r="2.5"/><circle cx="576.7" cy="355.7" r="2.5"/><circle cx="576.9" cy="355.9" r="2.5"/><circle cx="577" cy="355.3" r="2.5"/><circle cx="577.2" cy="355.5" r="2.5"/><circle cx="577.4" cy="355.1" r="2.5"/><circle cx="577.6" cy="355" r="2.5"/><circle cx="577.8" cy="355.1" r="2.5"/><circle cx="577.9" cy="355" r="2.5"/><circle cx="578.1" cy="354.2" r="2.5"/><circle cx="578.3" cy="355.5" r="2.5"/><circle cx="578.5" cy="354.3" r="2.5"/><circle cx="578.7" cy="353.2" r="2.5"/><circle cx="578.8" cy="354.1" r="2.5"/><circle cx="579" cy="352.5" r="2.5"/><circle cx="579.2" cy="352.6" r="2.5"/><circle cx="579.4" cy="351.5" r="2.5"/><circle cx="579.5" cy="350.8" r="2.5"/><circle cx="579.7" cy="349.9" r="2.5"/><circle cx="579.9" cy="348.6" r="2.5"/><circle cx="580.1" cy="348.2" r="2.5"/><circle cx="580.3" cy="349.1" r="2.5"/><circle cx="580.4" cy="346.1" r="2.5"/><circle cx="580.6" cy="347.9" r="2.5"/><circle cx="580.8" cy="348.7" r="2.5"/><circle cx="581" cy="348.5" r="2.5"/><circle cx="581.2" cy="349.2" r="2.5"/><circle cx="581.3" cy="352.2" r="2.5"/><circle cx="581.5" cy="351.5" r="2.5"/><circle cx="581.7" cy="353.7" r="2.5"/><circle cx="581.9" cy="353.4" r="2.5"/><circle cx="582.1" cy="353.7" r="2.5"/><circle cx="582.2" cy="354.3" r="2.5"/><circle cx="582.4" cy="354.8" r="2.5"/><circle cx="582.6" cy="355.3" r="2.5"/><circle cx="582.8" cy="355.1" r="2.5"/><circle cx="582.9" cy="355.2" r="2.5"/><circle cx="583.1" cy="355.3" r="2.5"/><circle cx="583.3" cy="356" r="2.5"/><circle cx="583.5" cy="355.8" r="2.5"/><circle cx="583.7" cy="355" r="2.5"/><circle cx="583.8" cy="355.2" r="2.5"/><circle cx="584" cy="355" r="2.5"/><circle cx="584.2" cy="355.3" r="2.5"/><circle cx="584.4" cy="355.5" r="2.5"/><circle cx="584.6" cy="355.2" r="2.5"/><circle cx="584.7" cy="355.6" r="2.5"/><circle cx="584.9" cy="356.1" r="2.5"/><circle cx="585.1" cy="356.3" r="2.5"/><circle cx="585.3" cy="355.8" r="2.5"/><circle cx="585.5" cy="356.8" r="2.5"/><circle cx="585.6" cy="355.8" r="2.5"/><circle cx="585.8" cy="357.4" r="2.5"/><circle cx="586" cy="356.4" r="2.5"/><circle cx="586.2" cy="356.1" r="2.5"/><circle cx="586.3" cy="357.1" r="2.5"/><circle cx="586.5" cy="354.5" r="2.5"/><circle cx="586.7" cy="355.8" r="2.5"/><circle cx="586.9" cy="356" r="2.5"/><circle cx="587.1" cy="356.9" r="2.5"/><circle cx="587.2" cy="355.3" r="2.5"/><circle cx="587.4" cy="356.9" r="2.5"/><circle cx="587.6" cy="355.8" r="2.5"/><circle cx="587.8" cy="356.3" r="2.5"/><circle cx="588" cy="354.8" r="2.5"/><circle cx="588.1" cy="356" r="2.5"/><circle cx="588.3" cy="355.8" r="2.5"/><circle cx="588.5" cy="356.3" r="2.5"/><circle cx="588.7" cy="356" r="2.5"/><circle cx="588.9" cy="355.5" r="2.5"/><circle cx="589" cy="356.4" r="2.5"/><circle cx="589.2" cy="355.9" r="2.5"/><circle cx="589.4" cy="356.3" r="2.5"/><circle cx="589.6" cy="356.5" r="2.5"/><circle cx="589.7" cy="356.5" r="2.5"/><circle cx="589.9" cy="356" r="2.5"/><circle cx="590.1" cy="355.4" r="2.5"/><circle cx="590.3" cy="355.5" r="2.5"/><circle cx="590.5" cy="356.7" r="2.5"/><circle cx="590.6" cy="356.4" r="2.5"/><circle cx="590.8" cy="356.1" r="2.5"/><circle cx="591" cy="355.8" r="2.5"/><circle cx="591.2" cy="356" r="2.5"/><circle cx="591.4" cy="356" r="2.5"/><circle cx="591.5" cy="355.9" r="2.5"/><circle cx="591.7" cy="355.7" r="2.5"/><circle cx="591.9" cy="357" r="2.5"/><circle cx="592.1" cy="356.1" r="2.5"/><circle cx="592.3" cy="353.7" r="2.5"/><circle cx="592.4" cy="355.4" r="2.5"/><circle cx="592.6" cy="355.7" r="2.5"/><circle cx="592.8" cy="356.4" r="2.5"/><circle cx="593" cy="356.4" r="2.5"/><circle cx="593.1" cy="355.9" r="2.5"/><circle cx="593.3" cy="356.1" r="2.5"/><circle cx="593.5" cy="355.9" r="2.5"/><circle cx="593.7" cy="355.5" r="2.5"/><circle cx="593.9" cy="356.7" r="2.5"/><circle cx="594" cy="356.2" r="2.5"/><circle cx="594.2" cy="357.2" r="2.5"/><circle cx="594.4" cy="355.8" r="2.5"/><circle cx="594.6" cy="356" r="2.5"/><circle cx="594.8" cy="356.5" r="2.5"/><circle cx="594.9" cy="355.9" r="2.5"/><circle cx="595.1" cy="355.4" r="2.5"/><circle cx="595.3" cy="355.6" r="2.5"/><circle cx="595.5" cy="356.1" r="2.5"/><circle cx="595.7" cy="356.2" r="2.5"/><circle cx="595.8" cy="356" r="2.5"/><circle cx="596" cy="356.5" r="2.5"/><circle cx="596.2" cy="356.5" r="2.5"/><circle cx="596.4" cy="356.2" r="2.5"/><circle cx="596.5" cy="356.1" r="2.5"/><circle cx="596.7" cy="357.5" r="2.5"/><circle cx="596.9" cy="356.3" r="2.5"/><circle cx="597.1" cy="356.5" r="2.5"/><circle cx="597.3" cy="356.1" r="2.5"/><circle cx="597.4" cy="356.3" r="2.5"/><circle cx="597.6" cy="355.9" r="2.5"/><circle cx="597.8" cy="355.4" r="2.5"/><circle cx="598" cy="355.6" r="2.5"/><circle cx="598.2" cy="356.4" r="2.5"/><circle cx="598.3" cy="356.3" r="2.5"/><circle cx="598.5" cy="356.8" r="2.5"/><circle cx="598.7" cy="356.1" r="2.5"/><circle cx="598.9" cy="356.5" r="2.5"/><circle cx="599" cy="356.7" r="2.5"/><circle cx="599.2" cy="356.5" r="2.5"/><circle cx="599.4" cy="355.8" r="2.5"/><circle cx="599.6" cy="357.1" r="2.5"/><circle cx="599.8" cy="356.1" r="2.5"/><circle cx="599.9" cy="355.6" r="2.5"/><circle cx="600.1" cy="356.3" r="2.5"/><circle cx="600.3" cy="356.5" r="2.5"/><circle cx="600.5" cy="355.9" r="2.5"/><circle cx="600.7" cy="357" r="2.5"/><circle cx="600.8" cy="355.9" r="2.5"/><circle cx="601" cy="356" r="2.5"/><circle cx="601.2" cy="356.6" r="2.5"/><circle cx="601.4" cy="355.7" r="2.5"/><circle cx="601.6" cy="356.3" r="2.5"/><circle cx="601.7" cy="355.3" r="2.5"/><circle cx="601.9" cy="356.8" r="2.5"/><circle cx="602.1" cy="356.4" r="2.5"/><circle cx="602.3" cy="356.3" r="2.5"/><circle cx="602.4" cy="356" r="2.5"/><circle cx="602.6" cy="355.4" r="2.5"/><circle cx="602.8" cy="356" r="2.5"/><circle cx="603" cy="355.7" r="2.5"/><circle cx="603.2" cy="356.5" r="2.5"/><circle cx="603.3" cy="356.1" r="2.5"/><circle cx="603.5" cy="356.8" r="2.5"/><circle cx="603.7" cy="356.4" r="2.5"/><circle cx="603.9" cy="356.5" r="2.5"/><circle cx="604.1" cy="356.2" r="2.5"/><circle cx="604.2" cy="356.2" r="2.5"/><circle cx="604.4" cy="356.4" r="2.5"/><circle cx="604.6" cy="356.5" r="2.5"/><circle cx="604.8" cy="355.8" r="2.5"/><circle cx="605" cy="356.3" r="2.5"/><circle cx="605.1" cy="357.3" r="2.5"/><circle cx="605.3" cy="356" r="2.5"/><circle cx="605.5" cy="356" r="2.5"/><circle cx="605.7" cy="355.8" r="2.5"/><circle cx="605.8" cy="355.4" r="2.5"/><circle cx="606" cy="356.6" r="2.5"/><circle cx="606.2" cy="356.1" r="2.5"/><circle cx="606.4" cy="356.2" r="2.5"/><circle cx="606.6" cy="356.9" r="2.5"/><circle cx="606.7" cy="357.2" r="2.5"/><circle cx="606.9" cy="355.7" r="2.5"/><circle cx="607.1" cy="356.6" r="2.5"/><circle cx="607.3" cy="356.4" r="2.5"/><circle cx="607.5" cy="356.3" r="2.5"/><circle cx="607.6" cy="356.3" r="2.5"/><circle cx="607.8" cy="356.1" r="2.5"/><circle cx="608" cy="356.8" r="2.5"/><circle cx="608.2" cy="356.4" r="2.5"/><circle cx="608.4" cy="356.2" r="2.5"/><circle cx="608.5" cy="356.7" r="2.5"/><circle cx="608.7" cy="355.1" r="2.5"/><circle cx="608.9" cy="356.3" r="2.5"/><circle cx="609.1" cy="356.2" r="2.5"/><circle cx="609.2" cy="356.9" r="2.5"/><circle cx="609.4" cy="356.3" r="2.5"/><circle cx="609.6" cy="356" r="2.5"/><circle cx="609.8" cy="355.5" r="2.5"/><circle cx="610" cy="355.9" r="2.5"/><circle cx="610.1" cy="355.6" r="2.5"/><circle cx="610.3" cy="356.1" r="2.5"/><circle cx="610.5" cy="356.2" r="2.5"/><circle cx="610.7" cy="355.1" r="2.5"/><circle cx="610.9" cy="356.1" r="2.5"/><circle cx="611" cy="356.4" r="2.5"/><circle cx="611.2" cy="356.2" r="2.5"/><circle cx="611.4" cy="355.6" r="2.5"/><circle cx="611.6" cy="356.7" r="2.5"/><circle cx="611.8" cy="355.8" r="2.5"/><circle cx="611.9" cy="355.5" r="2.5"/><circle cx="612.1" cy="355.6" r="2.5"/><circle cx="612.3" cy="356.1" r="2.5"/><circle cx="612.5" cy="356.5" r="2.5"/></g>
<polyline fill="none" stroke="rgb(240,0,0)" stroke-opacity="0.63" stroke-width="1.1" stroke-linejoin="round" points="33.7,356.4 34.2,356.4 34.8,356.4 35.3,356.4 35.8,356.4 36.3,356.4 36.9,356.4 37.4,356.4 37.9,356.4 38.4,356.4 39,356.4 39.5,356.4 40,356.4 40.5,356.4 41.1,356.4 41.6,356.4 42.1,356.4 42.6,356.4 43.2,356.4 43.7,356.4 44.2,356.4 44.8,356.4 45.3,356.4 45.8,356.4 46.3,356.4 46.9,356.4 47.4,356.4 47.9,356.4 48.4,356.4 49,356.4 49.5,356.4 50,356.4 50.5,356.4 51.1,356.4 51.6,356.4 52.1,356.4 52.6,356.4 53.2,356.3 53.7,356.3 54.2,356.3 54.7,356.3 55.3,356.3 55.8,356.3 56.3,356.3 56.9,356.3 57.4,356.3 57.9,356.3 58.4,356.3 59,356.3 59.5,356.3 60,356.3 60.5,356.3 61.1,356.3 61.6,356.3 62.1,356.3 62.6,356.3 63.2,356.3 63.7,356.3 64.2,356.3 64.7,356.3 65.3,356.3 65.8,356.3 66.3,356.3 66.9,356.3 67.4,356.3 67.9,356.3 68.4,356.3 69,356.3 69.5,356.3 70,356.3 70.5,356.3 71.1,356.3 71.6,356.3 72.1,356.3 72.6,356.3 73.2,356.3 73.7,356.3 74.2,356.3 74.7,356.3 75.3,356.3 75.8,356.3 76.3,356.3 76.8,356.3 77.4,356.3 77.9,356.3 78.4,356.3 79,356.2 79.5,356.2 80,356.2 80.5,356.2 81.1,356.2 81.6,356.2 82.1,356.2 82.6,356.2 83.2,356.2 83.7,356.2 84.2,356.2 84.7,356.2 85.3,356.2 85.8,356.1 86.3,356.1 86.8,356.1 87.4,356.1 87.9,356.1 88.4,356.1 89,356 89.5,356 90,356 90.5,356 91.1,355.9 91.6,355.9 92.1,355.9 92.6,355.8 93.2,355.8 93.7,355.7 94.2,355.7 94.7,355.6 95.3,355.5 95.8,355.4 96.3,355.3 96.4,355.3 96.4,355.3 96.5,355.3 96.5,355.3 96.6,355.3 96.6,355.2 96.7,355.2 96.7,355.2 96.8,355.2 96.8,355.2 96.9,355.2 96.9,355.2 97,355.1 97.1,355.1 97.1,355.1 97.2,355.1 97.2,355.1 97.3,355.1 97.3,355 97.4,355 97.4,355 97.5,355 97.5,355 97.6,355 97.6,354.9 97.7,354.9 97.7,354.9 97.8,354.9 97.8,354.9 97.9,354.8 97.9,354.8 98,354.8 98.1,354.8 98.1,354.7 98.2,354.7 98.2,354.7 98.3,354.7 98.3,354.6 98.4,354.6 98.4,354.6 98.5,354.6 98.5,354.5 98.6,354.5 98.6,354.5 98.7,354.4 98.7,354.4 98.8,354.4 98.8,354.3 98.9,354.3 98.9,354.3 99,354.2 99.1,354.2 99.1,354.2 99.2,354.1 99.2,354.1 99.3,354 99.3,354 99.4,354 99.4,353.9 99.5,353.9 99.5,353.8 99.6,353.8 99.6,353.7 99.7,353.7 99.7,353.6 99.8,353.6 99.8,353.5 99.9,353.4 99.9,353.4 100,353.3 100.1,353.3 100.1,353.2 100.2,353.1 100.2,353.1 100.3,353 100.3,352.9 100.4,352.8 100.4,352.8 100.5,352.7 100.5,352.6 100.6,352.5 100.6,352.4 100.7,352.3 100.7,352.2 100.8,352.1 100.8,352 100.9,351.9 100.9,351.8 101,351.7 101.1,351.6 101.1,351.4 101.2,351.3 101.2,351.2 101.3,351 101.3,350.9 101.4,350.7 101.4,350.6 101.5,350.4 101.5,350.2 101.6,350 101.6,349.8 101.7,349.6 101.7,349.4 101.8,349.2 101.8,349 101.9,348.7 101.9,348.5 102,348.2 102.1,347.9 102.1,347.7 102.2,347.3 102.2,347 102.3,346.7 102.3,346.3 102.4,345.9 102.4,345.5 102.5,345.1 102.5,344.6 102.6,344.1 102.6,343.6 102.7,343 102.7,342.4 102.8,341.8 102.8,341.1 102.9,340.3 102.9,339.4 103,338.5 103.1,337.5 103.1,336.4 103.2,335.1 103.2,333.7 103.3,332.2 103.3,330.5 103.4,328.6 103.4,326.5 103.5,324.1 103.5,321.5 103.6,318.6 103.6,315.3 103.7,311.8 103.7,307.8 103.8,303.4 103.8,298.6 103.9,293.3 103.9,287.6 104,281.4 104.1,274.7 104.1,267.6 104.2,259.9 104.2,251.8 104.3,243.3 104.3,234.4 104.4,225.2 104.4,215.8 104.5,206.3 104.5,196.9 104.6,187.7 104.6,179 104.7,171 104.7,164 104.8,158.2 104.8,153.9 104.9,151.2 104.9,150.3 105,151.2 105.1,153.9 105.1,158.2 105.2,164 105.2,171 105.3,179 105.3,187.7 105.4,196.9 105.4,206.3 105.5,215.8 105.5,225.2 105.6,234.4 105.6,243.3 105.7,251.8 105.7,259.9 105.8,267.6 105.8,274.7 105.9,281.4 105.9,287.6 106,293.3 106.1,298.6 106.1,303.4 106.2,307.8 106.2,311.7 106.3,315.3 106.3,318.6 106.4,321.5 106.4,324.1 106.5,326.5 106.5,328.6 106.6,330.5 106.6,332.2 106.7,333.7 106.7,335.1 106.8,336.3 106.8,337.5 106.9,338.5 106.9,339.4 107,340.2 107.1,341 107.1,341.7 107.2,342.4 107.2,343 107.3,343.6 107.3,344.1 107.4,344.6 107.4,345 107.5,345.5 107.5,345.9 107.6,346.3 107.6,346.6 107.7,347 107.7,347.3 107.8,347.6 107.8,347.9 107.9,348.2 107.9,348.4 108,348.7 108.1,348.9 108.1,349.2 108.2,349.4 108.2,349.6 108.3,349.8 108.3,350 108.4,350.2 108.4,350.3 108.5,350.5 108.5,350.7 108.6,350.8 108.6,351 108.7,351.1 108.7,351.2 108.8,351.4 108.8,351.5 108.9,351.6 108.9,351.7 109,351.8 109.1,352 109.1,352.1 109.2,352.2 109.2,352.3 109.3,352.3 109.3,352.4 109.4,352.5 109.4,352.6 109.5,352.7 109.5,352.8 109.6,352.8 109.6,352.9 109.7,353 109.7,353.1 109.8,353.1 109.8,353.2 109.9,353.2 109.9,353.3 110,353.4 110.1,353.4 110.1,353.5 110.2,353.5 110.2,353.6 110.3,353.6 110.3,353.7 110.4,353.7 110.4,353.8 110.5,353.8 110.5,353.9 110.6,353.9 110.6,353.9 110.7,354 110.7,354 110.8,354.1 110.8,354.1 110.9,354.1 110.9,354.2 111,354.2 111.1,354.2 111.1,354.3 111.2,354.3 111.2,354.3 111.3,354.4 111.3,354.4 111.4,354.4 111.4,354.4 111.5,354.5 111.5,354.5 111.6,354.5 111.6,354.6 111.7,354.6 111.7,354.6 111.8,354.6 111.8,354.6 111.9,354.7 111.9,354.7 112,354.7 112.1,354.7 112.1,354.8 112.2,354.8 112.2,354.8 112.3,354.8 112.3,354.8 112.4,354.8 112.4,354.9 112.5,354.9 112.5,354.9 112.6,354.9 112.6,354.9 112.7,354.9 112.7,355 112.8,355 112.8,355 112.9,355 112.9,355 113,355 113.1,355.1 113.1,355.1 113.2,355.1 113.2,355.1 113.3,355.1 113.3,355.1 113.4,355.1 113.4,355.1 113.5,355.2 113.5,355.2 113.6,355.2 113.7,355.2 114.2,355.3 114.7,355.4 115.3,355.4 115.8,355.5 116.3,355.5 116.8,355.6 117.4,355.6 117.9,355.6 118.4,355.6 118.9,355.6 119.5,355.6 120,355.6 120.5,355.6 121,355.6 121.6,355.6 122.1,355.5 122.6,355.5 123.2,355.4 123.7,355.4 124.2,355.3 124.7,355.2 125.3,355.1 125.8,354.9 126.3,354.8 126.6,354.7 126.6,354.6 126.7,354.6 126.7,354.6 126.8,354.6 126.8,354.5 126.9,354.5 126.9,354.5 127,354.5 127,354.4 127.1,354.4 127.2,354.4 127.2,354.3 127.3,354.3 127.3,354.3 127.4,354.2 127.4,354.2 127.5,354.2 127.5,354.1 127.6,354.1 127.6,354 127.7,354 127.7,354 127.8,353.9 127.8,353.9 127.9,353.8 127.9,353.8 128,353.7 128,353.7 128.1,353.6 128.2,353.6 128.2,353.5 128.3,353.5 128.3,353.4 128.4,353.4 128.4,353.3 128.5,353.2 128.5,353.2 128.6,353.1 128.6,353 128.7,352.9 128.7,352.9 128.8,352.8 128.8,352.7 128.9,352.6 128.9,352.5 129,352.4 129,352.3 129.1,352.2 129.2,352.1 129.2,352 129.3,351.9 129.3,351.8 129.4,351.6 129.4,351.5 129.5,351.4 129.5,351.2 129.6,351.1 129.6,350.9 129.7,350.8 129.7,350.6 129.8,350.4 129.8,350.2 129.9,350 129.9,349.8 130,349.6 130,349.4 130.1,349.1 130.2,348.9 130.2,348.6 130.3,348.3 130.3,348 130.4,347.7 130.4,347.4 130.5,347 130.5,346.6 130.6,346.2 130.6,345.7 130.7,345.2 130.7,344.7 130.8,344.1 130.8,343.5 130.9,342.8 130.9,342 131,341.2 131,340.2 131.1,339.2 131.2,338 131.2,336.7 131.3,335.3 131.3,333.7 131.4,332 131.4,330 131.5,327.9 131.5,325.5 131.6,322.8 131.6,319.9 131.7,316.7 131.7,313.2 131.8,309.4 131.8,305.3 131.9,300.8 131.9,296 132,290.9 132,285.4 132.1,279.7 132.2,273.6 132.2,267.4 132.3,260.9 132.3,254.3 132.4,247.7 132.4,241.1 132.5,234.8 132.5,228.8 132.6,223.2 132.6,218.4 132.7,214.4 132.7,211.4 132.8,209.6 132.8,209 132.9,209.6 132.9,211.4 133,214.4 133,218.4 133.1,223.2 133.2,228.7 133.2,234.8 133.3,241.1 133.3,247.7 133.4,254.3 133.4,260.9 133.5,267.3 133.5,273.6 133.6,279.6 133.6,285.4 133.7,290.8 133.7,296 133.8,300.8 133.8,305.2 133.9,309.4 133.9,313.2 134,316.7 134,319.9 134.1,322.8 134.2,325.4 134.2,327.8 134.3,330 134.3,331.9 134.4,333.7 134.4,335.2 134.5,336.7 134.5,337.9 134.6,339.1 134.6,340.1 134.7,341.1 134.7,341.9 134.8,342.7 134.8,343.4 134.9,344 134.9,344.6 135,345.1 135,345.6 135.1,346 135.2,346.5 135.2,346.9 135.3,347.2 135.3,347.6 135.4,347.9 135.4,348.2 135.5,348.5 135.5,348.7 135.6,349 135.6,349.2 135.7,349.5 135.7,349.7 135.8,349.9 135.8,350.1 135.9,350.3 135.9,350.4 136,350.6 136,350.8 136.1,350.9 136.2,351.1 136.2,351.2 136.3,351.3 136.3,351.4 136.4,351.6 136.4,351.7 136.5,351.8 136.5,351.9 136.6,352 136.6,352.1 136.7,352.2 136.7,352.3 136.8,352.4 136.8,352.5 136.9,352.5 136.9,352.6 137,352.7 137,352.8 137.1,352.8 137.2,352.9 137.2,353 137.3,353 137.3,353.1 137.4,353.1 137.4,353.2 137.5,353.2 137.5,353.3 137.6,353.3 137.6,353.4 137.7,353.4 137.7,353.5 137.8,353.5 137.8,353.6 137.9,353.6 137.9,353.6 138,353.7 138,353.7 138.1,353.8 138.2,353.8 138.2,353.8 138.3,353.8 138.3,353.9 138.4,353.9 138.4,353.9 138.5,354 138.5,354 138.6,354 138.6,354 138.7,354.1 138.7,354.1 138.8,354.1 138.8,354.1 138.9,354.2 138.9,354.2 139,354.2 139,354.2 139.1,354.2 139.2,354.2 139.2,354.3 139.3,354.3 139.3,354.3 139.4,354.3 139.4,354.3 139.5,354.3 139.5,354.3 139.6,354.4 139.6,354.4 139.7,354.4 139.7,354.4 139.8,354.4 139.8,354.4 139.9,354.4 139.9,354.4 140,354.4 140,354.5 140.1,354.5 140.2,354.5 140.2,354.5 140.3,354.5 140.3,354.5 140.4,354.5 140.4,354.5 140.5,354.5 140.5,354.5 140.6,354.5 140.6,354.5 140.7,354.5 140.7,354.5 140.8,354.5 140.8,354.5 140.9,354.5 140.9,354.5 141,354.5 141,354.5 141.1,354.5 141.2,354.5 141.2,354.5 141.3,354.5 141.3,354.5 141.4,354.5 141.4,354.5 141.5,354.5 141.5,354.5 141.6,354.5 141.6,354.5 141.7,354.5 141.7,354.5 141.8,354.5 141.8,354.5 141.9,354.5 141.9,354.5 142,354.5 142,354.5 142.1,354.5 142.1,354.5 142.2,354.5 142.3,354.5 142.3,354.5 142.4,354.5 142.4,354.5 142.5,354.5 142.5,354.5 142.6,354.5 142.6,354.4 142.7,354.4 142.7,354.4 142.8,354.4 142.8,354.4 142.9,354.4 142.9,354.4 143,354.4 143,354.4 143.1,354.4 143.1,354.3 143.2,354.3 143.3,354.3 143.3,354.3 143.4,354.3 143.4,354.3 143.5,354.3 143.5,354.3 143.6,354.2 143.6,354.2 143.7,354.2 143.7,354.2 143.8,354.2 143.8,354.2 143.9,354.1 143.9,354.1 144,354.1 144,354.1 144.1,354.1 144.1,354 144.2,354 144.3,354 144.3,354 144.4,354 144.4,353.9 144.5,353.9 144.5,353.9 144.6,353.9 144.6,353.8 144.7,353.8 144.7,353.8 144.8,353.8 144.8,353.7 144.9,353.7 144.9,353.7 145,353.6 145,353.6 145.1,353.6 145.1,353.6 145.2,353.5 145.3,353.5 145.3,353.5 145.4,353.4 145.4,353.4 145.5,353.3 145.5,353.3 145.6,353.3 145.6,353.2 145.7,353.2 145.7,353.1 145.8,353.1 145.8,353.1 145.9,353 145.9,353 146,352.9 146,352.9 146.1,352.8 146.1,352.8 146.2,352.7 146.3,352.6 146.3,352.6 146.4,352.5 146.4,352.5 146.5,352.4 146.5,352.3 146.6,352.3 146.6,352.2 146.7,352.1 146.7,352.1 146.8,352 146.8,351.9 146.9,351.8 146.9,351.8 147,351.7 147,351.6 147.1,351.5 147.1,351.4 147.2,351.3 147.3,351.2 147.3,351.1 147.4,351 147.4,350.9 147.5,350.8 147.5,350.7 147.6,350.5 147.6,350.4 147.7,350.3 147.7,350.2 147.8,350 147.8,349.9 147.9,349.7 147.9,349.6 148,349.4 148,349.3 148.1,349.1 148.1,348.9 148.2,348.7 148.3,348.6 148.3,348.4 148.4,348.2 148.4,347.9 148.5,347.7 148.5,347.5 148.6,347.3 148.6,347 148.7,346.7 148.7,346.5 148.8,346.2 148.8,345.9 148.9,345.6 148.9,345.3 149,344.9 149,344.6 149.1,344.2 149.1,343.8 149.2,343.4 149.3,343 149.3,342.5 149.4,342 149.4,341.5 149.5,341 149.5,340.4 149.6,339.9 149.6,339.2 149.7,338.6 149.7,337.9 149.8,337.1 149.8,336.3 149.9,335.4 149.9,334.5 150,333.5 150,332.4 150.1,331.2 150.1,329.9 150.2,328.5 150.3,326.9 150.3,325.2 150.4,323.4 150.4,321.3 150.5,319 150.5,316.4 150.6,313.6 150.6,310.5 150.7,307 150.7,303.1 150.8,298.8 150.8,294.1 150.9,288.8 150.9,283.1 151,276.7 151,269.8 151.1,262.2 151.1,254 151.2,245 151.3,235.4 151.3,225.1 151.4,214.2 151.4,202.5 151.5,190.3 151.5,177.4 151.6,164.1 151.6,150.4 151.7,136.5 151.7,122.6 151.8,108.8 151.8,95.4 151.9,82.8 151.9,71.3 152,61.2 152,52.9 152.1,46.7 152.1,42.9 152.2,41.6 152.3,42.9 152.3,46.7 152.4,52.9 152.4,61.2 152.5,71.3 152.5,82.8 152.6,95.4 152.6,108.8 152.7,122.6 152.7,136.5 152.8,150.5 152.8,164.1 152.9,177.5 152.9,190.3 153,202.6 153,214.2 153.1,225.2 153.1,235.5 153.2,245.1 153.3,254 153.3,262.2 153.4,269.8 153.4,276.8 153.5,283.1 153.5,288.9 153.6,294.1 153.6,298.9 153.7,303.2 153.7,307 153.8,310.5 153.8,313.7 153.9,316.5 153.9,319 154,321.3 154,323.4 154.1,325.3 154.1,327 154.2,328.6 154.3,330 154.3,331.3 154.4,332.5 154.4,333.5 154.5,334.6 154.5,335.5 154.6,336.4 154.6,337.2 154.7,337.9 154.7,338.6 154.8,339.3 154.8,339.9 154.9,340.5 154.9,341.1 155,341.6 155,342.1 155.1,342.6 155.1,343.1 155.2,343.5 155.3,343.9 155.3,344.3 155.4,344.7 155.4,345 155.5,345.4 155.5,345.7 155.6,346 155.6,346.3 155.7,346.6 155.7,346.9 155.8,347.1 155.8,347.4 155.9,347.6 155.9,347.9 156,348.1 156,348.3 156.1,348.5 156.1,348.7 156.2,348.9 156.3,349.1 156.3,349.3 156.4,349.4 156.4,349.6 156.5,349.7 156.5,349.9 156.6,350.1 156.6,350.2 156.7,350.3 156.7,350.5 156.8,350.6 156.8,350.7 156.9,350.8 156.9,351 157,351.1 157,351.2 157.1,351.3 157.1,351.4 157.2,351.5 157.3,351.6 157.3,351.7 157.4,351.8 157.4,351.9 157.5,352 157.5,352 157.6,352.1 157.6,352.2 157.7,352.3 157.7,352.3 157.8,352.4 157.8,352.5 157.9,352.6 157.9,352.6 158,352.7 158,352.8 158.1,352.8 158.1,352.9 158.2,352.9 158.3,353 158.3,353.1 158.4,353.1 158.4,353.2 158.5,353.2 158.5,353.3 158.6,353.3 158.6,353.4 158.7,353.4 158.7,353.5 158.8,353.5 158.8,353.5 158.9,353.6 158.9,353.6 159,353.7 159,353.7 159.1,353.7 159.1,353.8 159.2,353.8 159.3,353.9 159.3,353.9 159.4,353.9 159.4,354 159.5,354 159.5,354 159.6,354.1 159.6,354.1 159.7,354.1 159.7,354.2 159.8,354.2 159.8,354.2 159.9,354.2 159.9,354.3 160,354.3 160,354.3 160.1,354.4 160.1,354.4 160.2,354.4 160.3,354.4 160.3,354.5 160.4,354.5 160.4,354.5 160.5,354.5 160.5,354.5 160.6,354.6 160.6,354.6 160.7,354.6 160.7,354.6 160.8,354.7 160.8,354.7 160.9,354.7 160.9,354.7 161,354.7 161,354.7 161.1,354.8 161.1,354.8 161.2,354.8 161.3,354.8 161.3,354.8 161.4,354.9 161.4,354.9 161.5,354.9 161.5,354.9 161.6,354.9 161.6,354.9 161.7,355 161.7,355 161.8,355 161.8,355 161.9,355 161.9,355 162,355 162,355.1 162.1,355.1 162.1,355.1 162.2,355.1 162.3,355.1 162.3,355.1 162.4,355.1 162.4,355.1 162.5,355.2 162.5,355.2 162.6,355.2 162.6,355.2 162.7,355.2 162.7,355.2 162.8,355.2 162.8,355.2 162.9,355.2 162.9,355.3 163,355.3 163,355.3 163.1,355.3 163.1,355.3 163.2,355.3 163.3,355.3 163.3,355.3 163.4,355.3 163.4,355.3 163.5,355.4 163.5,355.4 163.6,355.4 163.6,355.4 163.7,355.4 163.7,355.4 163.8,355.4 163.8,355.4 163.9,355.4 163.9,355.4 164,355.4 164,355.4 164.1,355.5 164.1,355.5 164.2,355.5 164.3,355.5 164.3,355.5 164.4,355.5 164.4,355.5 164.5,355.5 164.5,355.5 164.6,355.5 164.6,355.5 164.7,355.5 164.7,355.5 164.8,355.5 164.8,355.6 164.9,355.6 164.9,355.6 165,355.6 165,355.6 165.1,355.6 165.1,355.6 165.2,355.6 165.2,355.6 165.3,355.6 165.4,355.6 165.4,355.6 165.8,355.7 166.3,355.7 166.8,355.8 167.4,355.8 167.9,355.8 168.4,355.9 168.9,355.9 169.5,355.9 170,356 170.5,356 171,356 171.6,356 172.1,356 172.6,356.1 173.1,356.1 173.7,356.1 174.2,356.1 174.7,356.1 175.2,356.1 175.8,356.1 176.3,356.1 176.8,356.1 177.4,356.2 177.9,356.2 178.4,356.2 178.9,356.2 179.5,356.2 180,356.2 180.5,356.2 181,356.2 181.6,356.2 182.1,356.2 182.6,356.2 183.1,356.2 183.7,356.2 184.2,356.2 184.7,356.2 185.2,356.2 185.8,356.3 186.3,356.3 186.8,356.3 187.4,356.3 187.9,356.3 188.4,356.3 188.9,356.3 189.5,356.3 190,356.3 190.5,356.3 191,356.3 191.6,356.3 192.1,356.3 192.6,356.3 193.1,356.3 193.7,356.3 194.2,356.3 194.7,356.3 195.2,356.3 195.8,356.3 196.3,356.3 196.8,356.3 197.3,356.3 197.9,356.3 198.4,356.3 198.9,356.3 199.5,356.3 200,356.3 200.5,356.3 201,356.3 201.6,356.3 202.1,356.3 202.6,356.3 203.1,356.3 203.7,356.3 204.2,356.3 204.7,356.3 205.2,356.3 205.8,356.3 206.3,356.3 206.8,356.3 207.3,356.3 207.9,356.3 208.4,356.3 208.9,356.3 209.5,356.3 210,356.3 210.5,356.3 211,356.3 211.6,356.3 212.1,356.3 212.6,356.3 213.1,356.3 213.7,356.3 214.2,356.3 214.7,356.3 215.2,356.3 215.8,356.3 216.3,356.3 216.8,356.3 217.3,356.3 217.9,356.3 218.4,356.3 218.9,356.3 219.4,356.3 220,356.3 220.5,356.3 221,356.3 221.6,356.3 222.1,356.3 222.6,356.3 223.1,356.3 223.7,356.3 224.2,356.3 224.7,356.3 225.2,356.3 225.8,356.3 226.3,356.3 226.8,356.3 227.3,356.3 227.9,356.3 228.4,356.3 228.9,356.3 229.4,356.3 230,356.3 230.5,356.3 231,356.3 231.6,356.3 232.1,356.3 232.6,356.3 233.1,356.3 233.7,356.3 234.2,356.3 234.7,356.3 235.2,356.3 235.8,356.3 236.3,356.3 236.8,356.3 237.3,356.3 237.9,356.3 238.4,356.3 238.9,356.3 239.4,356.3 240,356.3 240.5,356.3 241,356.3 241.5,356.3 242.1,356.3 242.6,356.3 243.1,356.3 243.7,356.3 244.2,356.3 244.7,356.3 245.2,356.3 245.8,356.3 246.3,356.3 246.8,356.3 247.3,356.3 247.9,356.3 248.4,356.3 248.9,356.3 249.4,356.3 250,356.3 250.5,356.3 251,356.3 251.5,356.3 252.1,356.3 252.6,356.3 253.1,356.3 253.7,356.3 254.2,356.3 254.7,356.3 255.2,356.3 255.8,356.3 256.3,356.2 256.8,356.2 257.3,356.2 257.9,356.2 258.4,356.2 258.9,356.2 259.4,356.2 260,356.1 260.5,356.1 261,356.1 261.5,356.1 262.1,356 262.6,356 263.1,355.9 263.6,355.9 264.2,355.8 264.6,355.7 264.7,355.7 264.8,355.7 264.8,355.6 264.9,355.6 264.9,355.6 265,355.6 265,355.6 265.1,355.6 265.1,355.6 265.2,355.6 265.2,355.5 265.3,355.5 265.3,355.5 265.4,355.5 265.4,355.5 265.5,355.5 265.5,355.4 265.6,355.4 265.6,355.4 265.7,355.4 265.8,355.4 265.8,355.3 265.9,355.3 265.9,355.3 266,355.3 266,355.3 266.1,355.2 266.1,355.2 266.2,355.2 266.2,355.2 266.3,355.1 266.3,355.1 266.4,355.1 266.4,355 266.5,355 266.5,355 266.6,354.9 266.6,354.9 266.7,354.9 266.8,354.8 266.8,354.8 266.9,354.8 266.9,354.7 267,354.7 267,354.6 267.1,354.6 267.1,354.5 267.2,354.5 267.2,354.4 267.3,354.4 267.3,354.3 267.4,354.3 267.4,354.2 267.5,354.1 267.5,354.1 267.6,354 267.6,353.9 267.7,353.9 267.8,353.8 267.8,353.7 267.9,353.6 267.9,353.5 268,353.4 268,353.3 268.1,353.2 268.1,353.1 268.2,353 268.2,352.9 268.3,352.7 268.3,352.6 268.4,352.4 268.4,352.3 268.5,352.1 268.5,351.9 268.6,351.7 268.6,351.5 268.7,351.2 268.8,351 268.8,350.7 268.9,350.4 268.9,350.1 269,349.7 269,349.3 269.1,348.8 269.1,348.4 269.2,347.8 269.2,347.2 269.3,346.6 269.3,345.9 269.4,345.1 269.4,344.2 269.5,343.3 269.5,342.3 269.6,341.1 269.6,339.9 269.7,338.6 269.8,337.2 269.8,335.7 269.9,334.1 269.9,332.4 270,330.5 270,328.6 270.1,326.5 270.1,324.4 270.2,322.2 270.2,319.9 270.3,317.6 270.3,315.2 270.4,312.8 270.4,310.5 270.5,308.2 270.5,306 270.6,303.9 270.6,302.1 270.7,300.5 270.8,299.1 270.8,298.2 270.9,297.6 270.9,297.4 271,297.6 271,298.2 271.1,299.1 271.1,300.5 271.2,302.1 271.2,303.9 271.3,306 271.3,308.2 271.4,310.5 271.4,312.8 271.5,315.2 271.5,317.6 271.6,319.9 271.6,322.2 271.7,324.4 271.8,326.5 271.8,328.6 271.9,330.5 271.9,332.4 272,334.1 272,335.7 272.1,337.2 272.1,338.6 272.2,339.9 272.2,341.1 272.3,342.3 272.3,343.3 272.4,344.2 272.4,345.1 272.5,345.9 272.5,346.6 272.6,347.2 272.6,347.8 272.7,348.4 272.8,348.8 272.8,349.3 272.9,349.7 272.9,350.1 273,350.4 273,350.7 273.1,351 273.1,351.2 273.2,351.5 273.2,351.7 273.3,351.9 273.3,352.1 273.4,352.3 273.4,352.4 273.5,352.6 273.5,352.7 273.6,352.9 273.6,353 273.7,353.1 273.8,353.2 273.8,353.3 273.9,353.4 273.9,353.5 274,353.6 274,353.7 274.1,353.8 274.1,353.9 274.2,353.9 274.2,354 274.3,354.1 274.3,354.1 274.4,354.2 274.4,354.3 274.5,354.3 274.5,354.4 274.6,354.4 274.6,354.5 274.7,354.5 274.8,354.6 274.8,354.6 274.9,354.7 274.9,354.7 275,354.8 275,354.8 275.1,354.8 275.1,354.9 275.2,354.9 275.2,354.9 275.3,355 275.3,355 275.4,355 275.4,355.1 275.5,355.1 275.5,355.1 275.6,355.2 275.6,355.2 275.7,355.2 275.8,355.2 275.8,355.3 275.9,355.3 275.9,355.3 276,355.3 276,355.3 276.1,355.4 276.1,355.4 276.2,355.4 276.2,355.4 276.3,355.4 276.3,355.5 276.4,355.5 276.4,355.5 276.5,355.5 276.5,355.5 276.6,355.5 276.6,355.6 276.7,355.6 276.8,355.6 276.8,355.6 276.9,355.6 276.9,355.6 277,355.6 277,355.6 277.1,355.7 277.1,355.7 277.2,355.7 277.2,355.7 277.3,355.7 277.9,355.8 278.4,355.9 278.9,355.9 279.4,356 280,356 280.5,356.1 281,356.1 281.5,356.1 282.1,356.2 282.6,356.2 283.1,356.2 283.6,356.2 284.2,356.2 284.7,356.2 285.2,356.2 285.7,356.3 286.3,356.3 286.8,356.3 287.3,356.3 287.9,356.3 288.4,356.3 288.9,356.3 289.4,356.3 290,356.3 290.5,356.3 291,356.3 291.5,356.3 292.1,356.3 292.6,356.3 293.1,356.3 293.6,356.3 294.2,356.3 294.7,356.3 295.2,356.3 295.7,356.3 296.3,356.3 296.8,356.3 297.3,356.3 297.9,356.3 298.4,356.3 298.9,356.3 299.4,356.3 300,356.3 300.5,356.3 301,356.3 301.5,356.3 302.1,356.3 302.6,356.3 303.1,356.3 303.6,356.3 304.2,356.3 304.7,356.3 305.2,356.3 305.7,356.4 306.3,356.4 306.8,356.4 307.3,356.4 307.9,356.4 308.4,356.4 308.9,356.4 309.4,356.4 310,356.4 310.5,356.4 311,356.4 311.5,356.4 312.1,356.4 312.6,356.4 313.1,356.4 313.6,356.4 314.2,356.4 314.7,356.4 315.2,356.4 315.7,356.4 316.3,356.4 316.8,356.4 317.3,356.4 317.8,356.4 318.4,356.4 318.9,356.4 319.4,356.4 320,356.4 320.5,356.4 321,356.4 321.5,356.4 322.1,356.4 322.6,356.4 323.1,356.4 323.6,356.3 324.2,356.3 324.7,356.3 325.2,356.3 325.7,356.3 326.3,356.3 326.8,356.3 327.3,356.3 327.8,356.3 328.4,356.3 328.9,356.3 329.4,356.3 330,356.3 330.5,356.3 331,356.3 331.5,356.3 332.1,356.3 332.6,356.3 333.1,356.3 333.6,356.3 334.2,356.3 334.7,356.3 335.2,356.3 335.7,356.3 336.3,356.3 336.8,356.3 337.3,356.3 337.8,356.3 338.4,356.3 338.9,356.3 339.4,356.3 339.9,356.3 340.5,356.3 341,356.3 341.5,356.3 342.1,356.3 342.6,356.3 343.1,356.3 343.6,356.3 344.2,356.3 344.7,356.3 345.2,356.3 345.7,356.3 346.3,356.3 346.8,356.3 347.3,356.2 347.8,356.2 348.4,356.2 348.9,356.2 349.4,356.2 349.9,356.2 350.5,356.2 351,356.2 351.5,356.2 352.1,356.1 352.6,356.1 353.1,356.1 353.6,356.1 354.2,356 354.7,356 355.2,356 355.7,355.9 356.3,355.9 356.8,355.8 357.3,355.8 357.8,355.7 358.4,355.6 358.9,355.5 359.4,355.3 359.9,355.2 360,355.2 360,355.1 360.1,355.1 360.2,355.1 360.2,355.1 360.3,355 360.3,355 360.4,355 360.4,355 360.5,354.9 360.5,354.9 360.6,354.9 360.6,354.9 360.7,354.8 360.7,354.8 360.8,354.8 360.8,354.8 360.9,354.7 360.9,354.7 361,354.7 361,354.6 361.1,354.6 361.2,354.6 361.2,354.5 361.3,354.5 361.3,354.4 361.4,354.4 361.4,354.4 361.5,354.3 361.5,354.3 361.6,354.2 361.6,354.2 361.7,354.1 361.7,354.1 361.8,354 361.8,354 361.9,353.9 361.9,353.9 362,353.8 362,353.7 362.1,353.7 362.2,353.6 362.2,353.5 362.3,353.5 362.3,353.4 362.4,353.3 362.4,353.2 362.5,353.1 362.5,353.1 362.6,353 362.6,352.9 362.7,352.8 362.7,352.7 362.8,352.6 362.8,352.5 362.9,352.3 362.9,352.2 363,352.1 363,352 363.1,351.8 363.2,351.7 363.2,351.5 363.3,351.4 363.3,351.2 363.4,351 363.4,350.8 363.5,350.6 363.5,350.4 363.6,350.2 363.6,349.9 363.7,349.7 363.7,349.4 363.8,349.1 363.8,348.8 363.9,348.4 363.9,348.1 364,347.7 364,347.2 364.1,346.8 364.2,346.2 364.2,345.7 364.3,345.1 364.3,344.4 364.4,343.6 364.4,342.8 364.5,342 364.5,341 364.6,340 364.6,338.8 364.7,337.6 364.7,336.3 364.8,334.8 364.8,333.3 364.9,331.6 364.9,329.7 365,327.8 365,325.7 365.1,323.5 365.2,321.2 365.2,318.7 365.3,316 365.3,313.3 365.4,310.4 365.4,307.4 365.5,304.3 365.5,301.1 365.6,297.8 365.6,294.5 365.7,291.2 365.7,287.9 365.8,284.7 365.8,281.6 365.9,278.6 365.9,275.9 366,273.4 366,271.4 366.1,269.7 366.2,268.4 366.2,267.6 366.3,267.4 366.3,267.6 366.4,268.4 366.4,269.7 366.5,271.4 366.5,273.4 366.6,275.9 366.6,278.6 366.7,281.6 366.7,284.7 366.8,287.9 366.8,291.2 366.9,294.5 366.9,297.8 367,301.1 367,304.3 367.1,307.4 367.2,310.4 367.2,313.3 367.3,316 367.3,318.7 367.4,321.2 367.4,323.5 367.5,325.7 367.5,327.8 367.6,329.7 367.6,331.6 367.7,333.3 367.7,334.8 367.8,336.3 367.8,337.6 367.9,338.8 367.9,340 368,341 368,342 368.1,342.8 368.2,343.6 368.2,344.4 368.3,345.1 368.3,345.7 368.4,346.2 368.4,346.8 368.5,347.2 368.5,347.7 368.6,348.1 368.6,348.4 368.7,348.8 368.7,349.1 368.8,349.4 368.8,349.7 368.9,349.9 368.9,350.2 369,350.4 369,350.6 369.1,350.8 369.2,351 369.2,351.2 369.3,351.4 369.3,351.5 369.4,351.7 369.4,351.8 369.5,352 369.5,352.1 369.6,352.2 369.6,352.3 369.7,352.5 369.7,352.6 369.8,352.7 369.8,352.8 369.9,352.9 369.9,353 370,353.1 370,353.1 370.1,353.2 370.2,353.3 370.2,353.4 370.3,353.5 370.3,353.5 370.4,353.6 370.4,353.7 370.5,353.7 370.5,353.8 370.6,353.9 370.6,353.9 370.7,354 370.7,354 370.8,354.1 370.8,354.1 370.9,354.2 370.9,354.2 371,354.3 371,354.3 371.1,354.4 371.2,354.4 371.2,354.4 371.3,354.5 371.3,354.5 371.4,354.5 371.4,354.6 371.5,354.6 371.5,354.7 371.6,354.7 371.6,354.7 371.7,354.8 371.7,354.8 371.8,354.8 371.8,354.8 371.9,354.9 371.9,354.9 372,354.9 372,354.9 372.1,355 372.2,355 372.2,355 372.3,355 372.3,355.1 372.4,355.1 372.4,355.1 372.5,355.1 372.5,355.1 372.6,355.2 373.1,355.3 373.6,355.5 374.2,355.6 374.7,355.7 375.2,355.8 375.7,355.8 376.3,355.9 376.8,355.9 377.3,356 377.8,356 378.4,356 378.9,356.1 379.4,356.1 379.9,356.1 380.5,356.1 381,356.1 381.5,356.2 382,356.2 382.6,356.2 383.1,356.2 383.6,356.2 384.1,356.2 384.7,356.2 385.2,356.2 385.7,356.2 386.3,356.2 386.8,356.3 387.3,356.3 387.8,356.3 388.4,356.3 388.9,356.3 389.4,356.3 389.9,356.3 390.5,356.3 391,356.3 391.5,356.3 392,356.3 392.6,356.3 393.1,356.3 393.6,356.3 394.1,356.3 394.7,356.3 395.2,356.3 395.7,356.3 396.3,356.3 396.8,356.3 397.3,356.3 397.8,356.3 398.4,356.3 398.9,356.3 399.4,356.3 399.9,356.3 400.5,356.3 401,356.3 401.5,356.3 402,356.3 402.6,356.3 403.1,356.3 403.6,356.3 404.1,356.3 404.7,356.3 405.2,356.3 405.7,356.3 406.2,356.3 406.8,356.3 407.3,356.3 407.8,356.3 408.4,356.3 408.9,356.3 409.4,356.3 409.9,356.3 410.5,356.3 411,356.3 411.5,356.3 412,356.3 412.6,356.2 413.1,356.2 413.6,356.2 414.1,356.2 414.7,356.2 415.2,356.2 415.7,356.2 416.2,356.2 416.8,356.2 417.3,356.2 417.8,356.2 418.4,356.1 418.9,356.1 419.4,356.1 419.9,356.1 420.5,356.1 421,356 421.5,356 422,356 422.6,355.9 423.1,355.9 423.6,355.8 424.1,355.7 424.7,355.6 425.2,355.5 425.7,355.4 425.9,355.3 425.9,355.3 426,355.3 426,355.3 426.1,355.2 426.1,355.2 426.2,355.2 426.2,355.2 426.3,355.2 426.4,355.1 426.4,355.1 426.5,355.1 426.5,355.1 426.6,355 426.6,355 426.7,355 426.7,355 426.8,354.9 426.8,354.9 426.9,354.9 426.9,354.9 427,354.8 427,354.8 427.1,354.8 427.1,354.7 427.2,354.7 427.2,354.7 427.3,354.6 427.4,354.6 427.4,354.5 427.5,354.5 427.5,354.5 427.6,354.4 427.6,354.4 427.7,354.3 427.7,354.3 427.8,354.2 427.8,354.2 427.9,354.1 427.9,354.1 428,354 428,354 428.1,353.9 428.1,353.9 428.2,353.8 428.2,353.7 428.3,353.7 428.3,353.6 428.4,353.5 428.5,353.4 428.5,353.4 428.6,353.3 428.6,353.2 428.7,353.1 428.7,353 428.8,352.9 428.8,352.8 428.9,352.7 428.9,352.6 429,352.5 429,352.3 429.1,352.2 429.1,352.1 429.2,351.9 429.2,351.8 429.3,351.6 429.3,351.4 429.4,351.2 429.5,351 429.5,350.8 429.6,350.6 429.6,350.3 429.7,350.1 429.7,349.8 429.8,349.5 429.8,349.1 429.9,348.8 429.9,348.4 430,348 430,347.5 430.1,347 430.1,346.5 430.2,345.9 430.2,345.2 430.3,344.5 430.3,343.8 430.4,343 430.5,342.1 430.5,341.1 430.6,340.1 430.6,339 430.7,337.8 430.7,336.5 430.8,335.2 430.8,333.7 430.9,332.2 430.9,330.5 431,328.8 431,327 431.1,325 431.1,323 431.2,320.9 431.2,318.7 431.3,316.5 431.3,314.2 431.4,311.8 431.5,309.4 431.5,307 431.6,304.6 431.6,302.2 431.7,299.9 431.7,297.7 431.8,295.7 431.8,293.7 431.9,292 431.9,290.6 432,289.4 432,288.6 432.1,288 432.1,287.9 432.2,288 432.2,288.6 432.3,289.4 432.3,290.6 432.4,292 432.5,293.7 432.5,295.7 432.6,297.7 432.6,299.9 432.7,302.2 432.7,304.6 432.8,307 432.8,309.4 432.9,311.8 432.9,314.2 433,316.5 433,318.7 433.1,320.9 433.1,323 433.2,325 433.2,327 433.3,328.8 433.3,330.5 433.4,332.2 433.5,333.7 433.5,335.2 433.6,336.5 433.6,337.8 433.7,339 433.7,340.1 433.8,341.1 433.8,342.1 433.9,343 433.9,343.8 434,344.5 434,345.2 434.1,345.9 434.1,346.5 434.2,347 434.2,347.5 434.3,348 434.3,348.4 434.4,348.8 434.5,349.1 434.5,349.5 434.6,349.8 434.6,350.1 434.7,350.3 434.7,350.6 434.8,350.8 434.8,351 434.9,351.2 434.9,351.4 435,351.6 435,351.8 435.1,351.9 435.1,352.1 435.2,352.2 435.2,352.3 435.3,352.5 435.3,352.6 435.4,352.7 435.5,352.8 435.5,352.9 435.6,353 435.6,353.1 435.7,353.2 435.7,353.3 435.8,353.4 435.8,353.4 435.9,353.5 435.9,353.6 436,353.7 436,353.7 436.1,353.8 436.1,353.9 436.2,353.9 436.2,354 436.3,354 436.3,354.1 436.4,354.1 436.5,354.2 436.5,354.2 436.6,354.3 436.6,354.3 436.7,354.4 436.7,354.4 436.8,354.5 436.8,354.5 436.9,354.5 436.9,354.6 437,354.6 437,354.7 437.1,354.7 437.1,354.7 437.2,354.8 437.2,354.8 437.3,354.8 437.3,354.8 437.4,354.9 437.5,354.9 437.5,354.9 437.6,355 437.6,355 437.7,355 437.7,355 437.8,355.1 437.8,355.1 437.9,355.1 437.9,355.1 438,355.1 438,355.2 438.1,355.2 438.1,355.2 438.2,355.2 438.2,355.2 438.3,355.3 438.3,355.3 438.4,355.3 438.5,355.3 438.9,355.4 439.4,355.6 439.9,355.7 440.5,355.7 441,355.8 441.5,355.9 442,355.9 442.6,356 443.1,356 443.6,356 444.1,356.1 444.7,356.1 445.2,356.1 445.7,356.1 446.2,356.1 446.8,356.1 447.3,356.2 447.8,356.2 448.3,356.2 448.9,356.2 449.4,356.2 449.9,356.2 450.5,356.2 451,356.2 451.5,356.2 452,356.2 452.6,356.2 453.1,356.2 453.6,356.2 454.1,356.2 454.7,356.2 455.2,356.2 455.7,356.2 456.2,356.2 456.8,356.2 457.3,356.2 457.8,356.2 458.3,356.2 458.9,356.2 459.4,356.2 459.9,356.2 460.4,356.2 461,356.1 461.5,356.1 462,356.1 462.6,356.1 462.9,356.1 463,356.1 463,356 463.1,356 463.1,356 463.2,356 463.2,356 463.3,356 463.3,356 463.4,356 463.4,356 463.5,356 463.6,356 463.6,356 463.7,356 463.7,356 463.8,356 463.8,356 463.9,356 463.9,356 464,356 464,356 464.1,356 464.1,355.9 464.2,355.9 464.2,355.9 464.3,355.9 464.3,355.9 464.4,355.9 464.4,355.9 464.5,355.9 464.6,355.9 464.6,355.9 464.7,355.9 464.7,355.9 464.8,355.9 464.8,355.8 464.9,355.8 464.9,355.8 465,355.8 465,355.8 465.1,355.8 465.1,355.8 465.2,355.8 465.2,355.8 465.3,355.7 465.3,355.7 465.4,355.7 465.4,355.7 465.5,355.7 465.6,355.7 465.6,355.6 465.7,355.6 465.7,355.6 465.8,355.6 465.8,355.6 465.9,355.6 465.9,355.5 466,355.5 466,355.5 466.1,355.5 466.1,355.4 466.2,355.4 466.2,355.4 466.3,355.3 466.3,355.3 466.4,355.3 466.4,355.2 466.5,355.2 466.6,355.2 466.6,355.1 466.7,355.1 466.7,355 466.8,355 466.8,354.9 466.9,354.8 466.9,354.8 467,354.7 467,354.6 467.1,354.5 467.1,354.4 467.2,354.3 467.2,354.2 467.3,354.1 467.3,353.9 467.4,353.8 467.4,353.6 467.5,353.4 467.6,353.3 467.6,353.1 467.7,352.9 467.7,352.6 467.8,352.4 467.8,352.1 467.9,351.9 467.9,351.6 468,351.3 468,351 468.1,350.6 468.1,350.3 468.2,349.9 468.2,349.5 468.3,349.1 468.3,348.7 468.4,348.3 468.4,347.9 468.5,347.5 468.6,347 468.6,346.6 468.7,346.2 468.7,345.8 468.8,345.4 468.8,345.1 468.9,344.7 468.9,344.4 469,344.2 469,344 469.1,343.8 469.1,343.7 469.2,343.7 469.2,343.7 469.3,343.8 469.3,344 469.4,344.2 469.4,344.4 469.5,344.7 469.6,345 469.6,345.4 469.7,345.8 469.7,346.2 469.8,346.6 469.8,347 469.9,347.4 469.9,347.9 470,348.3 470,348.7 470.1,349.1 470.1,349.5 470.2,349.9 470.2,350.2 470.3,350.6 470.3,350.9 470.4,351.2 470.4,351.5 470.5,351.8 470.6,352.1 470.6,352.3 470.7,352.6 470.7,352.8 470.8,353 470.8,353.2 470.9,353.4 470.9,353.6 471,353.7 471,353.9 471.1,354 471.1,354.1 471.2,354.2 471.2,354.3 471.3,354.4 471.3,354.5 471.4,354.6 471.4,354.7 471.5,354.8 471.6,354.8 471.6,354.9 471.7,354.9 471.7,355 471.8,355 471.8,355.1 471.9,355.1 471.9,355.2 472,355.2 472,355.2 472.1,355.3 472.1,355.3 472.2,355.3 472.2,355.3 472.3,355.4 472.3,355.4 472.4,355.4 472.4,355.4 472.5,355.4 472.6,355.5 472.6,355.5 472.7,355.5 472.7,355.5 472.8,355.5 472.8,355.5 472.9,355.6 472.9,355.6 473,355.6 473,355.6 473.1,355.6 473.1,355.6 473.2,355.6 473.2,355.6 473.3,355.6 473.3,355.7 473.4,355.7 473.4,355.7 473.5,355.7 473.6,355.7 473.6,355.7 473.7,355.7 473.7,355.7 473.8,355.7 473.8,355.7 473.9,355.7 473.9,355.7 474,355.7 474,355.7 474.1,355.8 474.1,355.8 474.2,355.8 474.2,355.8 474.3,355.8 474.3,355.8 474.4,355.8 474.4,355.8 474.5,355.8 474.6,355.8 474.6,355.8 474.7,355.8 474.7,355.8 474.8,355.8 474.8,355.8 474.9,355.8 474.9,355.8 475,355.8 475,355.8 475.1,355.8 475.1,355.8 475.2,355.8 475.2,355.8 475.3,355.8 475.3,355.8 475.4,355.8 475.4,355.8 475.5,355.8 475.7,355.8 476.2,355.8 476.8,355.8 477.3,355.7 477.8,355.7 478.3,355.6 478.9,355.5 479.4,355.4 479.5,355.4 479.6,355.4 479.7,355.4 479.7,355.3 479.8,355.3 479.8,355.3 479.9,355.3 479.9,355.3 480,355.3 480,355.2 480.1,355.2 480.1,355.2 480.2,355.2 480.2,355.2 480.3,355.2 480.3,355.1 480.4,355.1 480.4,355.1 480.5,355.1 480.5,355 480.6,355 480.7,355 480.7,355 480.8,355 480.8,354.9 480.9,354.9 480.9,354.9 481,354.8 481,354.8 481.1,354.8 481.1,354.8 481.2,354.7 481.2,354.7 481.3,354.7 481.3,354.6 481.4,354.6 481.4,354.5 481.5,354.5 481.5,354.5 481.6,354.4 481.7,354.4 481.7,354.3 481.8,354.3 481.8,354.2 481.9,354.2 481.9,354.1 482,354.1 482,354 482.1,354 482.1,353.9 482.2,353.8 482.2,353.8 482.3,353.7 482.3,353.6 482.4,353.5 482.4,353.5 482.5,353.4 482.5,353.3 482.6,353.2 482.7,353.1 482.7,353 482.8,352.9 482.8,352.8 482.9,352.7 482.9,352.5 483,352.4 483,352.3 483.1,352.1 483.1,351.9 483.2,351.8 483.2,351.6 483.3,351.4 483.3,351.1 483.4,350.9 483.4,350.7 483.5,350.4 483.5,350.1 483.6,349.8 483.7,349.4 483.7,349 483.8,348.6 483.8,348.2 483.9,347.7 483.9,347.2 484,346.6 484,346.1 484.1,345.4 484.1,344.7 484.2,344 484.2,343.2 484.3,342.3 484.3,341.4 484.4,340.4 484.4,339.4 484.5,338.3 484.5,337.2 484.6,336 484.7,334.7 484.7,333.3 484.8,331.9 484.8,330.5 484.9,329 484.9,327.4 485,325.8 485,324.2 485.1,322.5 485.1,320.8 485.2,319.2 485.2,317.5 485.3,315.9 485.3,314.3 485.4,312.8 485.4,311.4 485.5,310.1 485.5,309 485.6,308 485.7,307.2 485.7,306.7 485.8,306.3 485.8,306.2 485.9,306.3 485.9,306.7 486,307.2 486,308 486.1,309 486.1,310.1 486.2,311.4 486.2,312.8 486.3,314.3 486.3,315.9 486.4,317.5 486.4,319.1 486.5,320.8 486.5,322.5 486.6,324.1 486.7,325.8 486.7,327.4 486.8,328.9 486.8,330.4 486.9,331.9 486.9,333.3 487,334.6 487,335.9 487.1,337.1 487.1,338.3 487.2,339.4 487.2,340.4 487.3,341.4 487.3,342.3 487.4,343.1 487.4,343.9 487.5,344.6 487.5,345.3 487.6,346 487.7,346.6 487.7,347.1 487.8,347.6 487.8,348.1 487.9,348.5 487.9,348.9 488,349.3 488,349.7 488.1,350 488.1,350.3 488.2,350.6 488.2,350.8 488.3,351 488.3,351.3 488.4,351.5 488.4,351.6 488.5,351.8 488.5,352 488.6,352.1 488.7,352.3 488.7,352.4 488.8,352.5 488.8,352.6 488.9,352.8 488.9,352.9 489,353 489,353.1 489.1,353.1 489.1,353.2 489.2,353.3 489.2,353.4 489.3,353.5 489.3,353.5 489.4,353.6 489.4,353.7 489.5,353.7 489.5,353.8 489.6,353.8 489.7,353.9 489.7,353.9 489.8,354 489.8,354 489.9,354.1 489.9,354.1 490,354.2 490,354.2 490.1,354.2 490.1,354.3 490.2,354.3 490.2,354.3 490.3,354.4 490.3,354.4 490.4,354.4 490.4,354.5 490.5,354.5 490.5,354.5 490.6,354.5 490.7,354.6 490.7,354.6 490.8,354.6 490.8,354.6 490.9,354.6 490.9,354.7 491,354.7 491,354.7 491.1,354.7 491.1,354.7 491.2,354.7 491.2,354.8 491.3,354.8 491.3,354.8 491.4,354.8 491.4,354.8 491.5,354.8 491.5,354.8 491.6,354.8 491.7,354.9 491.7,354.9 491.8,354.9 491.8,354.9 491.9,354.9 491.9,354.9 492,354.9 492,354.9 492.1,354.9 492.1,354.9 492.2,354.9 492.2,354.9 492.3,354.9 492.3,354.9 492.4,354.9 492.4,354.9 492.5,354.9 492.5,354.9 492.6,354.9 492.7,354.9 492.7,354.9 492.8,354.9 492.8,354.9 492.9,354.9 492.9,354.9 493,354.9 493,354.8 493.1,354.8 493.1,354.8 493.2,354.8 493.2,354.8 493.3,354.8 493.3,354.8 493.4,354.8 493.4,354.7 493.5,354.7 493.5,354.7 493.6,354.7 493.7,354.7 493.7,354.7 493.8,354.6 493.8,354.6 493.9,354.6 493.9,354.6 494,354.5 494,354.5 494.1,354.5 494.1,354.4 494.2,354.4 494.2,354.4 494.3,354.3 494.3,354.3 494.4,354.3 494.4,354.2 494.5,354.2 494.5,354.1 494.6,354.1 494.7,354 494.7,354 494.8,353.9 494.8,353.8 494.9,353.8 494.9,353.7 495,353.6 495,353.5 495.1,353.4 495.1,353.3 495.2,353.2 495.2,353.1 495.3,353 495.3,352.9 495.4,352.7 495.4,352.6 495.5,352.4 495.5,352.2 495.6,352 495.7,351.8 495.7,351.6 495.8,351.4 495.8,351.1 495.9,350.8 495.9,350.5 496,350.2 496,349.8 496.1,349.4 496.1,349 496.2,348.5 496.2,348.1 496.3,347.5 496.3,347 496.4,346.4 496.4,345.8 496.5,345.1 496.5,344.4 496.6,343.7 496.7,343 496.7,342.2 496.8,341.3 496.8,340.5 496.9,339.6 496.9,338.6 497,337.7 497,336.7 497.1,335.7 497.1,334.7 497.2,333.7 497.2,332.8 497.3,331.8 497.3,330.9 497.4,330 497.4,329.2 497.5,328.4 497.5,327.8 497.6,327.2 497.7,326.7 497.7,326.4 497.8,326.2 497.8,326.1 497.9,326.2 497.9,326.4 498,326.7 498,327.2 498.1,327.8 498.1,328.4 498.2,329.2 498.2,330 498.3,330.9 498.3,331.9 498.4,332.8 498.4,333.8 498.5,334.8 498.5,335.8 498.6,336.8 498.7,337.7 498.7,338.7 498.8,339.6 498.8,340.5 498.9,341.4 498.9,342.2 499,343.1 499,343.8 499.1,344.6 499.1,345.2 499.2,345.9 499.2,346.5 499.3,347.1 499.3,347.7 499.4,348.2 499.4,348.7 499.5,349.1 499.5,349.5 499.6,349.9 499.7,350.3 499.7,350.6 499.8,351 499.8,351.3 499.9,351.5 499.9,351.8 500,352 500,352.2 500.1,352.4 500.1,352.6 500.2,352.8 500.2,352.9 500.3,353.1 500.3,353.2 500.4,353.3 500.4,353.5 500.5,353.6 500.5,353.7 500.6,353.8 500.6,353.9 500.7,353.9 500.8,354 500.8,354.1 500.9,354.2 500.9,354.2 501,354.3 501,354.4 501.1,354.4 501.1,354.5 501.2,354.5 501.2,354.6 501.3,354.6 501.3,354.7 501.4,354.7 501.4,354.8 501.5,354.8 501.5,354.8 501.6,354.9 501.6,354.9 501.7,354.9 501.8,355 501.8,355 501.9,355 501.9,355.1 502,355.1 502,355.1 502.1,355.2 502.1,355.2 502.2,355.2 502.2,355.2 502.3,355.3 502.3,355.3 502.4,355.3 502.4,355.3 502.5,355.3 502.5,355.4 502.6,355.4 502.6,355.4 502.7,355.4 502.8,355.4 502.8,355.4 502.9,355.5 502.9,355.5 503,355.5 503,355.5 503.1,355.5 503.1,355.5 503.2,355.6 503.2,355.6 503.3,355.6 503.3,355.6 503.4,355.6 503.4,355.6 503.5,355.6 503.5,355.6 503.6,355.7 503.6,355.7 503.7,355.7 503.8,355.7 503.8,355.7 503.9,355.7 503.9,355.7 504,355.7 504,355.7 504.1,355.7 504.1,355.8 504.6,355.8 505.2,355.9 505.7,356 506.2,356 506.8,356 507.3,356.1 507.8,356.1 508.3,356.1 508.9,356.1 509.4,356.2 509.9,356.2 510.4,356.2 511,356.2 511.5,356.2 512,356.2 512.5,356.2 513.1,356.2 513.6,356.2 514.1,356.3 514.6,356.3 515.2,356.3 515.7,356.3 516.2,356.3 516.8,356.3 517.3,356.3 517.8,356.3 518.3,356.3 518.9,356.3 519.4,356.3 519.9,356.3 520.4,356.3 521,356.3 521.5,356.3 522,356.3 522.5,356.3 523.1,356.3 523.6,356.3 524.1,356.3 524.6,356.3 525.2,356.3 525.7,356.3 526.2,356.3 526.7,356.3 527.3,356.3 527.8,356.2 528,356.2 528,356.2 528.1,356.2 528.1,356.2 528.2,356.2 528.2,356.2 528.3,356.2 528.3,356.2 528.4,356.2 528.4,356.2 528.5,356.2 528.5,356.2 528.6,356.2 528.6,356.2 528.7,356.2 528.7,356.2 528.8,356.2 528.9,356.2 528.9,356.2 529,356.2 529,356.2 529.1,356.2 529.1,356.2 529.2,356.2 529.2,356.2 529.3,356.2 529.3,356.2 529.4,356.2 529.4,356.2 529.5,356.2 529.5,356.2 529.6,356.1 529.6,356.1 529.7,356.1 529.7,356.1 529.8,356.1 529.9,356.1 529.9,356.1 530,356.1 530,356.1 530.1,356.1 530.1,356.1 530.2,356.1 530.2,356.1 530.3,356.1 530.3,356.1 530.4,356.1 530.4,356.1 530.5,356.1 530.5,356 530.6,356 530.6,356 530.7,356 530.7,356 530.8,356 530.9,356 530.9,356 531,356 531,356 531.1,355.9 531.1,355.9 531.2,355.9 531.2,355.9 531.3,355.9 531.3,355.9 531.4,355.8 531.4,355.8 531.5,355.8 531.5,355.8 531.6,355.8 531.6,355.7 531.7,355.7 531.7,355.7 531.8,355.6 531.9,355.6 531.9,355.6 532,355.5 532,355.5 532.1,355.4 532.1,355.4 532.2,355.3 532.2,355.3 532.3,355.2 532.3,355.2 532.4,355.1 532.4,355 532.5,354.9 532.5,354.8 532.6,354.7 532.6,354.6 532.7,354.5 532.7,354.4 532.8,354.3 532.9,354.2 532.9,354 533,353.9 533,353.8 533.1,353.6 533.1,353.4 533.2,353.3 533.2,353.1 533.3,352.9 533.3,352.8 533.4,352.6 533.4,352.4 533.5,352.2 533.5,352 533.6,351.8 533.6,351.6 533.7,351.4 533.7,351.3 533.8,351.1 533.9,350.9 533.9,350.8 534,350.7 534,350.6 534.1,350.5 534.1,350.4 534.2,350.4 534.2,350.4 534.3,350.4 534.3,350.4 534.4,350.5 534.4,350.6 534.5,350.7 534.5,350.8 534.6,350.9 534.6,351.1 534.7,351.3 534.7,351.4 534.8,351.6 534.9,351.8 534.9,352 535,352.2 535,352.4 535.1,352.6 535.1,352.8 535.2,352.9 535.2,353.1 535.3,353.3 535.3,353.5 535.4,353.6 535.4,353.8 535.5,353.9 535.5,354.1 535.6,354.2 535.6,354.3 535.7,354.4 535.7,354.5 535.8,354.7 535.9,354.8 535.9,354.8 536,354.9 536,355 536.1,355.1 536.1,355.2 536.2,355.2 536.2,355.3 536.3,355.4 536.3,355.4 536.4,355.5 536.4,355.5 536.5,355.5 536.5,355.6 536.6,355.6 536.6,355.7 536.7,355.7 536.7,355.7 536.8,355.7 536.9,355.8 536.9,355.8 537,355.8 537,355.8 537.1,355.9 537.1,355.9 537.2,355.9 537.2,355.9 537.3,355.9 537.3,355.9 537.4,356 537.4,356 537.5,356 537.5,356 537.6,356 537.6,356 537.7,356 537.7,356 537.8,356 537.9,356 537.9,356.1 538,356.1 538,356.1 538.1,356.1 538.1,356.1 538.2,356.1 538.2,356.1 538.3,356.1 538.3,356.1 538.4,356.1 538.4,356.1 538.5,356.1 538.5,356.1 538.6,356.1 538.6,356.1 538.7,356.1 538.7,356.2 538.8,356.2 538.9,356.2 538.9,356.2 539,356.2 539,356.2 539.1,356.2 539.1,356.2 539.2,356.2 539.2,356.2 539.3,356.2 539.3,356.2 539.4,356.2 539.4,356.2 539.5,356.2 539.5,356.2 539.6,356.2 539.6,356.2 539.7,356.2 539.7,356.2 539.8,356.2 539.9,356.2 539.9,356.2 540,356.2 540,356.2 540.1,356.2 540.1,356.2 540.2,356.2 540.2,356.2 540.3,356.2 540.3,356.2 540.4,356.2 540.4,356.3 540.5,356.3 540.5,356.3 541,356.3 541.5,356.3 542,356.3 542.5,356.3 543.1,356.3 543.6,356.3 544.1,356.3 544.6,356.3 545.2,356.3 545.7,356.3 546.2,356.3 546.7,356.3 547.3,356.3 547.8,356.3 548.3,356.3 548.8,356.3 549.4,356.3 549.9,356.4 550.4,356.4 551,356.4 551.5,356.4 552,356.4 552.5,356.4 553.1,356.4 553.6,356.4 554.1,356.4 554.6,356.4 555.2,356.4 555.7,356.4 556.2,356.4 556.7,356.4 557.3,356.4 557.8,356.4 558.3,356.4 558.8,356.4 559.4,356.4 559.9,356.4 560.4,356.4 561,356.4 561.5,356.4 562,356.4 562.5,356.4 563.1,356.4 563.6,356.4 564.1,356.4 564.6,356.4 565.2,356.3 565.7,356.3 566.2,356.3 566.7,356.3 567.3,356.3 567.8,356.3 568.3,356.3 568.8,356.3 569.4,356.3 569.9,356.3 570.4,356.3 571,356.3 571.5,356.3 572,356.3 572.5,356.3 573.1,356.3 573.6,356.2 574.1,356.2 574.2,356.2 574.2,356.2 574.3,356.2 574.3,356.2 574.4,356.2 574.4,356.2 574.5,356.2 574.5,356.2 574.6,356.2 574.6,356.2 574.7,356.2 574.7,356.2 574.8,356.2 574.8,356.2 574.9,356.2 574.9,356.2 575,356.2 575.1,356.2 575.1,356.1 575.2,356.1 575.2,356.1 575.3,356.1 575.3,356.1 575.4,356.1 575.4,356.1 575.5,356.1 575.5,356.1 575.6,356.1 575.6,356.1 575.7,356.1 575.7,356.1 575.8,356.1 575.8,356.1 575.9,356.1 575.9,356.1 576,356 576.1,356 576.1,356 576.2,356 576.2,356 576.3,356 576.3,356 576.4,356 576.4,356 576.5,356 576.5,356 576.6,355.9 576.6,355.9 576.7,355.9 576.7,355.9 576.8,355.9 576.8,355.9 576.9,355.9 576.9,355.9 577,355.8 577.1,355.8 577.1,355.8 577.2,355.8 577.2,355.8 577.3,355.7 577.3,355.7 577.4,355.7 577.4,355.7 577.5,355.7 577.5,355.6 577.6,355.6 577.6,355.6 577.7,355.5 577.7,355.5 577.8,355.5 577.8,355.4 577.9,355.4 577.9,355.3 578,355.3 578.1,355.2 578.1,355.2 578.2,355.1 578.2,355 578.3,355 578.3,354.9 578.4,354.8 578.4,354.7 578.5,354.6 578.5,354.5 578.6,354.4 578.6,354.3 578.7,354.2 578.7,354.1 578.8,353.9 578.8,353.8 578.9,353.6 578.9,353.4 579,353.3 579.1,353.1 579.1,352.9 579.2,352.7 579.2,352.5 579.3,352.3 579.3,352 579.4,351.8 579.4,351.6 579.5,351.3 579.5,351.1 579.6,350.8 579.6,350.6 579.7,350.3 579.7,350 579.8,349.8 579.8,349.5 579.9,349.3 579.9,349.1 580,348.8 580.1,348.6 580.1,348.4 580.2,348.3 580.2,348.1 580.3,348 580.3,348 580.4,347.9 580.4,347.9 580.5,347.9 580.5,348 580.6,348 580.6,348.1 580.7,348.3 580.7,348.4 580.8,348.6 580.8,348.8 580.9,349.1 580.9,349.3 581,349.5 581.1,349.8 581.1,350 581.2,350.3 581.2,350.6 581.3,350.8 581.3,351.1 581.4,351.3 581.4,351.6 581.5,351.8 581.5,352 581.6,352.3 581.6,352.5 581.7,352.7 581.7,352.9 581.8,353.1 581.8,353.3 581.9,353.4 581.9,353.6 582,353.8 582.1,353.9 582.1,354.1 582.2,354.2 582.2,354.3 582.3,354.4 582.3,354.5 582.4,354.6 582.4,354.7 582.5,354.8 582.5,354.9 582.6,355 582.6,355 582.7,355.1 582.7,355.2 582.8,355.2 582.8,355.3 582.9,355.3 582.9,355.4 583,355.4 583.1,355.5 583.1,355.5 583.2,355.5 583.2,355.6 583.3,355.6 583.3,355.6 583.4,355.7 583.4,355.7 583.5,355.7 583.5,355.7 583.6,355.8 583.6,355.8 583.7,355.8 583.7,355.8 583.8,355.8 583.8,355.8 583.9,355.9 583.9,355.9 584,355.9 584.1,355.9 584.1,355.9 584.2,355.9 584.2,355.9 584.3,355.9 584.3,356 584.4,356 584.4,356 584.5,356 584.5,356 584.6,356 584.6,356 584.7,356 584.7,356 584.8,356 584.8,356.1 584.9,356.1 584.9,356.1 585,356.1 585.1,356.1 585.1,356.1 585.2,356.1 585.2,356.1 585.3,356.1 585.3,356.1 585.4,356.1 585.4,356.1 585.5,356.1 585.5,356.1 585.6,356.1 585.6,356.1 585.7,356.1 585.7,356.2 585.8,356.2 585.8,356.2 585.9,356.2 585.9,356.2 586,356.2 586.1,356.2 586.1,356.2 586.2,356.2 586.2,356.2 586.3,356.2 586.3,356.2 586.4,356.2 586.4,356.2 586.5,356.2 586.5,356.2 586.6,356.2 586.6,356.2 586.7,356.2 586.7,356.2 587.3,356.2 587.8,356.3 588.3,356.3 588.8,356.3 589.4,356.3 589.9,356.3 590.4,356.3 590.9,356.3 591.5,356.3 592,356.3 592.5,356.3 593.1,356.3 593.6,356.3 594.1,356.4 594.6,356.4 595.2,356.4 595.7,356.4 596.2,356.4 596.7,356.4 597.3,356.4 597.8,356.4 598.3,356.4 598.8,356.4 599.4,356.4 599.9,356.4 600.4,356.4 600.9,356.4 601.5,356.4 602,356.4 602.5,356.4 603,356.4 603.6,356.4 604.1,356.4 604.6,356.4 605.2,356.4 605.7,356.4 606.2,356.4 606.7,356.4 607.3,356.4 607.8,356.4 608.3,356.4 608.8,356.4 609.4,356.4 609.9,356.4 610.4,356.4 610.9,356.4 611.5,356.4 612,356.4 612.5,356.4"/></g>
<polyline fill="none" stroke="#2222ff" stroke-width="1.05" stroke-linejoin="round" points="33.7,413.2 33.9,413.6 34.1,413.5 34.2,412.9 34.4,412.8 34.6,412.9 34.8,413.1 35,413.1 35.1,413 35.3,412.6 35.5,413.3 35.7,413.2 35.8,413.2 36,413 36.2,412.9 36.4,413.2 36.6,413.3 36.7,413 36.9,413 37.1,413.1 37.3,412.6 37.5,412.4 37.6,412.9 37.8,412.6 38,412.2 38.2,412.5 38.4,412.6 38.5,412.4 38.7,412.4 38.9,412.9 39.1,413.3 39.2,412.9 39.4,412.8 39.6,413.1 39.8,413.2 40,413 40.1,413.3 40.3,413.4 40.5,413 40.7,412.7 40.9,413.1 41,413.2 41.2,413.2 41.4,412.6 41.6,412.5 41.8,412.5 41.9,412.3 42.1,412.9 42.3,413.1 42.5,413 42.6,413.5 42.8,413.5 43,413.3 43.2,413.3 43.4,413.2 43.5,412.7 43.7,413.1 43.9,413.1 44.1,412.5 44.3,412.9 44.4,413 44.6,413.2 44.8,412.9 45,413 45.2,413 45.3,412.8 45.5,413.1 45.7,413.1 45.9,413.1 46,413 46.2,413.4 46.4,413.3 46.6,413.1 46.8,413.3 46.9,413.7 47.1,413.6 47.3,412.8 47.5,413.2 47.7,413.2 47.8,412.9 48,412.8 48.2,413.2 48.4,412.8 48.5,413.2 48.7,413.3 48.9,412.6 49.1,412.6 49.3,412.6 49.4,413.1 49.6,413.7 49.8,413.6 50,412.6 50.2,412.7 50.3,413.3 50.5,413.6 50.7,413.2 50.9,412.8 51.1,413 51.2,413 51.4,412.9 51.6,412.8 51.8,413.1 51.9,413.1 52.1,413 52.3,412.8 52.5,412.5 52.7,412.8 52.8,413.3 53,412.9 53.2,412.7 53.4,413.3 53.6,413.6 53.7,413.8 53.9,413.2 54.1,412.7 54.3,412.6 54.5,413.6 54.6,413.9 54.8,412.9 55,412.8 55.2,413 55.3,412.8 55.5,412.8 55.7,412.9 55.9,413.1 56.1,413.4 56.2,413.2 56.4,413.3 56.6,413 56.8,412.8 57,412.2 57.1,412.4 57.3,413 57.5,413 57.7,413.2 57.9,413.4 58,413.6 58.2,413.5 58.4,413.4 58.6,413 58.7,412.7 58.9,412.6 59.1,412.6 59.3,412.5 59.5,412.7 59.6,412.9 59.8,413 60,412.7 60.2,412.3 60.4,412.8 60.5,413.2 60.7,413.4 60.9,413.2 61.1,412.8 61.3,412.9 61.4,413.7 61.6,413.7 61.8,413.9 62,413.8 62.1,413 62.3,413.1 62.5,413.3 62.7,413.3 62.9,413.3 63,413.1 63.2,412.9 63.4,412.5 63.6,412.7 63.8,412.7 63.9,412.9 64.1,412.9 64.3,413.2 64.5,413.4 64.7,413.2 64.8,413.1 65,413 65.2,412.8 65.4,412.8 65.5,412.9 65.7,413.1 65.9,413.1 66.1,413 66.3,412.7 66.4,413.1 66.6,412.8 66.8,412.7 67,412.8 67.2,412.8 67.3,413 67.5,412.7 67.7,412.5 67.9,412.7 68.1,413.3 68.2,413 68.4,412.6 68.6,412.7 68.8,412.7 68.9,413.3 69.1,412.7 69.3,413.1 69.5,413.1 69.7,412.6 69.8,413 70,413.4 70.2,413.3 70.4,413.2 70.6,413.4 70.7,413.2 70.9,413.1 71.1,413.1 71.3,413.1 71.4,412.8 71.6,413.1 71.8,412.8 72,412.6 72.2,413.2 72.3,413.7 72.5,413.4 72.7,413 72.9,413.1 73.1,412.9 73.2,412.9 73.4,412.8 73.6,412.3 73.8,412.7 74,412.6 74.1,412.5 74.3,412.3 74.5,412.2 74.7,412.6 74.8,413.4 75,413.6 75.2,413.3 75.4,413.3 75.6,412.8 75.7,412.4 75.9,412.9 76.1,413.1 76.3,412.9 76.5,413.1 76.6,413.1 76.8,412.6 77,412.4 77.2,412.7 77.4,412.9 77.5,413 77.7,413.5 77.9,413.6 78.1,413.1 78.2,413.3 78.4,413.5 78.6,413.5 78.8,413.4 79,413.1 79.1,413.4 79.3,413.8 79.5,413.4 79.7,413 79.9,413.3 80,413.5 80.2,413.2 80.4,413 80.6,413.3 80.8,412.8 80.9,413 81.1,412.9 81.3,412.7 81.5,413.3 81.6,413.1 81.8,412.7 82,413 82.2,412.7 82.4,412.2 82.5,412.6 82.7,413.1 82.9,413.3 83.1,413.1 83.3,413.1 83.4,413.1 83.6,413.1 83.8,413.4 84,413.2 84.2,413.2 84.3,413.1 84.5,412.6 84.7,412.8 84.9,413.5 85,413.2 85.2,413 85.4,413 85.6,412.9 85.8,413 85.9,412.8 86.1,412.8 86.3,412.7 86.5,413.2 86.7,412.8 86.8,412.4 87,412.7 87.2,412.9 87.4,412.9 87.6,412.7 87.7,413.4 87.9,414.1 88.1,413 88.3,412.9 88.4,413 88.6,412.8 88.8,412.3 89,412.5 89.2,413 89.3,413.2 89.5,413.5 89.7,413 89.9,413.3 90.1,413.9 90.2,413 90.4,412.6 90.6,412.9 90.8,413.1 91,413.3 91.1,413.1 91.3,412.8 91.5,413.3 91.7,414 91.8,413.4 92,412.2 92.2,412.6 92.4,412.8 92.6,413.1 92.7,413.2 92.9,413.7 93.1,413.6 93.3,413.4 93.5,413.2 93.6,413 93.8,413.3 94,413.5 94.2,413.3 94.3,413.1 94.5,413.4 94.7,413.2 94.9,412.9 95.1,412.7 95.2,412.7 95.4,412.4 95.6,412.1 95.8,413.1 96,413.3 96.1,413.1 96.3,413.4 96.5,413.3 96.7,412.9 96.9,412.2 97,412.7 97.2,413.3 97.4,413.8 97.6,413.9 97.7,413.5 97.9,412.5 98.1,412.2 98.3,413 98.5,413.2 98.6,413.3 98.8,413.1 99,412.9 99.2,412.6 99.4,412.9 99.5,413 99.7,413.1 99.9,413.2 100.1,413.1 100.3,413.1 100.4,413.2 100.6,413.4 100.8,413.3 101,412.9 101.1,413.1 101.3,413.7 101.5,413.5 101.7,413.6 101.9,413.5 102,413.1 102.2,413.1 102.4,413.4 102.6,413.7 102.8,413.7 102.9,413.2 103.1,413.4 103.1,414.4 103.5,415.1 103.9,414.5 104.2,416.4 104.5,412.9 104.7,418.4 104.9,412.7 105.1,420.4 105.3,414.4 105.5,417.9 105.7,413.1 106,415.9 106.3,414.2 106.6,414.9 106.9,413.9 107.1,413.7 107.2,413.7 107.4,413.6 107.6,413.2 107.8,412.8 107.9,412.6 108.1,412.7 108.3,412.9 108.5,412.6 108.7,412.1 108.8,412.2 109,412 109.2,412.2 109.4,411.9 109.6,411.9 109.7,412.3 109.9,412.2 110.1,411.9 110.3,412.6 110.5,413 110.6,412.3 110.8,412.7 111,412.2 111.2,412.1 111.3,412 111.5,412 111.7,412.6 111.9,412.5 112.1,412.1 112.2,412 112.4,411.7 112.6,412.1 112.8,412.4 113,411.8 113.1,412 113.3,412.4 113.5,412.8 113.7,412.8 113.9,412.2 114,412.1 114.2,412.3 114.4,412.2 114.6,412.3 114.7,412.8 114.9,413 115.1,412.6 115.3,412.3 115.5,412.3 115.6,411.7 115.8,412 116,412.2 116.2,413.1 116.4,412.8 116.5,412.4 116.7,412 116.9,411.5 117.1,412.4 117.3,412.8 117.4,412.3 117.6,412.5 117.8,412.4 118,412 118.1,412.6 118.3,412.9 118.5,412.5 118.7,412.4 118.9,412.4 119,411.9 119.2,412.3 119.4,412.5 119.6,412.1 119.8,412.4 119.9,412 120.1,411.6 120.3,411.9 120.5,412 120.6,412.2 120.8,412.1 121,412.4 121.2,412.2 121.4,412.3 121.5,412.1 121.7,412.3 121.9,412.7 122.1,412.5 122.3,412.1 122.4,412 122.6,412.6 122.8,412.6 123,412.3 123.2,412.2 123.3,411.9 123.5,411.8 123.7,412 123.9,412.4 124,412.4 124.2,412.2 124.4,412.5 124.6,412.7 124.8,412.6 124.9,412.6 125.1,412.3 125.3,412.3 125.5,412.4 125.7,412.4 125.8,412.4 126,412.1 126.2,412.5 126.4,412.2 126.6,412 126.7,411.9 126.9,412.5 127.1,412.9 127.3,412.9 127.4,412.5 127.6,411.8 127.8,411.8 128,412 128.2,412.1 128.3,412.6 128.5,412.5 128.7,412.5 128.9,412.5 129.1,412.1 129.2,412 129.4,412.1 129.6,412.6 129.8,412.8 130,412.9 130.1,412.9 130.3,412.3 130.5,412.4 130.7,412.6 130.8,412.4 131,412.7 131,414.2 131.4,415.2 131.8,413.9 132.1,416.4 132.4,410.6 132.7,418.4 132.9,421.8 133.1,412.9 133.4,416.9 133.6,412.4 133.9,414.9 134.3,413.6 134.7,414 134.8,412.2 135,412.2 135.1,412.3 135.3,412.4 135.5,412.3 135.7,412.8 135.9,413.1 136,412.8 136.2,412.9 136.4,412.6 136.6,412.1 136.8,412.1 136.9,412.1 137.1,412.4 137.3,412.2 137.5,412.7 137.6,412.4 137.8,411.8 138,412.5 138.2,412.8 138.4,412.3 138.5,412.3 138.7,411.8 138.9,412 139.1,411.8 139.3,412.1 139.4,411.5 139.6,411.3 139.8,412.4 140,413 140.2,412.4 140.3,412.5 140.5,412.4 140.7,412.3 140.9,412.6 141,412.8 141.2,412.1 141.4,412.4 141.6,412.3 141.8,412 141.9,412.9 142.1,413 142.3,412.4 142.5,412.8 142.7,412.5 142.8,412.4 143,412.8 143.2,412.6 143.4,412.6 143.5,413 143.7,413 143.9,412.6 144.1,411.8 144.3,411.8 144.4,412.4 144.6,412.1 144.8,412.1 145,411.9 145.2,412 145.3,412 145.5,412.6 145.7,412.1 145.9,412.1 146.1,412.4 146.2,412.5 146.4,412 146.6,412.1 146.8,412.3 146.9,412.5 147.1,412.5 147.3,412.3 147.5,412.4 147.7,412.3 147.8,412.5 148,412.4 148.2,412.2 148.4,412.4 148.6,412.9 148.7,413.3 148.9,412.7 149.1,412.9 149.3,413 149.5,412.1 149.6,411.9 149.8,412.3 150,413.1 150.2,413.9 150.3,414 150.7,412.5 151,415.2 151.3,410.7 151.6,417.2 151.8,407.7 152.1,420 152.3,410.2 152.6,417.9 152.9,412.7 153.2,416.2 153.5,414.5 153.9,415.5 154.3,414.9 154.5,413.9 154.6,414.2 154.8,414.4 155,414.4 155.2,414.2 155.4,414.7 155.5,414.1 155.7,413.8 155.9,414.5 156.1,414.6 156.3,413.8 156.4,413.4 156.6,413.4 156.8,413.2 157,413.4 157.1,413.9 157.3,413.6 157.5,413.4 157.7,413.3 157.9,413.2 158,413.5 158.2,413.4 158.4,413 158.6,413.3 158.8,413.9 158.9,413.4 159.1,413.2 159.3,413.7 159.5,413.1 159.7,412.7 159.8,413 160,412.7 160.2,412.8 160.4,413 160.5,412.9 160.7,412.7 160.9,412.7 161.1,412.9 161.3,413.2 161.4,412.8 161.6,413 161.8,413.5 162,413.2 162.2,413.6 162.3,413.6 162.5,412.9 162.7,412.6 162.9,413.1 163.1,413.4 163.2,413.4 163.4,413.3 163.6,413.6 163.8,413.5 163.9,413 164.1,413.4 164.3,413.2 164.5,412.8 164.7,413 164.8,413.7 165,413.3 165.2,412.5 165.4,412.8 165.6,412.9 165.7,412.9 165.9,412.7 166.1,412.6 166.3,413 166.4,412.7 166.6,412.7 166.8,412.7 167,412.8 167.2,413.2 167.3,413.1 167.5,412.7 167.7,412.6 167.9,412.8 168.1,413.3 168.2,413.2 168.4,413.1 168.6,412.9 168.8,412.9 169,412.8 169.1,412.6 169.3,413.2 169.5,412.9 169.7,412.9 169.8,413.4 170,413.2 170.2,413 170.4,412.6 170.6,412.4 170.7,413 170.9,413.3 171.1,413 171.3,413.2 171.5,412.7 171.6,412.7 171.8,413.1 172,413.1 172.2,413.1 172.4,412.7 172.5,412.4 172.7,412.1 172.9,412.3 173.1,412.4 173.2,412.4 173.4,412.9 173.6,412.6 173.8,412.5 174,413.5 174.1,412.9 174.3,412.6 174.5,413.4 174.7,413.4 174.9,412.6 175,412.3 175.2,412.6 175.4,413.2 175.6,412.9 175.8,412.7 175.9,413 176.1,413.2 176.3,412.6 176.5,412.6 176.6,412.7 176.8,413.8 177,413.9 177.2,413.5 177.4,413.1 177.5,413 177.7,412.4 177.9,412.7 178.1,412.4 178.3,412.3 178.4,412.6 178.6,412.9 178.8,413.2 179,413.3 179.2,413.1 179.3,412.8 179.5,413.1 179.7,413.2 179.9,413.3 180,412.5 180.2,411.9 180.4,412.8 180.6,413.7 180.8,413.4 180.9,413.1 181.1,413.3 181.3,413.3 181.5,413.2 181.7,412.9 181.8,413 182,413 182.2,412.7 182.4,412.6 182.6,413 182.7,413.4 182.9,413.4 183.1,413.3 183.3,413.5 183.4,413.9 183.6,413.5 183.8,413.6 184,413.8 184.2,413.3 184.3,413.2 184.5,413.6 184.7,413.7 184.9,413.3 185.1,413.2 185.2,412.9 185.4,412.7 185.6,413.2 185.8,412.9 186,412.4 186.1,412.6 186.3,412.3 186.5,412.5 186.7,412.8 186.8,412.8 187,413.1 187.2,412.7 187.4,413 187.6,413.4 187.7,413.6 187.9,413.5 188.1,413.2 188.3,413.1 188.5,413.1 188.6,413.3 188.8,413 189,413.1 189.2,413.1 189.3,413 189.5,413.2 189.7,413.6 189.9,413.1 190.1,413 190.2,413.2 190.4,413.3 190.6,413.3 190.8,413.3 191,413.2 191.1,412.6 191.3,412.7 191.5,412.6 191.7,412.8 191.9,412.5 192,412.6 192.2,413 192.4,413.5 192.6,413.4 192.7,413.3 192.9,413.4 193.1,412.6 193.3,412.2 193.5,412.6 193.6,413 193.8,413.6 194,413.7 194.2,413.1 194.4,413.9 194.5,413.9 194.7,413.5 194.9,413.5 195.1,413.9 195.3,413.2 195.4,412.9 195.6,412.9 195.8,412.6 196,413 196.1,413.1 196.3,413.1 196.5,413 196.7,412.8 196.9,413.2 197,412.9 197.2,413 197.4,412.6 197.6,412.9 197.8,412.8 197.9,412.9 198.1,412.6 198.3,412.1 198.5,412.4 198.7,413 198.8,413.1 199,412.4 199.2,412 199.4,412.5 199.5,412.8 199.7,412.7 199.9,412.8 200.1,413.3 200.3,413.5 200.4,413.3 200.6,412.8 200.8,412.9 201,412.8 201.2,412.6 201.3,413.2 201.5,413.1 201.7,413 201.9,413.5 202.1,413.5 202.2,413.5 202.4,413.6 202.6,413.2 202.8,412.6 202.9,412.9 203.1,413.2 203.3,412.9 203.5,413 203.7,413.3 203.8,413.7 204,413.7 204.2,413.4 204.4,413.1 204.6,413.3 204.7,413.3 204.9,413.2 205.1,413.5 205.3,413.2 205.5,413 205.6,413.3 205.8,413.1 206,413 206.2,412.6 206.3,412.7 206.5,412.6 206.7,412.4 206.9,412.5 207.1,413.5 207.2,413.2 207.4,413.2 207.6,413.4 207.8,413.1 208,413 208.1,412.6 208.3,412.9 208.5,412.9 208.7,413.1 208.9,413 209,412.4 209.2,412.1 209.4,412.5 209.6,413.2 209.7,413.3 209.9,413 210.1,412.1 210.3,411.8 210.5,412.5 210.6,412.8 210.8,412.8 211,413 211.2,412.9 211.4,412.5 211.5,412.6 211.7,413 211.9,413 212.1,413.2 212.3,413.7 212.4,413.2 212.6,412.9 212.8,412.6 213,412.8 213.1,413.2 213.3,413.2 213.5,413.1 213.7,413.1 213.9,412.9 214,412 214.2,412 214.4,413.5 214.6,413.5 214.8,412.9 214.9,412.3 215.1,412.5 215.3,413 215.5,412.2 215.6,412.7 215.8,413.3 216,413.2 216.2,413.3 216.4,413.3 216.5,413.7 216.7,412.8 216.9,412.5 217.1,413.1 217.3,413.5 217.4,413.3 217.6,413.3 217.8,412.8 218,412.7 218.2,413.5 218.3,413.8 218.5,413.6 218.7,412.9 218.9,412.4 219,412.5 219.2,412.9 219.4,413.2 219.6,413.1 219.8,412.6 219.9,412.9 220.1,413 220.3,413 220.5,413 220.7,413 220.8,413.2 221,413.1 221.2,413 221.4,412.8 221.6,413 221.7,412.8 221.9,412.3 222.1,412.9 222.3,413.1 222.4,413.3 222.6,413 222.8,413 223,413.1 223.2,413 223.3,412.7 223.5,412.6 223.7,413.2 223.9,412.6 224.1,412.8 224.2,413.2 224.4,413.3 224.6,413.3 224.8,413.5 225,413.5 225.1,413.6 225.3,413.9 225.5,413 225.7,412.9 225.8,412.8 226,412.8 226.2,413.2 226.4,413.4 226.6,412.8 226.7,412.8 226.9,413.2 227.1,413.5 227.3,413.8 227.5,413.6 227.6,413.2 227.8,412.9 228,413 228.2,412.8 228.4,412.5 228.5,412.8 228.7,412.9 228.9,412.9 229.1,413 229.2,413.6 229.4,413.5 229.6,413.3 229.8,412.8 230,412.6 230.1,412.8 230.3,413 230.5,412.9 230.7,413 230.9,413.3 231,413.1 231.2,412.7 231.4,412.7 231.6,412.8 231.8,412.9 231.9,412.6 232.1,412.9 232.3,413.2 232.5,413 232.6,412.6 232.8,412.7 233,413 233.2,413.3 233.4,413.3 233.5,412.9 233.7,412.7 233.9,413.4 234.1,413.3 234.3,413.2 234.4,413 234.6,412.7 234.8,412.8 235,413.2 235.2,413.4 235.3,412.8 235.5,412 235.7,412.6 235.9,413.2 236,413.5 236.2,413.7 236.4,414.1 236.6,413.9 236.8,413.7 236.9,413.3 237.1,412.7 237.3,413.2 237.5,413.2 237.7,413 237.8,413.2 238,413.2 238.2,412.9 238.4,412.9 238.5,412.9 238.7,413 238.9,412.9 239.1,412.9 239.3,412.4 239.4,412.5 239.6,412.4 239.8,412.7 240,413.1 240.2,413.1 240.3,413 240.5,413.2 240.7,413.4 240.9,412.9 241.1,413 241.2,412.5 241.4,412.7 241.6,412.9 241.8,412.8 241.9,413.1 242.1,413.1 242.3,412.7 242.5,412.8 242.7,412.7 242.8,412.3 243,412.6 243.2,412.9 243.4,413.3 243.6,413 243.7,413.4 243.9,413.2 244.1,413.6 244.3,413.4 244.5,413.3 244.6,413.4 244.8,413.5 245,413.8 245.2,413.7 245.3,412.9 245.5,412.3 245.7,411.9 245.9,412.7 246.1,413.2 246.2,413.2 246.4,413 246.6,412.8 246.8,412.7 247,412.9 247.1,412.9 247.3,412.5 247.5,412.9 247.7,412.6 247.9,412.7 248,412.7 248.2,412.7 248.4,412.5 248.6,412.5 248.7,412.7 248.9,412.9 249.1,413.6 249.3,413.1 249.5,412.7 249.6,412.6 249.8,412.3 250,412 250.2,412.7 250.4,412.9 250.5,412.5 250.7,412.7 250.9,412.6 251.1,412.9 251.3,413.2 251.4,413.2 251.6,413.1 251.8,412.9 252,413.2 252.1,413 252.3,413.1 252.5,413.2 252.7,412.8 252.9,412.6 253,412.9 253.2,412.6 253.4,412.5 253.6,412.6 253.8,413.1 253.9,412.8 254.1,412.3 254.3,413.2 254.5,414 254.7,413.8 254.8,413 255,413 255.2,413.3 255.4,413.3 255.5,413 255.7,412.7 255.9,413.2 256.1,413.1 256.3,412.6 256.4,412.8 256.6,413 256.8,413.1 257,413.3 257.2,413.4 257.3,413.2 257.5,412.9 257.7,412.6 257.9,413.2 258.1,413.7 258.2,413.8 258.4,413.2 258.6,413.1 258.8,413.6 258.9,413.7 259.1,413.3 259.3,413.2 259.5,412.9 259.7,413 259.8,412.8 260,412.8 260.2,412.9 260.4,412.6 260.6,412.2 260.7,412.5 260.9,413 261.1,413 261.3,412.9 261.4,413.2 261.6,413.4 261.8,413.3 262,412.8 262.2,412.9 262.3,412.8 262.5,412.5 262.7,412.4 262.9,412.7 263.1,412.9 263.2,413.6 263.4,413.2 263.6,412.9 263.8,413 264,413.5 264.1,412.9 264.3,412.7 264.5,412.7 264.7,412.9 264.8,413.1 265,413.2 265.2,412.6 265.4,413 265.6,413.5 265.7,413 265.9,412.8 266.1,412.4 266.3,412 266.5,412.8 266.6,413.3 266.8,412.8 267,412.4 267.2,412.9 267.4,413.2 267.5,413.4 267.7,413.4 267.9,413.1 268.1,412.9 268.2,412.6 268.4,413.2 268.6,413.4 268.8,413.6 269,413.6 269.1,413.2 269.3,413.1 269.5,412.8 269.7,412.6 269.9,413.2 270,413.5 270.2,413.4 270.4,413.8 270.4,414.4 270.7,413.1 270.9,416.4 271.2,414.2 271.3,413.9 271.5,414 271.6,413.6 271.8,413.4 272,413.3 272.2,413.3 272.4,412.9 272.5,412.6 272.7,413.1 272.9,412.7 273.1,412.8 273.3,413 273.4,412.9 273.6,412.7 273.8,413.3 274,413.4 274.2,413.5 274.3,413.4 274.5,412.5 274.7,411.9 274.9,412.9 275,413.6 275.2,413.5 275.4,412.9 275.6,412.9 275.8,412.9 275.9,412.4 276.1,412.5 276.3,412.9 276.5,413.4 276.7,413.1 276.8,413.4 277,413 277.2,412.7 277.4,413.4 277.6,413 277.7,413.3 277.9,413.6 278.1,412.9 278.3,412.6 278.4,413.2 278.6,413 278.8,412.5 279,412.5 279.2,412.9 279.3,413.2 279.5,413.1 279.7,413.4 279.9,413.8 280.1,413.8 280.2,413.7 280.4,413.4 280.6,412.7 280.8,413.3 281,413.2 281.1,412.9 281.3,412.5 281.5,412.2 281.7,412.5 281.8,412.7 282,412.5 282.2,412.5 282.4,412.8 282.6,413.1 282.7,413 282.9,413.1 283.1,413.4 283.3,413.1 283.5,413 283.6,412.8 283.8,413 284,413.1 284.2,413 284.4,412.8 284.5,412.6 284.7,412.7 284.9,412.9 285.1,413.4 285.2,413.3 285.4,412.8 285.6,413 285.8,413 286,413 286.1,412.7 286.3,412.6 286.5,413.2 286.7,413.1 286.9,412.4 287,412.2 287.2,412.5 287.4,412.5 287.6,412.8 287.7,413.3 287.9,413.5 288.1,413.2 288.3,413.5 288.5,413.5 288.6,412.8 288.8,412.5 289,413.2 289.2,413.6 289.4,414 289.5,413.8 289.7,413.6 289.9,413.5 290.1,412.9 290.3,412.9 290.4,413.1 290.6,413.6 290.8,413 291,412.2 291.1,413 291.3,412.9 291.5,413.1 291.7,413 291.9,413.1 292,413.3 292.2,413 292.4,412.9 292.6,413.4 292.8,413.3 292.9,413.1 293.1,413.2 293.3,413.1 293.5,413.6 293.7,413.3 293.8,413.2 294,413.1 294.2,412.6 294.4,412.5 294.5,413 294.7,413.3 294.9,413.5 295.1,413.2 295.3,412.8 295.4,413.2 295.6,413.5 295.8,413.5 296,413.1 296.2,412.8 296.3,413.2 296.5,413 296.7,412.9 296.9,412.6 297.1,413 297.2,413 297.4,413.5 297.6,413.8 297.8,413.5 297.9,412.6 298.1,412.5 298.3,412.7 298.5,413.2 298.7,413.2 298.8,413.1 299,413.2 299.2,413.3 299.4,413.5 299.6,413.6 299.7,413.2 299.9,412.9 300.1,412.3 300.3,412.3 300.5,412.5 300.6,412.6 300.8,413.1 301,413.3 301.2,412.9 301.3,412.7 301.5,412.8 301.7,412.9 301.9,412.9 302.1,413.1 302.2,413.2 302.4,413.2 302.6,413.3 302.8,413.1 303,413.2 303.1,413.6 303.3,413.3 303.5,413.3 303.7,413.1 303.9,412.8 304,412.7 304.2,412.7 304.4,412.8 304.6,412.8 304.7,412.9 304.9,413.3 305.1,413.2 305.3,413.4 305.5,413.3 305.6,413.2 305.8,412.9 306,413.3 306.2,414 306.4,413.7 306.5,413.4 306.7,413.3 306.9,413.2 307.1,412.6 307.3,412.6 307.4,413.1 307.6,413.3 307.8,412.9 308,412.8 308.1,412.8 308.3,412.8 308.5,412.4 308.7,412.4 308.9,412.6 309,412.3 309.2,412.4 309.4,412.6 309.6,412.6 309.8,412.9 309.9,412.9 310.1,412.8 310.3,412.6 310.5,412.7 310.6,413.1 310.8,413.1 311,412.9 311.2,413.1 311.4,413.1 311.5,413.2 311.7,413.5 311.9,413.1 312.1,413.1 312.3,413.1 312.4,412.8 312.6,412.6 312.8,413.1 313,413.2 313.2,413 313.3,413 313.5,412.9 313.7,412.7 313.9,412.8 314,412.4 314.2,412.6 314.4,412.4 314.6,412.8 314.8,413.1 314.9,412.9 315.1,412.8 315.3,413.1 315.5,412.9 315.7,412.8 315.8,413 316,413.5 316.2,413.4 316.4,413.1 316.6,412.7 316.7,412.9 316.9,412.7 317.1,412.9 317.3,412.9 317.4,413.3 317.6,412.8 317.8,413.3 318,413.2 318.2,412.4 318.3,412.9 318.5,413.5 318.7,413.3 318.9,412.5 319.1,412.5 319.2,412.4 319.4,412.4 319.6,412.8 319.8,413.5 320,413.2 320.1,412.9 320.3,412.9 320.5,413.2 320.7,413.2 320.8,412.9 321,413.2 321.2,412.7 321.4,412.8 321.6,413.3 321.7,413.5 321.9,413.1 322.1,413.2 322.3,413.5 322.5,413.4 322.6,413.5 322.8,413.5 323,413.2 323.2,413.3 323.4,413.3 323.5,413.2 323.7,413.3 323.9,412.4 324.1,412.6 324.2,413.4 324.4,413.2 324.6,412.8 324.8,413.1 325,413.3 325.1,413 325.3,413.1 325.5,413 325.7,412.9 325.9,413.1 326,413.2 326.2,412.7 326.4,412.8 326.6,413 326.8,412.5 326.9,412.4 327.1,413 327.3,413 327.5,412.9 327.6,412.9 327.8,413 328,413.7 328.2,412.9 328.4,412.6 328.5,412.4 328.7,412.8 328.9,413.4 329.1,413.2 329.3,413.1 329.4,413.1 329.6,413.5 329.8,413.1 330,412.7 330.2,413 330.3,413 330.5,413.1 330.7,413.1 330.9,413.1 331,412.9 331.2,412.5 331.4,412.5 331.6,413.1 331.8,413.1 331.9,413 332.1,412.6 332.3,412.1 332.5,412.5 332.7,413.2 332.8,412.8 333,412.6 333.2,412.4 333.4,412.6 333.5,412.8 333.7,412.8 333.9,412.8 334.1,412.7 334.3,412.7 334.4,412.9 334.6,413.1 334.8,413.1 335,413.5 335.2,413.2 335.3,413 335.5,412.9 335.7,413.1 335.9,412.6 336.1,412.2 336.2,412.5 336.4,412.9 336.6,412.8 336.8,413.3 336.9,412.9 337.1,412.4 337.3,412.9 337.5,413.4 337.7,412.7 337.8,412.5 338,413.1 338.2,413.6 338.4,413.4 338.6,413 338.7,413 338.9,413.2 339.1,413.6 339.3,413.8 339.5,413.3 339.6,413.3 339.8,413.1 340,413 340.2,412.6 340.3,412.7 340.5,412.9 340.7,412.8 340.9,413.1 341.1,412.9 341.2,412.9 341.4,412.9 341.6,412.9 341.8,413.1 342,413.7 342.1,414 342.3,412.9 342.5,412.9 342.7,412.8 342.9,412.7 343,412.9 343.2,412.7 343.4,413 343.6,413.1 343.7,412.5 343.9,412.9 344.1,413 344.3,412.8 344.5,413.1 344.6,413.1 344.8,413 345,413.2 345.2,412.7 345.4,413 345.5,412.8 345.7,412.6 345.9,412.7 346.1,412.9 346.3,413 346.4,412.5 346.6,412.7 346.8,413 347,413.3 347.1,412.9 347.3,413 347.5,412.5 347.7,412.9 347.9,413 348,413 348.2,412.6 348.4,412.1 348.6,412.4 348.8,413.2 348.9,413.1 349.1,412.8 349.3,413.1 349.5,412.7 349.7,412.5 349.8,412.6 350,413.4 350.2,413.6 350.4,412.9 350.5,413 350.7,413.5 350.9,413.5 351.1,412.4 351.3,412.8 351.4,413 351.6,412.6 351.8,412.9 352,413.1 352.2,413.1 352.3,412.9 352.5,413 352.7,412.9 352.9,413.1 353.1,413 353.2,412.7 353.4,412.6 353.6,413.5 353.8,413.6 353.9,413.3 354.1,412.8 354.3,412.9 354.5,413.5 354.7,413.3 354.8,412.8 355,412.9 355.2,413 355.4,412.8 355.6,412.8 355.7,413.3 355.9,413.3 356.1,412.8 356.3,412.3 356.5,412.6 356.6,413 356.8,413.2 357,413 357.2,413.3 357.3,413 357.5,412.4 357.7,411.8 357.9,412.1 358.1,412.3 358.2,412.8 358.4,413.2 358.6,413.4 358.8,413 359,412.8 359.1,413.6 359.3,413.3 359.5,412.9 359.7,412.7 359.8,412.6 360,413.1 360.2,413.3 360.4,413.6 360.6,413.6 360.7,413.5 360.9,413.4 361.1,413 361.3,412.8 361.5,412.8 361.6,412.5 361.8,412.7 362,412.9 362.2,413.1 362.4,412.8 362.5,412.3 362.7,412.9 362.9,413.2 363.1,412.4 363.2,412.5 363.4,412.8 363.6,412.5 363.8,412.7 364,412.8 364.1,412.6 364.3,413 364.5,413.1 364.7,412.7 364.9,413.1 365,413.5 365.2,413.3 365.4,413.4 365.6,413.5 365.7,413.7 366,412.3 366.3,414.8 366.6,412.8 366.9,414.1 367,413.1 367.2,413.4 367.4,413.7 367.5,413.5 367.7,413.7 367.9,413.6 368.1,413.3 368.3,413.2 368.4,413.1 368.6,413.3 368.8,413 369,412.8 369.2,412.9 369.3,413 369.5,413.2 369.7,413.1 369.9,412.6 370,412.7 370.2,413.1 370.4,413.2 370.6,413.4 370.8,414 370.9,413.6 371.1,413.2 371.3,413.4 371.5,413.6 371.7,413.1 371.8,412.5 372,412.8 372.2,413.3 372.4,413.5 372.6,412.8 372.7,413.3 372.9,413.2 373.1,413.3 373.3,413 373.4,413.2 373.6,413.4 373.8,413.3 374,413.4 374.2,413 374.3,412.8 374.5,412.8 374.7,412.8 374.9,413.1 375.1,413.3 375.2,412.6 375.4,412.3 375.6,413 375.8,413.7 376,413.7 376.1,413.7 376.3,413.5 376.5,412.9 376.7,412.7 376.8,412.1 377,412.6 377.2,413 377.4,412.3 377.6,412 377.7,412.4 377.9,413.1 378.1,413.7 378.3,414.2 378.5,413.6 378.6,412.4 378.8,412.1 379,412.9 379.2,413.2 379.4,412.5 379.5,412.6 379.7,412.8 379.9,413 380.1,413 380.2,413.3 380.4,413.4 380.6,413.3 380.8,413.5 381,413.7 381.1,412.8 381.3,412.6 381.5,413.3 381.7,413.7 381.9,413.4 382,413.4 382.2,413.2 382.4,413.2 382.6,413 382.7,413.2 382.9,413.3 383.1,413.4 383.3,413.7 383.5,413.5 383.6,413.1 383.8,413.1 384,412.7 384.2,413.5 384.4,414.1 384.5,413.6 384.7,413.3 384.9,413.2 385.1,413.3 385.3,413.1 385.4,413.2 385.6,413 385.8,412.9 386,413.1 386.1,412.9 386.3,412.7 386.5,413.6 386.7,413.2 386.9,412.6 387,413.2 387.2,413.2 387.4,413.2 387.6,413.2 387.8,412.5 387.9,412 388.1,412.7 388.3,413.2 388.5,413.3 388.7,412.9 388.8,412.9 389,413.1 389.2,413 389.4,413 389.5,413 389.7,412.9 389.9,413.4 390.1,412.9 390.3,412.9 390.4,412.9 390.6,412.9 390.8,413.3 391,413.6 391.2,413.7 391.3,413.4 391.5,413.1 391.7,413.1 391.9,412.7 392.1,413 392.2,413.3 392.4,413.2 392.6,412.6 392.8,412.6 392.9,413.4 393.1,412.9 393.3,412.3 393.5,412.5 393.7,413.1 393.8,413.4 394,413.3 394.2,413.5 394.4,413.3 394.6,413.3 394.7,413.4 394.9,413.1 395.1,413.1 395.3,412.9 395.5,412.9 395.6,413.1 395.8,412.9 396,412.9 396.2,412.8 396.3,412.9 396.5,413 396.7,413.4 396.9,413.2 397.1,413.3 397.2,413.3 397.4,412.1 397.6,412 397.8,412 398,412.8 398.1,413.2 398.3,413.3 398.5,413.1 398.7,413 398.9,413.5 399,413.3 399.2,412.8 399.4,412.7 399.6,413 399.7,412.9 399.9,412.8 400.1,413.1 400.3,413 400.5,412.9 400.6,413.2 400.8,412.7 401,412.6 401.2,413 401.4,413.1 401.5,413 401.7,412.9 401.9,412.9 402.1,412.7 402.3,412.5 402.4,413 402.6,412.7 402.8,412.9 403,413.2 403.1,413.4 403.3,413.8 403.5,412.8 403.7,412.6 403.9,413.1 404,413.4 404.2,412.9 404.4,412.6 404.6,413.1 404.8,412.8 404.9,412.9 405.1,413.2 405.3,412.8 405.5,412.8 405.6,413.1 405.8,413 406,413 406.2,412.7 406.4,412.7 406.5,412.5 406.7,412.6 406.9,413.5 407.1,413.4 407.3,413.2 407.4,412.8 407.6,412.9 407.8,412.8 408,412.6 408.2,412.9 408.3,412.8 408.5,412.7 408.7,412.6 408.9,413.2 409,413.4 409.2,413.1 409.4,412.7 409.6,412.9 409.8,413.3 409.9,413.1 410.1,413.1 410.3,413 410.5,412.8 410.7,413.2 410.8,412.5 411,412.8 411.2,412.8 411.4,412.5 411.6,413 411.7,413.2 411.9,413 412.1,412.8 412.3,413.2 412.4,413.4 412.6,413.4 412.8,413.7 413,413.6 413.2,413.5 413.3,413.5 413.5,412.9 413.7,412.8 413.9,413.2 414.1,413.4 414.2,413.7 414.4,413.6 414.6,413.2 414.8,413.1 415,412.9 415.1,412.8 415.3,412.9 415.5,413.2 415.7,412.9 415.8,412.9 416,413 416.2,412.8 416.4,412.6 416.6,412.3 416.7,412.9 416.9,413 417.1,413.1 417.3,413 417.5,412.7 417.6,413.6 417.8,413.4 418,412.9 418.2,412.5 418.4,413.1 418.5,413.2 418.7,413 418.9,413.2 419.1,413.5 419.2,413 419.4,412.9 419.6,413.4 419.8,413.3 420,413.3 420.1,413.8 420.3,413.4 420.5,413.1 420.7,413.1 420.9,413 421,413.1 421.2,413.1 421.4,412.9 421.6,413 421.8,413.2 421.9,413.3 422.1,413.4 422.3,413.4 422.5,413.3 422.6,413.2 422.8,413 423,413.1 423.2,413.2 423.4,412.6 423.5,413.3 423.7,413.9 423.9,413 424.1,413.2 424.3,412.7 424.4,413.2 424.6,413.8 424.8,413.6 425,412.8 425.2,412.4 425.3,412.5 425.5,413.1 425.7,413 425.9,413 426,413.2 426.2,413.3 426.4,413.3 426.6,413 426.8,412.7 426.9,413 427.1,412.4 427.3,413.1 427.5,412.9 427.7,412.8 427.8,412.8 428,412.8 428.2,412.9 428.4,412.8 428.5,412.7 428.7,413.1 428.9,413.1 429.1,413.4 429.3,413 429.4,412.8 429.6,413.2 429.8,413.2 430,412.7 430.2,412.9 430.3,413.2 430.5,412.6 430.7,412.4 430.9,412.6 431.1,412 431.2,411.4 431.4,411.7 431.5,411.9 431.8,410.6 432.1,411.9 432.4,410.2 432.7,411.8 432.8,412.4 433,412.7 433.2,412.6 433.4,412.8 433.6,412.8 433.7,412.6 433.9,413.1 434.1,412.8 434.3,412.8 434.5,412.9 434.6,413.1 434.8,413.2 435,413.2 435.2,413.5 435.3,413.2 435.5,412.6 435.7,412 435.9,412.6 436.1,412.8 436.2,412.6 436.4,412.7 436.6,413.2 436.8,413.6 437,413.9 437.1,413.5 437.3,412.9 437.5,412.9 437.7,412.7 437.9,413.2 438,413.2 438.2,412.8 438.4,412.9 438.6,412.9 438.7,412.9 438.9,413.7 439.1,414.3 439.3,413.8 439.5,413.5 439.6,413.2 439.8,413.2 440,413.7 440.2,413.2 440.4,413.1 440.5,413.1 440.7,413.2 440.9,413.1 441.1,413.1 441.3,412.7 441.4,413 441.6,413.4 441.8,412.8 442,412.8 442.1,413.4 442.3,413.4 442.5,413.2 442.7,412.4 442.9,412.7 443,412.5 443.2,412.5 443.4,413.1 443.6,413.3 443.8,412.5 443.9,412.4 444.1,412.7 444.3,412.8 444.5,412.8 444.7,413.7 444.8,413.4 445,412.9 445.2,413.1 445.4,414 445.5,414 445.7,413.1 445.9,413.2 446.1,413.3 446.3,412.7 446.4,412.8 446.6,413.3 446.8,412.9 447,412.6 447.2,412.4 447.3,412.7 447.5,413.1 447.7,412.7 447.9,412.4 448.1,412.9 448.2,413.5 448.4,413.2 448.6,412.9 448.8,413 448.9,413.2 449.1,412.9 449.3,412.5 449.5,412.9 449.7,413.1 449.8,413.1 450,412.8 450.2,413.2 450.4,412.8 450.6,412.5 450.7,413.2 450.9,413 451.1,413.1 451.3,413.1 451.5,413.5 451.6,413.6 451.8,413.6 452,413.2 452.2,412.4 452.3,412.3 452.5,412.8 452.7,412.8 452.9,413.1 453.1,413 453.2,412.4 453.4,412.4 453.6,412.4 453.8,412.6 454,412.9 454.1,413.4 454.3,413.4 454.5,412.8 454.7,412.9 454.8,413.6 455,413.5 455.2,412.9 455.4,412.1 455.6,412.4 455.7,412.9 455.9,413 456.1,413.6 456.3,413.3 456.5,413 456.6,412.5 456.8,412.5 457,412.6 457.2,412.7 457.4,412.9 457.5,413.1 457.7,413.2 457.9,413.2 458.1,412.7 458.2,412.9 458.4,413.3 458.6,413.5 458.8,413.1 459,413 459.1,412.8 459.3,413.1 459.5,413.1 459.7,412.8 459.9,412.8 460,413 460.2,413.1 460.4,412.8 460.6,413.1 460.8,413.2 460.9,413.8 461.1,413.7 461.3,413 461.5,413 461.6,413.8 461.8,413.5 462,413.2 462.2,412.9 462.4,413 462.5,413.3 462.7,413.2 462.9,412.9 463.1,413.4 463.3,413.1 463.4,412.8 463.6,413.2 463.8,413.1 464,413.2 464.2,412.9 464.3,412.9 464.5,412.5 464.7,412.8 464.9,412.6 465,412.6 465.2,412.2 465.4,412.8 465.6,413.3 465.8,413.4 465.9,413.3 466.1,412.9 466.3,413.6 466.5,413.6 466.7,412.7 466.8,412.5 467,412.7 467.2,412.9 467.4,412.8 467.6,412.3 467.7,412.9 467.9,412.9 468.1,412.7 468.3,413.2 468.4,413.1 468.6,413.4 468.8,413.3 469,413.1 469.2,413.4 469.3,413.3 469.5,412.7 469.7,412.3 469.9,412.7 470.1,413.1 470.2,413.2 470.4,413.6 470.6,413.3 470.8,413.1 471,413.1 471.1,412.7 471.3,412.8 471.5,412.5 471.7,411.9 471.8,412.2 472,413 472.2,412.9 472.4,412.7 472.6,412.4 472.7,412.7 472.9,413.2 473.1,413.1 473.3,413 473.5,413.4 473.6,413.1 473.8,413 474,413.1 474.2,412.6 474.4,412.9 474.5,412.6 474.7,412.5 474.9,412.7 475.1,413 475.2,413.1 475.4,413.1 475.6,413.3 475.8,413.7 476,413.8 476.1,413.5 476.3,413.3 476.5,412.8 476.7,412.7 476.9,413.1 477,413.2 477.2,413.1 477.4,412.8 477.6,413.5 477.7,412.9 477.9,413 478.1,413.2 478.3,412.6 478.5,412.4 478.6,412.1 478.8,412.1 479,412.2 479.2,412.9 479.4,413.1 479.5,413.1 479.7,413.5 479.9,413.6 480.1,413.1 480.3,412.9 480.4,412.8 480.6,413 480.8,413.4 481,413.2 481.1,412.9 481.3,412.9 481.5,413.1 481.7,413 481.9,413.1 482,413.2 482.2,413.6 482.4,413.4 482.6,412.6 482.8,412.9 482.9,413.2 483.1,413 483.3,413.3 483.5,413.3 483.7,413.2 483.8,413.1 484,413.2 484.2,413.1 484.4,412.6 484.5,412.5 484.7,412.9 484.9,413.7 485.1,413.5 485.3,413.4 485.4,413.3 485.6,413.1 485.8,413.1 486,413.5 486.2,413.4 486.3,413.8 486.5,413.5 486.7,413.2 486.9,413.1 487.1,413.1 487.2,413.3 487.4,413.8 487.6,413.9 487.8,412.9 487.9,413.1 488.1,413.2 488.3,412.7 488.5,412.6 488.7,412.5 488.8,412.2 489,412.9 489.2,413.1 489.4,413 489.6,413 489.7,413.4 489.9,413.8 490.1,413.4 490.3,413.2 490.5,413 490.6,413 490.8,412.9 491,412.8 491.2,412.6 491.3,412.7 491.5,413.1 491.7,413.4 491.9,413.2 492.1,412.9 492.2,412.8 492.4,412.3 492.6,413 492.8,413.1 493,413.2 493.1,413.4 493.3,413.1 493.5,413.2 493.7,413 493.9,413.1 494,413 494.2,413.2 494.4,413.5 494.6,412.9 494.7,412.7 494.9,412.9 495.1,413.4 495.3,413.9 495.5,412.9 495.6,412.2 495.8,412.4 496,412.4 496.2,412.7 496.4,412.9 496.5,412.6 496.7,412.5 496.9,412.3 497.1,412.8 497.3,412.9 497.4,413.4 497.6,413.4 497.8,412.8 498,412.8 498.1,413.1 498.3,413.1 498.5,412.5 498.7,413 498.9,413.6 499,413.2 499.2,413.1 499.4,412.9 499.6,412.7 499.8,413.2 499.9,413.2 500.1,413.2 500.3,413.4 500.5,413.2 500.6,412.5 500.8,412.9 501,412.9 501.2,412.9 501.4,412.7 501.5,412.8 501.7,413.2 501.9,413.1 502.1,412.9 502.3,412.9 502.4,413 502.6,412.8 502.8,412.1 503,412.5 503.2,412.9 503.3,413.4 503.5,413.5 503.7,413.1 503.9,413.6 504,413.3 504.2,413.1 504.4,412.8 504.6,412.9 504.8,413.4 504.9,413.1 505.1,413.1 505.3,413.6 505.5,413.6 505.7,412.7 505.8,412.8 506,413.2 506.2,413.9 506.4,414.1 506.6,413.3 506.7,413.3 506.9,413.5 507.1,413.5 507.3,413.2 507.4,413.2 507.6,412.6 507.8,411.9 508,412.3 508.2,413.1 508.3,413.1 508.5,412.2 508.7,412.2 508.9,412.5 509.1,412 509.2,413 509.4,413.1 509.6,412.3 509.8,413 510,413.2 510.1,413.5 510.3,413.3 510.5,413 510.7,413.2 510.8,413.4 511,413.2 511.2,412.9 511.4,412.7 511.6,413.1 511.7,413.3 511.9,413.7 512.1,413.3 512.3,413 512.5,412.9 512.6,413.2 512.8,413 513,413 513.2,413.7 513.4,413.8 513.5,413 513.7,412.8 513.9,413.2 514.1,413.2 514.2,413.9 514.4,413.5 514.6,413.2 514.8,412.8 515,413 515.1,413.5 515.3,413.3 515.5,413.2 515.7,413.9 515.9,413.6 516,413 516.2,412.8 516.4,413.1 516.6,413.4 516.8,413 516.9,412.9 517.1,413 517.3,413.4 517.5,413.3 517.6,413.4 517.8,413.3 518,413 518.2,413.4 518.4,413.3 518.5,412.9 518.7,413.6 518.9,414.3 519.1,413.5 519.3,413.1 519.4,412.8 519.6,413 519.8,413 520,413.3 520.2,413 520.3,412.8 520.5,413.3 520.7,413 520.9,412.7 521,412.9 521.2,412.8 521.4,413.1 521.6,413.1 521.8,413 521.9,413.1 522.1,412.8 522.3,413 522.5,412.7 522.7,413.4 522.8,413.3 523,412.9 523.2,412.9 523.4,413.2 523.6,413.1 523.7,413.1 523.9,413.4 524.1,413 524.3,413 524.4,413.3 524.6,413.5 524.8,413.2 525,413.1 525.2,413.2 525.3,413.5 525.5,413.6 525.7,412.9 525.9,412.9 526.1,413.1 526.2,413.4 526.4,413.7 526.6,413.3 526.8,413.3 526.9,413.3 527.1,412.7 527.3,412.6 527.5,412.8 527.7,413.1 527.8,413.1 528,413.1 528.2,413.5 528.4,413 528.6,413.1 528.7,413.5 528.9,413.5 529.1,413.2 529.3,413.3 529.5,413.4 529.6,413.2 529.8,413.2 530,412.9 530.2,412.8 530.3,412.4 530.5,412.5 530.7,412.7 530.9,413.3 531.1,413.1 531.2,413 531.4,412.8 531.6,412.9 531.8,412.9 532,412.9 532.1,413.1 532.3,412.7 532.5,413.4 532.7,413.9 532.9,413.1 533,412.8 533.2,412.5 533.4,412.7 533.6,412.6 533.7,413 533.9,412.8 534.1,412.2 534.3,412.2 534.5,412.3 534.6,412.9 534.8,413.3 535,412.9 535.2,412.5 535.4,412.6 535.5,412.7 535.7,412.3 535.9,413 536.1,413 536.3,412.4 536.4,413 536.6,412.6 536.8,412.9 537,413.2 537.1,412.4 537.3,412.1 537.5,412.3 537.7,412.5 537.9,412.8 538,412.8 538.2,412.7 538.4,412.8 538.6,412.8 538.8,412.8 538.9,413 539.1,412.9 539.3,412.9 539.5,413.4 539.7,412.9 539.8,413 540,412.9 540.2,413.1 540.4,413.3 540.5,413.5 540.7,413.5 540.9,413.2 541.1,413.9 541.3,413.4 541.4,412.6 541.6,412.7 541.8,413.9 542,413.9 542.2,413.3 542.3,413.4 542.5,413.6 542.7,413.2 542.9,412.9 543.1,413.1 543.2,413.3 543.4,413 543.6,412.7 543.8,413 543.9,412.5 544.1,412.7 544.3,413.4 544.5,413.3 544.7,413.2 544.8,413.2 545,413.4 545.2,412.9 545.4,412.4 545.6,412.6 545.7,411.8 545.9,412.2 546.1,413.5 546.3,413.5 546.5,413 546.6,413 546.8,413.2 547,413.3 547.2,412.8 547.3,412.6 547.5,412.7 547.7,413 547.9,413.1 548.1,413 548.2,413.1 548.4,412.8 548.6,412.8 548.8,412.7 549,412.8 549.1,413.3 549.3,413 549.5,412.7 549.7,412.8 549.8,412.8 550,413.2 550.2,413.5 550.4,413.4 550.6,412.8 550.7,413.1 550.9,413.6 551.1,413.3 551.3,413.6 551.5,413.5 551.6,412.9 551.8,413.4 552,413.5 552.2,413.6 552.4,413.8 552.5,413.4 552.7,413.2 552.9,413.2 553.1,413 553.2,412.9 553.4,412.6 553.6,413.3 553.8,413.1 554,413.2 554.1,413.2 554.3,413.1 554.5,413.1 554.7,412.9 554.9,412.4 555,412.8 555.2,413.3 555.4,412.7 555.6,412.8 555.8,413.8 555.9,413.9 556.1,413.7 556.3,413.2 556.5,413.2 556.6,413.4 556.8,413.3 557,412.9 557.2,412.5 557.4,412.5 557.5,412.6 557.7,413.4 557.9,413.1 558.1,413 558.3,413.1 558.4,413.1 558.6,413.1 558.8,412.7 559,412.6 559.2,413.4 559.3,412.9 559.5,412.7 559.7,412.6 559.9,412.8 560,413.1 560.2,413.2 560.4,412.8 560.6,412.9 560.8,413 560.9,413.2 561.1,412.8 561.3,413 561.5,413.1 561.7,412.7 561.8,412.9 562,413 562.2,412.7 562.4,413 562.6,413.4 562.7,413.2 562.9,412.9 563.1,412.9 563.3,413.3 563.4,413.6 563.6,413.5 563.8,413.5 564,413.4 564.2,412.5 564.3,412.1 564.5,412.2 564.7,412.8 564.9,412.3 565.1,412.8 565.2,413.1 565.4,412.6 565.6,412.6 565.8,412.9 566,413.1 566.1,412.6 566.3,413 566.5,413.3 566.7,413.1 566.8,413.2 567,413.5 567.2,413.2 567.4,413 567.6,413 567.7,413.2 567.9,413.1 568.1,413.2 568.3,413.2 568.5,413.3 568.6,412.9 568.8,413 569,413.2 569.2,413.3 569.4,413.5 569.5,413.4 569.7,413.6 569.9,413.8 570.1,413.4 570.2,412.6 570.4,412.5 570.6,413 570.8,413 571,413 571.1,413.1 571.3,413.5 571.5,413.4 571.7,412.8 571.9,412.9 572,412.8 572.2,412.6 572.4,413.1 572.6,413.1 572.7,413.4 572.9,414 573.1,413.8 573.3,413.5 573.5,412.9 573.6,412.7 573.8,413.3 574,413 574.2,412.9 574.4,412.9 574.5,413.3 574.7,413.8 574.9,413.1 575.1,412.9 575.3,413.1 575.4,413 575.6,412.4 575.8,412.2 576,412.6 576.1,412.8 576.3,412.6 576.5,412.5 576.7,412.5 576.9,412.7 577,412.7 577.2,412.4 577.4,412.7 577.6,413 577.8,412.8 577.9,412.5 578.1,412.7 578.3,413 578.5,413.1 578.7,412.6 578.8,413 579,412.9 579.2,413.1 579.4,413.1 579.5,412.7 579.7,412.6 579.9,412.9 580.1,413.2 580.3,412.7 580.4,412.4 580.6,412.6 580.8,413.2 581,413.3 581.2,412.9 581.3,412.8 581.5,412.9 581.7,412.8 581.9,412.6 582.1,412.8 582.2,413 582.4,413 582.6,412.9 582.8,412.6 582.9,412.6 583.1,412.8 583.3,413.4 583.5,413.6 583.7,413.4 583.8,413.5 584,413 584.2,412.7 584.4,412.5 584.6,412.9 584.7,412.9 584.9,413 585.1,413.1 585.3,412.8 585.5,412.6 585.6,412.8 585.8,413 586,413.1 586.2,413.2 586.3,413 586.5,413.1 586.7,413.6 586.9,413.5 587.1,413 587.2,412.6 587.4,412.8 587.6,413.2 587.8,413.6 588,413.8 588.1,413.2 588.3,413 588.5,412.9 588.7,412.9 588.9,412.8 589,412.7 589.2,413.2 589.4,413.3 589.6,413.4 589.7,413 589.9,413.1 590.1,413 590.3,412.3 590.5,412.4 590.6,413.1 590.8,412.9 591,412.3 591.2,412.4 591.4,412.5 591.5,412.9 591.7,413.4 591.9,413.2 592.1,413.6 592.3,413.1 592.4,412.9 592.6,413.5 592.8,413.6 593,413.8 593.1,413.9 593.3,413.7 593.5,413.3 593.7,412.5 593.9,412.6 594,413.1 594.2,413.2 594.4,413.2 594.6,413.1 594.8,413.5 594.9,413.9 595.1,413.5 595.3,413.4 595.5,413.4 595.7,413.4 595.8,413.1 596,412.9 596.2,413 596.4,412.9 596.5,412.6 596.7,412.9 596.9,413.1 597.1,413 597.3,412.9 597.4,413.2 597.6,413.2 597.8,412.9 598,413.1 598.2,413.4 598.3,413.3 598.5,412.7 598.7,412.6 598.9,412.8 599,413 599.2,413.6 599.4,412.9 599.6,412.7 599.8,413.1 599.9,412.7 600.1,412.2 600.3,412.6 600.5,412.6 600.7,412.5 600.8,412.3 601,412.5 601.2,412.8 601.4,412.8 601.6,412.5 601.7,412.5 601.9,412.6 602.1,412.9 602.3,412.8 602.4,412.6 602.6,413 602.8,412.9 603,412.9 603.2,412.7 603.3,413 603.5,413 603.7,413 603.9,413.2 604.1,413.2 604.2,413.1 604.4,412.9 604.6,412.6 604.8,412.6 605,412 605.1,412 605.3,412.6 605.5,413 605.7,413.5 605.8,413.5 606,413.4 606.2,413 606.4,413.2 606.6,413.5 606.7,413.3 606.9,413.2 607.1,412.9 607.3,412.6 607.5,412.4 607.6,412.5 607.8,412.9 608,412.9 608.2,412.8 608.4,413 608.5,412.9 608.7,413.5 608.9,413.8 609.1,413.3 609.2,412.6 609.4,412.6 609.6,413.5 609.8,413.2 610,412.8 610.1,413 610.3,412.5 610.5,412.6 610.7,412.8 610.9,412.7 611,412.8 611.2,413.6 611.4,413.2 611.6,413.1 611.8,412.9 611.9,412.4 612.1,412.7 612.3,413.1 612.5,413.3"/>
<g stroke="#444" stroke-width="1.5"><line x1="104.9" y1="386" x2="104.9" y2="399.2"/><line x1="132.8" y1="386" x2="132.8" y2="399.2"/><line x1="152.1" y1="386" x2="152.1" y2="399.2"/><line x1="270.9" y1="386" x2="270.9" y2="399.2"/><line x1="366.3" y1="386" x2="366.3" y2="399.2"/><line x1="432.1" y1="386" x2="432.1" y2="399.2"/><line x1="469.2" y1="386" x2="469.2" y2="399.2"/><line x1="485.8" y1="386" x2="485.8" y2="399.2"/><line x1="497.8" y1="386" x2="497.8" y2="399.2"/><line x1="534.2" y1="386" x2="534.2" y2="399.2"/><line x1="580.4" y1="386" x2="580.4" y2="399.2"/></g>
<g stroke="#111" stroke-width="2" fill="none">
<path d="M34.2 1.5 V428.3 M33.2 427.3 H613.3"/>
<line x1="34" y1="407.6" x2="42.8" y2="407.6"/><line x1="34" y1="387.4" x2="38.5" y2="387.4"/><line x1="34" y1="367.1" x2="42.8" y2="367.1"/><line x1="34" y1="346.8" x2="38.5" y2="346.8"/><line x1="34" y1="326.5" x2="42.8" y2="326.5"/><line x1="34" y1="306.3" x2="38.5" y2="306.3"/><line x1="34" y1="286" x2="42.8" y2="286"/><line x1="34" y1="265.7" x2="38.5" y2="265.7"/><line x1="34" y1="245.5" x2="42.8" y2="245.5"/><line x1="34" y1="225.2" x2="38.5" y2="225.2"/><line x1="34" y1="204.9" x2="42.8" y2="204.9"/><line x1="34" y1="184.7" x2="38.5" y2="184.7"/><line x1="34" y1="164.4" x2="42.8" y2="164.4"/><line x1="34" y1="144.1" x2="38.5" y2="144.1"/><line x1="34" y1="123.8" x2="42.8" y2="123.8"/><line x1="34" y1="103.6" x2="38.5" y2="103.6"/><line x1="34" y1="83.3" x2="42.8" y2="83.3"/><line x1="34" y1="63" x2="38.5" y2="63"/><line x1="34" y1="42.8" x2="42.8" y2="42.8"/><line x1="34" y1="22.5" x2="38.5" y2="22.5"/><line x1="34" y1="2.2" x2="42.8" y2="2.2"/><line x1="86.3" y1="419.2" x2="86.3" y2="427"/><line x1="138.9" y1="423" x2="138.9" y2="427"/><line x1="191.6" y1="419.2" x2="191.6" y2="427"/><line x1="244.2" y1="423" x2="244.2" y2="427"/><line x1="296.8" y1="419.2" x2="296.8" y2="427"/><line x1="349.4" y1="423" x2="349.4" y2="427"/><line x1="402" y1="419.2" x2="402" y2="427"/><line x1="454.7" y1="423" x2="454.7" y2="427"/><line x1="507.3" y1="419.2" x2="507.3" y2="427"/><line x1="559.9" y1="423" x2="559.9" y2="427"/><line x1="612.5" y1="419.2" x2="612.5" y2="427"/>
</g>
<g font-size="20.5" text-anchor="middle"><text x="86.3" y="453.8">30</text><text x="191.6" y="453.8">40</text><text x="296.8" y="453.8">50</text><text x="402" y="453.8">60</text><text x="507.3" y="453.8">70</text><text x="612.5" y="453.8">80</text></g>
<text font-size="20" x="259.5" y="479.3">2<tspan font-family="Liberation Serif" style="font-weight:normal" font-size="21">θ</tspan> (degree)</text>
<text font-size="20.3" transform="translate(16.9,290.3) rotate(-90)">Intensity (a.u.)</text>
<!-- inset -->
<svg x="0" y="0" width="482" height="486" overflow="hidden">
<g fill="none" stroke="#8c8c8c" stroke-width="0.65"><circle cx="205.8" cy="195.3" r="1.5"/><circle cx="209.3" cy="195.3" r="1.5"/><circle cx="212.8" cy="196.2" r="1.5"/><circle cx="216.4" cy="195.2" r="1.5"/><circle cx="219.9" cy="196.4" r="1.5"/><circle cx="223.4" cy="194.7" r="1.5"/><circle cx="226.9" cy="195.4" r="1.5"/><circle cx="230.4" cy="194.5" r="1.5"/><circle cx="234" cy="194.9" r="1.5"/><circle cx="237.5" cy="194.1" r="1.5"/><circle cx="241" cy="194.4" r="1.5"/><circle cx="244.5" cy="194" r="1.5"/><circle cx="248" cy="193.6" r="1.5"/><circle cx="251.5" cy="193.7" r="1.5"/><circle cx="255.1" cy="193.8" r="1.5"/><circle cx="258.6" cy="192.3" r="1.5"/><circle cx="262.1" cy="192.5" r="1.5"/><circle cx="265.6" cy="191.4" r="1.5"/><circle cx="269.1" cy="190.6" r="1.5"/><circle cx="272.7" cy="190.8" r="1.5"/><circle cx="276.2" cy="187.1" r="1.5"/><circle cx="279.7" cy="188.3" r="1.5"/><circle cx="283.2" cy="183.3" r="1.5"/><circle cx="286.7" cy="182.9" r="1.5"/><circle cx="290.3" cy="179.6" r="1.5"/><circle cx="293.8" cy="179.4" r="1.5"/><circle cx="297.3" cy="168.6" r="1.5"/><circle cx="300.8" cy="161.4" r="1.5"/><circle cx="304.3" cy="146.2" r="1.5"/><circle cx="307.9" cy="128.2" r="1.5"/><circle cx="311.4" cy="109.3" r="1.5"/><circle cx="314.9" cy="85.4" r="1.5"/><circle cx="318.4" cy="58" r="1.5"/><circle cx="321.9" cy="41.3" r="1.5"/><circle cx="325.4" cy="34" r="1.5"/><circle cx="329" cy="39.2" r="1.5"/><circle cx="332.5" cy="59.5" r="1.5"/><circle cx="336" cy="84.4" r="1.5"/><circle cx="339.5" cy="107.9" r="1.5"/><circle cx="343" cy="128.2" r="1.5"/><circle cx="346.6" cy="145.4" r="1.5"/><circle cx="350.1" cy="158.9" r="1.5"/><circle cx="353.6" cy="167.3" r="1.5"/><circle cx="357.1" cy="175.6" r="1.5"/><circle cx="360.6" cy="178.5" r="1.5"/><circle cx="364.2" cy="183.4" r="1.5"/><circle cx="367.7" cy="184.8" r="1.5"/><circle cx="371.2" cy="185.7" r="1.5"/><circle cx="374.7" cy="189.6" r="1.5"/><circle cx="378.2" cy="189" r="1.5"/><circle cx="381.8" cy="190.8" r="1.5"/><circle cx="385.3" cy="191.1" r="1.5"/><circle cx="388.8" cy="191.6" r="1.5"/><circle cx="392.3" cy="192.9" r="1.5"/><circle cx="395.8" cy="192.7" r="1.5"/><circle cx="399.3" cy="193" r="1.5"/><circle cx="402.9" cy="193.5" r="1.5"/><circle cx="406.4" cy="194.1" r="1.5"/><circle cx="409.9" cy="195.7" r="1.5"/><circle cx="413.4" cy="193.6" r="1.5"/><circle cx="416.9" cy="194.8" r="1.5"/><circle cx="420.5" cy="194.9" r="1.5"/><circle cx="424" cy="195.7" r="1.5"/><circle cx="427.5" cy="195.2" r="1.5"/><circle cx="431" cy="194.3" r="1.5"/><circle cx="434.5" cy="196.3" r="1.5"/><circle cx="438.1" cy="195.2" r="1.5"/><circle cx="441.6" cy="195.8" r="1.5"/><circle cx="445.1" cy="195.3" r="1.5"/><circle cx="448.6" cy="195.5" r="1.5"/><circle cx="452.1" cy="195.9" r="1.5"/><circle cx="455.6" cy="196.6" r="1.5"/><circle cx="459.2" cy="196.7" r="1.5"/><circle cx="462.7" cy="196.1" r="1.5"/><circle cx="466.2" cy="196.7" r="1.5"/><circle cx="469.7" cy="196.3" r="1.5"/><circle cx="473.2" cy="196.6" r="1.5"/></g>
<polyline fill="none" stroke="#f07070" stroke-width="1.1" points="205.8,196 206.6,196 207.5,195.9 208.3,195.9 209.1,195.9 209.9,195.9 210.8,195.8 211.6,195.8 212.4,195.8 213.3,195.8 214.1,195.7 214.9,195.7 215.7,195.7 216.6,195.6 217.4,195.6 218.2,195.6 219,195.6 219.9,195.5 220.7,195.5 221.5,195.5 222.4,195.4 223.2,195.4 224,195.4 224.8,195.3 225.7,195.3 226.5,195.2 227.3,195.2 228.2,195.2 229,195.1 229.8,195.1 230.6,195 231.5,195 232.3,194.9 233.1,194.9 234,194.9 234.8,194.8 235.6,194.8 236.4,194.7 237.3,194.7 238.1,194.6 238.9,194.5 239.7,194.5 240.6,194.4 241.4,194.4 242.2,194.3 243.1,194.2 243.9,194.2 244.7,194.1 245.5,194 246.4,194 247.2,193.9 248,193.8 248.9,193.7 249.7,193.6 250.5,193.6 251.3,193.5 252.2,193.4 253,193.3 253.8,193.2 254.7,193.1 255.5,193 256.3,192.9 257.1,192.8 258,192.7 258.8,192.5 259.6,192.4 260.4,192.3 261.3,192.2 262.1,192 262.9,191.9 263.8,191.8 264.6,191.6 265.4,191.4 266.2,191.3 267.1,191.1 267.9,190.9 268.7,190.7 269.6,190.6 270.4,190.4 271.2,190.1 272,189.9 272.9,189.7 273.7,189.5 274.5,189.2 275.4,189 276.2,188.7 277,188.4 277.8,188.1 278.7,187.8 279.5,187.4 280.3,187 281.1,186.7 282,186.3 282.8,185.8 283.6,185.3 284.5,184.8 285.3,184.3 286.1,183.7 286.9,183.1 287.8,182.4 288.6,181.7 289.4,180.9 290.3,180 291.1,179.1 291.9,178 292.7,176.9 293.6,175.7 294.4,174.4 295.2,172.9 296.1,171.3 296.9,169.6 297.7,167.8 298.5,165.7 299.4,163.6 300.2,161.2 301,158.6 301.8,155.9 302.7,152.9 303.5,149.7 304.3,146.3 305.2,142.7 306,138.8 306.8,134.7 307.6,130.3 308.5,125.8 309.3,121 310.1,116 311,110.8 311.8,105.4 312.6,99.8 313.4,94.2 314.3,88.4 315.1,82.5 315.9,76.7 316.8,70.9 317.6,65.2 318.4,59.7 319.2,54.5 320.1,49.6 320.9,45.3 321.7,41.4 322.5,38.2 323.4,35.8 324.2,34.1 325,33.2 325.9,33.2 326.7,34.1 327.5,35.8 328.3,38.2 329.2,41.4 330,45.3 330.8,49.6 331.7,54.5 332.5,59.7 333.3,65.2 334.1,70.9 335,76.7 335.8,82.5 336.6,88.4 337.5,94.2 338.3,99.8 339.1,105.4 339.9,110.8 340.8,116 341.6,121 342.4,125.8 343.2,130.3 344.1,134.7 344.9,138.8 345.7,142.7 346.6,146.3 347.4,149.7 348.2,152.9 349,155.9 349.9,158.6 350.7,161.2 351.5,163.6 352.4,165.7 353.2,167.8 354,169.6 354.8,171.3 355.7,172.9 356.5,174.4 357.3,175.7 358.2,176.9 359,178 359.8,179.1 360.6,180 361.5,180.9 362.3,181.7 363.1,182.4 363.9,183.1 364.8,183.7 365.6,184.3 366.4,184.8 367.3,185.3 368.1,185.8 368.9,186.3 369.7,186.7 370.6,187 371.4,187.4 372.2,187.8 373.1,188.1 373.9,188.4 374.7,188.7 375.5,189 376.4,189.2 377.2,189.5 378,189.7 378.9,189.9 379.7,190.1 380.5,190.4 381.3,190.6 382.2,190.7 383,190.9 383.8,191.1 384.6,191.3 385.5,191.4 386.3,191.6 387.1,191.8 388,191.9 388.8,192 389.6,192.2 390.4,192.3 391.3,192.4 392.1,192.5 392.9,192.7 393.8,192.8 394.6,192.9 395.4,193 396.2,193.1 397.1,193.2 397.9,193.3 398.7,193.4 399.6,193.5 400.4,193.6 401.2,193.6 402,193.7 402.9,193.8 403.7,193.9 404.5,194 405.3,194 406.2,194.1 407,194.2 407.8,194.2 408.7,194.3 409.5,194.4 410.3,194.4 411.1,194.5 412,194.5 412.8,194.6 413.6,194.7 414.5,194.7 415.3,194.8 416.1,194.8 416.9,194.9 417.8,194.9 418.6,194.9 419.4,195 420.3,195 421.1,195.1 421.9,195.1 422.7,195.2 423.6,195.2 424.4,195.2 425.2,195.3 426,195.3 426.9,195.4 427.7,195.4 428.5,195.4 429.4,195.5 430.2,195.5 431,195.5 431.8,195.6 432.7,195.6 433.5,195.6 434.3,195.6 435.2,195.7 436,195.7 436.8,195.7 437.6,195.8 438.5,195.8 439.3,195.8 440.1,195.8 441,195.9 441.8,195.9 442.6,195.9 443.4,195.9 444.3,196 445.1,196 445.9,196 446.7,196 447.6,196 448.4,196.1 449.2,196.1 450.1,196.1 450.9,196.1 451.7,196.1 452.5,196.2 453.4,196.2 454.2,196.2 455,196.2 455.9,196.2 456.7,196.2 457.5,196.3 458.3,196.3 459.2,196.3 460,196.3 460.8,196.3 461.7,196.3 462.5,196.4 463.3,196.4 464.1,196.4 465,196.4 465.8,196.4 466.6,196.4 467.4,196.4 468.3,196.5 469.1,196.5 469.9,196.5 470.8,196.5 471.6,196.5 472.4,196.5 473.2,196.5 474.1,196.5 474.9,196.6"/>
<polyline fill="none" stroke="#6262f2" stroke-width="1.05" points="205.8,228 216.1,228.3 226.5,228.1 236.9,228.4 247.2,227.9 257.6,228.2 267.9,227.9 276.2,228.1 284.5,227.4 294.8,226.3 305.2,227 313.4,228.2 318.6,230 321.3,231.9 324.2,230.5 327.9,226 331,224.5 335.2,226 339.3,230 342.8,231.5 348.6,231.4 354.8,229.5 361.1,227.2 366.2,226.7 375.5,227.3 383.8,227 392.1,227.9 400.4,227.2 408.7,228.3 416.9,227.6 425.2,228.1 433.5,227.5 443.9,228 454.2,227.4 464.6,227.9 474.9,227.8"/>
<line x1="323.9" y1="214" x2="323.9" y2="220.2" stroke="#444" stroke-width="1"/>
<g stroke="#333" stroke-width="1.2" fill="none">
<path d="M205.6 14.2 V236.8 M205 236.2 H475"/>
<line x1="205.6" y1="236.2" x2="209.8" y2="236.2"/><line x1="205.6" y1="225.6" x2="207.6" y2="225.6"/><line x1="205.6" y1="215.1" x2="209.8" y2="215.1"/><line x1="205.6" y1="204.5" x2="207.6" y2="204.5"/><line x1="205.6" y1="193.9" x2="209.8" y2="193.9"/><line x1="205.6" y1="183.3" x2="207.6" y2="183.3"/><line x1="205.6" y1="172.8" x2="209.8" y2="172.8"/><line x1="205.6" y1="162.2" x2="207.6" y2="162.2"/><line x1="205.6" y1="151.6" x2="209.8" y2="151.6"/><line x1="205.6" y1="141.1" x2="207.6" y2="141.1"/><line x1="205.6" y1="130.5" x2="209.8" y2="130.5"/><line x1="205.6" y1="119.9" x2="207.6" y2="119.9"/><line x1="205.6" y1="109.4" x2="209.8" y2="109.4"/><line x1="205.6" y1="98.8" x2="207.6" y2="98.8"/><line x1="205.6" y1="88.2" x2="209.8" y2="88.2"/><line x1="205.6" y1="77.6" x2="207.6" y2="77.6"/><line x1="205.6" y1="67.1" x2="209.8" y2="67.1"/><line x1="205.6" y1="56.5" x2="207.6" y2="56.5"/><line x1="205.6" y1="45.9" x2="209.8" y2="45.9"/><line x1="205.6" y1="35.4" x2="207.6" y2="35.4"/><line x1="205.6" y1="24.8" x2="209.8" y2="24.8"/><line x1="205.6" y1="14.2" x2="207.6" y2="14.2"/><line x1="216.1" y1="232.2" x2="216.1" y2="236.2"/><line x1="267.9" y1="232.2" x2="267.9" y2="236.2"/><line x1="319.6" y1="232.2" x2="319.6" y2="236.2"/><line x1="371.4" y1="232.2" x2="371.4" y2="236.2"/><line x1="423.1" y1="232.2" x2="423.1" y2="236.2"/><line x1="474.9" y1="232.2" x2="474.9" y2="236.2"/>
</g>
<g font-size="14" text-anchor="middle"><text x="267.9" y="252">36.0</text><text x="371.4" y="252">36.5</text><text x="474.9" y="252">37.0</text></g>
</svg>
<g font-size="20"><text x="223.8" y="50.5">(</text><text transform="translate(231.8 50.5) scale(0.8 1)">a</text><text x="242.4" y="50.5">)</text></g>
<text font-size="14.5" text-anchor="middle" transform="translate(333.3,142.1) rotate(-90)">(101)</text>
<!-- legend -->
<circle cx="447.5" cy="48.7" r="2" fill="none" stroke="#555" stroke-width="0.9"/>
<line x1="429.8" y1="68.3" x2="465" y2="68.3" stroke="#f06060" stroke-width="1.2"/>
<line x1="429.8" y1="87.8" x2="465" y2="87.8" stroke="#6a6aff" stroke-width="1.2"/>
<line x1="447.7" y1="102.7" x2="447.7" y2="112.7" stroke="#444" stroke-width="1.2"/>
<g font-size="15.4">
<text x="469.6" y="53.8">data</text>
<text x="469.6" y="73.2">simulated</text>
<text x="469.6" y="92.8">difference</text>
<text x="469.6" y="112.4">bragg's positions</text>
</g>
<defs>
<radialGradient id="rb" cx="0.4" cy="0.35" r="0.65"><stop offset="0" stop-color="#ff5050"/><stop offset="0.45" stop-color="#f00000"/><stop offset="1" stop-color="#8a0000"/></radialGradient>
<linearGradient id="cg" x1="0" y1="0" x2="1" y2="1"><stop offset="0" stop-color="#f4f4ff"/><stop offset="0.4" stop-color="#c8c8f0"/><stop offset="1" stop-color="#9c9cd2"/></linearGradient>
</defs>
<path d="M557.4 181.6L556.8 155.5 M557.4 181.6L579.2 166.2 M557.4 181.6L519 188 M595.7 149L621.5 170.4 M660.7 164.6L621.5 170.4 M551.7 234.6L551.7 207 M551.7 234.6L513.9 241.2 M551.7 234.6L569 270.8 M575.2 244.5L536.1 251.9 M575.2 244.5L591.5 280.7 M575.2 244.5L597 228.6 M589.6 200.5L616.2 223.5 M616.2 223.5L608 264.2 M639.5 234.4L630.2 274.9 M639.5 234.4L677.3 227.8 M635.6 222.1L655 216.5 M616.2 223.5L635.6 222.1" stroke="#ff0000" stroke-width="1.5" stroke-dasharray="1.4 0.7" fill="none"/>
<path d="M574.2 216.8L565.8 199.2 M574.2 216.8L593.8 213.4 M574.2 216.8L563 225.7 M574.2 216.8L574.7 230.7 M621.5 170.4L617.4 190.2 M639.5 234.4L626.4 222.2" stroke="#8088b4" stroke-width="3.6" fill="none"/>
<path d="M565.8 199.2L557.4 181.6 M593.8 213.4L613.3 210 M563 225.7L551.7 234.6 M574.7 230.7L575.2 244.5 M617.4 190.2L613.3 210 M626.4 222.2L613.3 210" stroke="#e80000" stroke-width="3.6" fill="none"/>
<g transform="translate(556.2 156.5)"><rect x="-5.6" y="-4.4" width="10.6" height="10" rx="2" fill="#3e3e6c"/><rect x="-4.4" y="-5.2" width="9.8" height="8.8" rx="1.6" fill="url(#cg)"/><text x="-0.8" y="-0.3" font-size="8.4" style="font-weight:normal;paint-order:stroke" fill="#4a4a4a" stroke="#fff" stroke-width="0.9" stroke-opacity="0.7">Zn</text></g>
<g transform="translate(578.6 167.2)"><rect x="-5.6" y="-4.4" width="10.6" height="10" rx="2" fill="#3e3e6c"/><rect x="-4.4" y="-5.2" width="9.8" height="8.8" rx="1.6" fill="url(#cg)"/><text x="-0.8" y="-0.3" font-size="8.4" style="font-weight:normal;paint-order:stroke" fill="#4a4a4a" stroke="#fff" stroke-width="0.9" stroke-opacity="0.7">Zn</text></g>
<g transform="translate(518.4 189)"><rect x="-5.6" y="-4.4" width="10.6" height="10" rx="2" fill="#3e3e6c"/><rect x="-4.4" y="-5.2" width="9.8" height="8.8" rx="1.6" fill="url(#cg)"/><text x="-0.8" y="-0.3" font-size="8.4" style="font-weight:normal;paint-order:stroke" fill="#4a4a4a" stroke="#fff" stroke-width="0.9" stroke-opacity="0.7">Zn</text></g>
<g transform="translate(551.1 208)"><rect x="-5.6" y="-4.4" width="10.6" height="10" rx="2" fill="#3e3e6c"/><rect x="-4.4" y="-5.2" width="9.8" height="8.8" rx="1.6" fill="url(#cg)"/><text x="-0.8" y="-0.3" font-size="8.4" style="font-weight:normal;paint-order:stroke" fill="#4a4a4a" stroke="#fff" stroke-width="0.9" stroke-opacity="0.7">Zn</text></g>
<g transform="translate(620.9 171.4)"><rect x="-5.6" y="-4.4" width="10.6" height="10" rx="2" fill="#3e3e6c"/><rect x="-4.4" y="-5.2" width="9.8" height="8.8" rx="1.6" fill="url(#cg)"/><text x="-0.8" y="-0.3" font-size="8.4" style="font-weight:normal;paint-order:stroke" fill="#4a4a4a" stroke="#fff" stroke-width="0.9" stroke-opacity="0.7">Zn</text></g>
<g transform="translate(573.6 217.8)"><rect x="-5.6" y="-4.4" width="10.6" height="10" rx="2" fill="#3e3e6c"/><rect x="-4.4" y="-5.2" width="9.8" height="8.8" rx="1.6" fill="url(#cg)"/><text x="-0.8" y="-0.3" font-size="8.4" style="font-weight:normal;paint-order:stroke" fill="#4a4a4a" stroke="#fff" stroke-width="0.9" stroke-opacity="0.7">Zn</text></g>
<g transform="translate(513.3 242.2)"><rect x="-5.6" y="-4.4" width="10.6" height="10" rx="2" fill="#3e3e6c"/><rect x="-4.4" y="-5.2" width="9.8" height="8.8" rx="1.6" fill="url(#cg)"/><text x="-0.8" y="-0.3" font-size="8.4" style="font-weight:normal;paint-order:stroke" fill="#4a4a4a" stroke="#fff" stroke-width="0.9" stroke-opacity="0.7">Zn</text></g>
<g transform="translate(535.5 252.9)"><rect x="-5.6" y="-4.4" width="10.6" height="10" rx="2" fill="#3e3e6c"/><rect x="-4.4" y="-5.2" width="9.8" height="8.8" rx="1.6" fill="url(#cg)"/><text x="-0.8" y="-0.3" font-size="8.4" style="font-weight:normal;paint-order:stroke" fill="#4a4a4a" stroke="#fff" stroke-width="0.9" stroke-opacity="0.7">Zn</text></g>
<g transform="translate(568.4 271.8)"><rect x="-5.6" y="-4.4" width="10.6" height="10" rx="2" fill="#3e3e6c"/><rect x="-4.4" y="-5.2" width="9.8" height="8.8" rx="1.6" fill="url(#cg)"/><text x="-0.8" y="-0.3" font-size="8.4" style="font-weight:normal;paint-order:stroke" fill="#4a4a4a" stroke="#fff" stroke-width="0.9" stroke-opacity="0.7">Zn</text></g>
<g transform="translate(590.9 281.7)"><rect x="-5.6" y="-4.4" width="10.6" height="10" rx="2" fill="#3e3e6c"/><rect x="-4.4" y="-5.2" width="9.8" height="8.8" rx="1.6" fill="url(#cg)"/><text x="-0.8" y="-0.3" font-size="8.4" style="font-weight:normal;paint-order:stroke" fill="#4a4a4a" stroke="#fff" stroke-width="0.9" stroke-opacity="0.7">Zn</text></g>
<g transform="translate(615.6 224.5)"><rect x="-5.6" y="-4.4" width="10.6" height="10" rx="2" fill="#3e3e6c"/><rect x="-4.4" y="-5.2" width="9.8" height="8.8" rx="1.6" fill="url(#cg)"/><text x="-0.8" y="-0.3" font-size="8.4" style="font-weight:normal;paint-order:stroke" fill="#4a4a4a" stroke="#fff" stroke-width="0.9" stroke-opacity="0.7">Zn</text></g>
<g transform="translate(638.9 235.4)"><rect x="-5.6" y="-4.4" width="10.6" height="10" rx="2" fill="#3e3e6c"/><rect x="-4.4" y="-5.2" width="9.8" height="8.8" rx="1.6" fill="url(#cg)"/><text x="-0.8" y="-0.3" font-size="8.4" style="font-weight:normal;paint-order:stroke" fill="#4a4a4a" stroke="#fff" stroke-width="0.9" stroke-opacity="0.7">Zn</text></g>
<g transform="translate(596.4 229.6)"><rect x="-5.6" y="-4.4" width="10.6" height="10" rx="2" fill="#3e3e6c"/><rect x="-4.4" y="-5.2" width="9.8" height="8.8" rx="1.6" fill="url(#cg)"/><text x="-0.8" y="-0.3" font-size="8.4" style="font-weight:normal;paint-order:stroke" fill="#4a4a4a" stroke="#fff" stroke-width="0.9" stroke-opacity="0.7">Zn</text></g>
<circle cx="557.4" cy="181.6" r="5.4" fill="url(#rb)"/><circle cx="559.8" cy="179.8" r="2.4" fill="#ffb0b0" fill-opacity="0.35" stroke="#6e6e6e" stroke-width="1.35"/><circle cx="559.8" cy="179.8" r="3.4" fill="none" stroke="#fff" stroke-opacity="0.45" stroke-width="0.7"/>
<circle cx="595.7" cy="149" r="5.4" fill="url(#rb)"/><circle cx="598.1" cy="147.2" r="2.4" fill="#ffb0b0" fill-opacity="0.35" stroke="#6e6e6e" stroke-width="1.35"/><circle cx="598.1" cy="147.2" r="3.4" fill="none" stroke="#fff" stroke-opacity="0.45" stroke-width="0.7"/>
<circle cx="617.9" cy="159.7" r="5.4" fill="url(#rb)"/><circle cx="620.3" cy="157.9" r="2.4" fill="#ffb0b0" fill-opacity="0.35" stroke="#6e6e6e" stroke-width="1.35"/><circle cx="620.3" cy="157.9" r="3.4" fill="none" stroke="#fff" stroke-opacity="0.45" stroke-width="0.7"/>
<circle cx="660.7" cy="164.6" r="5.4" fill="url(#rb)"/><circle cx="663.1" cy="162.8" r="2.4" fill="#ffb0b0" fill-opacity="0.35" stroke="#6e6e6e" stroke-width="1.35"/><circle cx="663.1" cy="162.8" r="3.4" fill="none" stroke="#fff" stroke-opacity="0.45" stroke-width="0.7"/>
<circle cx="589.6" cy="200.5" r="5.4" fill="url(#rb)"/><circle cx="592" cy="198.7" r="2.4" fill="#ffb0b0" fill-opacity="0.35" stroke="#6e6e6e" stroke-width="1.35"/><circle cx="592" cy="198.7" r="3.4" fill="none" stroke="#fff" stroke-opacity="0.45" stroke-width="0.7"/>
<circle cx="613.3" cy="210" r="5.4" fill="url(#rb)"/><circle cx="615.7" cy="208.2" r="2.4" fill="#ffb0b0" fill-opacity="0.35" stroke="#6e6e6e" stroke-width="1.35"/><circle cx="615.7" cy="208.2" r="3.4" fill="none" stroke="#fff" stroke-opacity="0.45" stroke-width="0.7"/>
<circle cx="655" cy="216.5" r="5.4" fill="url(#rb)"/><circle cx="657.4" cy="214.7" r="2.4" fill="#ffb0b0" fill-opacity="0.35" stroke="#6e6e6e" stroke-width="1.35"/><circle cx="657.4" cy="214.7" r="3.4" fill="none" stroke="#fff" stroke-opacity="0.45" stroke-width="0.7"/>
<circle cx="551.7" cy="234.6" r="5.4" fill="url(#rb)"/><circle cx="554.1" cy="232.8" r="2.4" fill="#ffb0b0" fill-opacity="0.35" stroke="#6e6e6e" stroke-width="1.35"/><circle cx="554.1" cy="232.8" r="3.4" fill="none" stroke="#fff" stroke-opacity="0.45" stroke-width="0.7"/>
<circle cx="575.2" cy="244.5" r="5.4" fill="url(#rb)"/><circle cx="577.6" cy="242.7" r="2.4" fill="#ffb0b0" fill-opacity="0.35" stroke="#6e6e6e" stroke-width="1.35"/><circle cx="577.6" cy="242.7" r="3.4" fill="none" stroke="#fff" stroke-opacity="0.45" stroke-width="0.7"/>
<circle cx="635.6" cy="222.1" r="5.4" fill="url(#rb)"/><circle cx="638" cy="220.3" r="2.4" fill="#ffb0b0" fill-opacity="0.35" stroke="#6e6e6e" stroke-width="1.35"/><circle cx="638" cy="220.3" r="3.4" fill="none" stroke="#fff" stroke-opacity="0.45" stroke-width="0.7"/>
<circle cx="677.3" cy="227.8" r="5.4" fill="url(#rb)"/><circle cx="679.7" cy="226" r="2.4" fill="#ffb0b0" fill-opacity="0.35" stroke="#6e6e6e" stroke-width="1.35"/><circle cx="679.7" cy="226" r="3.4" fill="none" stroke="#fff" stroke-opacity="0.45" stroke-width="0.7"/>
<circle cx="608" cy="264.2" r="5.4" fill="url(#rb)"/><circle cx="610.4" cy="262.4" r="2.4" fill="#ffb0b0" fill-opacity="0.35" stroke="#6e6e6e" stroke-width="1.35"/><circle cx="610.4" cy="262.4" r="3.4" fill="none" stroke="#fff" stroke-opacity="0.45" stroke-width="0.7"/>
<circle cx="630.2" cy="274.9" r="5.4" fill="url(#rb)"/><circle cx="632.6" cy="273.1" r="2.4" fill="#ffb0b0" fill-opacity="0.35" stroke="#6e6e6e" stroke-width="1.35"/><circle cx="632.6" cy="273.1" r="3.4" fill="none" stroke="#fff" stroke-opacity="0.45" stroke-width="0.7"/>
<g font-size="20"><text x="506.9" y="160.6">(</text><text transform="translate(513.6 160.6) scale(0.8 1)">b</text><text x="524.3" y="160.6">)</text></g>
</svg>
</body></html>
